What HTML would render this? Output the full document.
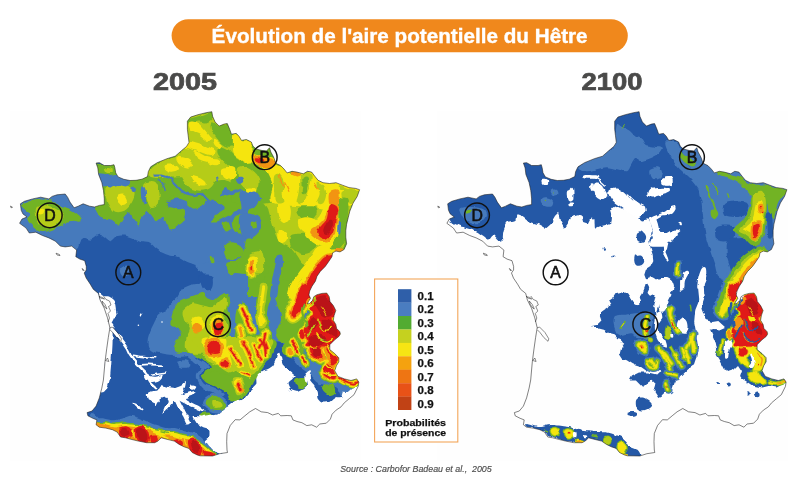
<!DOCTYPE html>
<html lang="fr">
<head>
<meta charset="utf-8">
<title>Évolution de l'aire potentielle du Hêtre</title>
<style>
html,body{margin:0;padding:0;background:#fff;}
body{width:800px;height:491px;overflow:hidden;position:relative;font-family:"Liberation Sans",sans-serif;}
svg{position:absolute;left:0;top:0;display:block;}
text{font-family:"Liberation Sans",sans-serif;}
</style>
</head>
<body>
<svg width="800" height="491" viewBox="0 0 800 491" role="img" aria-label="Évolution de l'aire potentielle du Hêtre, 2005 et 2100">
<defs>
<filter id="soft" x="0" y="0" width="100%" height="100%" filterUnits="objectBoundingBox" color-interpolation-filters="sRGB">
<feTurbulence type="fractalNoise" baseFrequency="0.11" numOctaves="2" seed="7" result="n"/>
<feDisplacementMap in="SourceGraphic" in2="n" scale="4.5" xChannelSelector="R" yChannelSelector="G" result="d"/>
<feGaussianBlur in="d" stdDeviation="0.45"/>
</filter>
<path id="fr" d="M20.4 203.8 L24.4 201.3 L32.6 198.9 L40.7 197.2 L48.9 198.9 L52.1 196.4 L57 194.8 L65.2 194 L67.6 197.2 L70 202.1 L74.1 207.8 L78.2 206.2 L83.1 203.8 L89.6 206.2 L94.5 207 L99.4 205.4 L104.3 204.6 L104.3 198.9 L103.5 190.7 L101.8 182.6 L98.6 174.4 L97.8 167.9 L96.1 163 L99.4 162.7 L104.3 165.5 L110.8 165.5 L114 164.7 L114.9 167.9 L115.7 172.8 L118.1 176.9 L123.8 179.3 L130 180.5 L136 180.3 L142 179.2 L147.5 176.6 L148.3 171.7 L150.7 166.8 L157.2 162.7 L167 158.7 L175.2 156.2 L181.7 150.5 L186.6 146.4 L189 142.4 L188.2 135.8 L187.4 129.3 L187.4 121.2 L190.6 117.1 L198 114.7 L206.1 112.7 L211.8 111.7 L212.6 116.3 L215.1 122 L219.2 126.1 L224 124.1 L227.3 123.6 L229.7 129.3 L231.4 134.2 L236.3 133.4 L239 136.3 L241.5 140.4 L246.4 139.6 L251.3 142 L252.9 146.1 L256 149 L262 150.5 L266.5 151 L269.5 147.7 L270.8 152 L273 156 L274.1 158.3 L275.7 163.2 L280.6 165.6 L283.9 168.9 L287.1 172.9 L292 171.3 L296.9 172.1 L303.4 173.8 L307.5 171.3 L311.6 172.1 L314.8 176.2 L318.1 180.3 L323 182.7 L329.5 183.5 L336 182.7 L342.5 185.2 L349 187.6 L355.6 188.4 L359.6 189.7 L357.2 196.5 L353.1 203 L349.8 211.2 L348.2 217.7 L346.6 224.2 L345.8 230.7 L345.8 237.2 L346.6 243.8 L344.1 249.5 L340 251.9 L336 251.1 L332.7 252.7 L331.9 256.8 L328.6 261.7 L325.2 266.5 L320.3 271.4 L317 276.3 L315.4 281.2 L312.1 286.1 L309.7 291 L308.9 295 L310.5 298.3 L308.5 301.5 L307.2 304 L309.5 303.5 L312.5 300.5 L313.8 296.7 L317 294.7 L321.9 293.4 L326.8 293.1 L329.2 296.7 L330 301.5 L333.3 305.6 L335.8 310.5 L334.1 315.4 L333.3 320.3 L335.8 324.4 L336.6 328.4 L339.8 331.7 L340.4 334 L338.8 336.5 L334.7 339.8 L329.8 344.7 L329.8 349.6 L334.7 353.6 L338.8 357.7 L338.8 361.8 L336.4 365.8 L334.7 370.7 L338 376.4 L344.5 378.9 L351 380.5 L356.7 378.9 L358.8 382.1 L358.1 386.5 L354 394.7 L349.2 398.7 L344.3 402.8 L341 406.9 L336.1 410.1 L332.1 414.2 L330.4 419.1 L326.3 423.2 L319.8 424 L316.6 427.2 L311.7 424.8 L306.8 425.6 L301.9 422.7 L297 421.5 L292.9 419.9 L291.3 415.8 L287.2 415.5 L280.7 415.8 L278.3 413.4 L272.6 415 L267.7 412.6 L261.2 411.8 L255.5 408.5 L249.8 411.8 L244.9 415.8 L240 419.9 L235.2 419.7 L230.3 425.4 L227 433.5 L226.7 441.7 L227 450 L227.5 452.5 L219.6 453.7 L212.5 456 L200 455.8 L197.1 454.9 L192.2 452.5 L188.9 448.4 L184 446.8 L179.2 444.4 L174.3 441.1 L167.8 439.5 L161.2 437.8 L158 441.1 L154.7 442.7 L146.6 442.7 L138.4 441.1 L131.9 439.5 L125.4 437.8 L120.5 437 L117.2 432.1 L112.4 429.7 L105.8 428.1 L99.3 427.2 L96.1 424.8 L96.9 419.9 L92.8 418.3 L87.9 415.8 L87.1 412.6 L92 411 L96.1 406.1 L99.3 397.9 L101.8 388.1 L103.4 380 L105 361.9 L106.7 348.9 L108.3 337.5 L109.9 327.7 L107.5 317.9 L104.2 308.1 L100.1 300 L98.4 293.4 L93.3 289.3 L90.3 284.2 L86.2 278.1 L84.2 273 L86.3 270 L86.3 266.4 L84.7 260.7 L79.8 259.1 L75.8 256.7 L76.6 250.1 L71.7 246.1 L65.2 246.9 L60.3 246.1 L55.4 241.2 L48.9 237.9 L42.4 235.5 L35.8 232.2 L29.3 233 L26.1 228.1 L19.6 223.3 L22 219 L27 217 L23 214 L21.2 210.3Z"/>
<clipPath id="frclip"><use href="#fr"/></clipPath>
</defs>
<rect width="800" height="491" fill="#fff"/>
<rect x="10" y="111" width="351" height="350" fill="#fefefe"/>
<rect x="437" y="111" width="351" height="350" fill="#fefefe"/>
<g id="map2005">
<g clip-path="url(#frclip)"><g filter="url(#soft)">
<rect x="0" y="100" width="370" height="370" fill="#2458a6"/>
<path d="M10 200C15.2 195.9 48.3 194.7 60 190C71.7 185.3 93.7 169.9 110 160C126.3 150.1 181.3 107.3 200 105C218.7 102.7 250.8 130.7 270 140C289.2 149.3 355.7 166.3 365 185C374.3 203.7 357.6 286.6 350 300C342.4 313.4 308.2 296.5 300 300C291.8 303.5 284.4 324.8 280 330C275.6 335.2 266.7 342.7 262 345C257.3 347.3 244.3 351.2 240 350C235.7 348.8 228.3 340.8 225 335C221.7 329.2 213.3 305.8 212 300C210.7 294.2 214 287.5 214 285C214 282.5 213.5 280.2 212.4 278.7C211.3 277.2 205.6 273.4 204.3 272.1C203 270.8 202.3 268.1 201 267.2C199.7 266.3 194.8 264.8 192.9 264C191 263.2 186.4 261.6 184.7 260.7C183 259.8 179.9 257.3 178.2 256.7C176.5 256.1 171.9 256.3 170 255.8C168.1 255.3 163.6 253.5 161.9 252.6C160.2 251.7 156.9 248.9 155.4 247.7C153.9 246.5 150.6 242.8 148.9 242C147.2 241.2 142.6 241.7 140.7 241.2C138.8 240.7 134.5 238.6 132.6 237.9C130.7 237.2 126.3 235.7 124.4 235.5C122.5 235.3 118 235.6 116.3 236.3C114.6 237 111.7 241.4 109.8 241.2C107.9 241 102.2 234.9 100 234.7C97.8 234.5 93 239.2 91.2 239.6C89.4 240 86 237.7 84.7 237.9C83.4 238.1 80.8 239.8 79.8 241.2C78.8 242.6 78.3 249.2 76 250C73.7 250.8 65.4 249.8 60 248C54.6 246.2 35.2 237.7 30 235C24.8 232.3 17.3 229.1 15 225C12.7 220.9 4.8 204.1 10 200Z" fill="#467abc"/>
<path d="M156.5 317.5C157.7 312 163.4 312.7 165.3 310.9C167.2 309.1 168.9 305.8 170.5 303.9C172.1 302 175.9 299 177.5 296.9C179.1 294.8 180.9 289.7 182.8 288.1C184.7 286.5 189.2 285.3 191.5 284.6C193.8 283.9 198.6 284.1 200.3 282.9C202 281.7 204.1 278.1 204.1 275.5C204.1 272.9 187.3 264.8 200.6 263.2C213.9 261.6 289.8 251.3 303.5 263.2C317.2 275.1 323.1 340.6 303.5 352.5C283.9 364.4 176.1 357.2 156.5 352.5C136.9 347.8 155.3 323 156.5 317.5Z" fill="#467abc"/>
<path d="M184.5 341.8C185.7 340.2 190.1 338.4 191.5 338.2C192.9 338 195.5 339.1 195 340C194.5 340.9 188.5 343.7 188 345.3C187.5 346.9 190.1 350.4 191.5 352.3C192.9 354.2 196.6 357.9 198.5 359.3C200.4 360.7 204.1 361.9 205.5 362.8C206.9 363.7 209.2 365.4 209 366.3C208.8 367.2 205 368.4 203.8 369.8C202.6 371.2 200.3 374.9 200.3 376.8C200.3 378.7 202.2 382.4 203.8 383.8C205.4 385.2 210.4 386.4 212.5 387.3C214.6 388.2 217.9 389.9 219.5 390.8C221.1 391.7 224.6 393.6 224.8 394.3C225 395 222.9 396.2 221.3 396C219.7 395.8 214.8 393.4 212.5 392.5C210.2 391.6 205.7 390.4 203.8 389C201.9 387.6 199.4 383.9 198.5 382C197.6 380.1 196.6 376.9 196.8 375C197 373.1 200.5 369.6 200.3 368C200.1 366.4 196.6 364.2 195 362.8C193.4 361.4 189.6 359.1 188 357.5C186.4 355.9 183.3 352.6 182.8 350.5C182.3 348.4 183.3 343.4 184.5 341.8Z" fill="#467abc"/>
<path d="M209 397.8C210.8 396.6 213.7 395.4 216 396C218.3 396.6 221.2 399.6 223 401.3C224.8 403.1 227.1 405.1 226.5 406.5C225.9 407.9 222.1 409.7 219.5 410C216.9 410.3 213.1 409.5 210.8 408.3C208.5 407.1 205.8 404.8 205.5 403C205.2 401.2 207.2 399 209 397.8Z" fill="#467abc" stroke="#467abc" stroke-width="5" stroke-linejoin="round" stroke-linecap="round"/>
<path d="M174 349.1C175.9 347.8 184.2 347.3 186.3 348.4C188.4 349.5 188.5 354.5 186.6 355.8C184.7 357.1 176.8 357.2 174.7 356.1C172.6 355 172.1 350.4 174 349.1Z" fill="#467abc"/>
<path d="M179.3 361.4C180.7 360.2 186.5 359.9 188 361C189.5 362.1 189.8 366.8 188.4 368C187 369.2 181.1 369.1 179.6 368C178.1 366.9 177.9 362.6 179.3 361.4Z" fill="#467abc"/>
<path d="M257.7 294.4C259.9 287.8 269.9 290.1 274 292C278.1 293.9 284.4 303.1 288.1 308.4C291.8 313.7 298 324.6 302.1 331.8C306.2 339 313.8 356 318.5 362.2C323.2 368.4 331.6 376.4 337.2 378.6C342.8 380.8 357.5 376.4 360.6 378.6C363.7 380.8 366.2 392.8 360.6 395C355 397.2 328.2 397.2 318.5 395C308.8 392.8 294.6 383.9 288.1 378.6C281.6 373.3 273.5 360.2 269.4 355.2C265.3 350.2 259.3 349.3 257.7 341.2C256.1 333.1 255.5 301 257.7 294.4Z" fill="#467abc"/>
<path d="M313.1 297.2C314.1 295.8 317.4 294.7 319.2 294.2C321 293.7 325.2 293.1 326.5 293.5C327.8 293.9 328.5 296.1 329 297.2C329.5 298.3 329.5 301 330.2 302.1C330.9 303.2 333.2 304.7 333.9 305.8C334.6 306.9 335.7 309.3 335.7 310.6C335.7 311.9 334.5 314.4 333.9 315.5C333.3 316.6 331.2 318.2 331.4 319.2C331.6 320.2 334.1 321.8 335.1 322.9C336.1 324 337.9 326.4 338.7 327.7C339.5 329 341.1 331.3 341.2 332.6C341.3 333.9 339.6 336.2 339.4 337.5C339.2 338.8 340.1 341.3 340 342.4C339.9 343.5 343.3 345.6 338.7 346.1C334.1 346.6 309.9 347.1 305.8 346.1C301.7 345.1 308 340.3 308.2 338.7C308.4 337.1 307.5 334.9 307 333.9C306.5 332.9 304.7 332.4 304.5 331.4C304.3 330.4 305.5 327.8 305.8 326.5C306.1 325.2 306.5 322.7 307 321.6C307.5 320.5 308.6 318.8 309.4 318C310.2 317.2 312.8 316.5 313.1 315.5C313.4 314.5 312.4 311.6 311.9 310.6C311.4 309.6 309.4 309 309.4 308.2C309.4 307.4 311.4 306 311.9 304.5C312.4 303 312.1 298.6 313.1 297.2Z" fill="#467abc" stroke="#467abc" stroke-width="10" stroke-linejoin="round" stroke-linecap="round"/>
<path d="M307 333.8C311.7 333.1 335.8 333 340 333.8C344.2 334.6 339.5 338.8 338.7 339.9C337.9 341 335.4 341.6 333.9 342.3C332.4 343 328.4 343.8 327.7 344.8C327 345.8 328.2 348.6 329 349.7C329.8 350.8 332.8 352.3 333.9 353.3C335 354.3 336.9 356 337.5 357C338.1 358 338.9 359.6 338.7 360.6C338.5 361.6 336.9 363.2 336.3 364.3C335.7 365.4 333.9 368.1 333.9 369.2C333.9 370.3 335.7 371.9 336.3 372.9C336.9 373.9 339 375.5 338.7 376.5C338.4 377.5 335.2 379.9 333.9 380.2C332.6 380.5 330.3 379.5 329 379C327.7 378.5 325.1 377.5 324.1 376.5C323.1 375.5 321.6 372.9 321.6 371.6C321.6 370.3 323.4 367.9 324.1 366.8C324.8 365.7 326.5 364.1 326.5 363.1C326.5 362.1 324.9 359.6 324.1 359.4C323.3 359.2 321.4 361.9 320.4 361.9C319.4 361.9 317.9 360.1 316.8 359.4C315.7 358.7 313 358 311.9 357C310.8 356 308.5 353.4 308.2 352.1C307.9 350.8 309.6 348.5 309.4 347.2C309.2 345.9 307.7 343.4 307 342.3C306.3 341.2 304.5 339.8 304.5 338.7C304.5 337.6 302.3 334.5 307 333.8Z" fill="#467abc" stroke="#467abc" stroke-width="9.6" stroke-linejoin="round" stroke-linecap="round"/>
<path d="M300.3 331.4C300.8 330.1 302.5 329.2 303.3 329.6C304.1 330 305.2 332.4 305.2 333.9C305.2 335.4 304.1 338.1 303.3 338.7C302.5 339.3 300.8 338.7 300.3 337.5C299.8 336.3 299.8 332.7 300.3 331.4Z" fill="#467abc" stroke="#467abc" stroke-width="10" stroke-linejoin="round" stroke-linecap="round"/>
<path d="M292.3 341.1C292.9 342.1 295.2 345.2 296 347.2C296.8 349.2 297 352.3 297.2 353.3" fill="none" stroke="#467abc" stroke-width="12" stroke-linejoin="round" stroke-linecap="round"/>
<path d="M302.1 357 L305.8 363.1" fill="none" stroke="#467abc" stroke-width="11.6" stroke-linejoin="round" stroke-linecap="round"/>
<path d="M340 378C341 378.6 343.9 380.5 346.1 381.4C348.3 382.3 351.4 383.6 353.4 383.6C355.4 383.6 357.2 381.6 358 381.2" fill="none" stroke="#467abc" stroke-width="10.6" stroke-linejoin="round" stroke-linecap="round"/>
<path d="M295.1 378.6C296.8 377.4 302.6 376.2 304.5 377.4C306.4 378.6 307.6 383.7 306.8 385.6C306 387.6 301.8 389.3 299.8 389.1C297.8 388.9 295.4 386.2 294.6 384.5C293.8 382.8 293.5 379.8 295.1 378.6Z" fill="#467abc" stroke="#467abc" stroke-width="4" stroke-linejoin="round" stroke-linecap="round"/>
<path d="M323.2 385.6C324.9 384.6 330.7 383.3 332.6 384.5C334.6 385.7 335.7 390.9 334.9 392.7C334.1 394.4 329.9 395.3 327.9 395C325.9 394.7 323.5 392.4 322.7 390.8C321.9 389.2 321.5 386.7 323.2 385.6Z" fill="#467abc" stroke="#467abc" stroke-width="4" stroke-linejoin="round" stroke-linecap="round"/>
<path d="M88.8 416.9C89.9 416.6 94.5 418.2 96.3 418.4C98 418.6 101.8 418.2 103.8 418.4C105.8 418.6 110.9 420.3 113.1 420.3C115.3 420.3 120.5 418.9 122.5 418.4C124.5 417.9 128.2 415.9 130 415.8C131.8 415.7 135.5 416.9 137.5 417.6C139.5 418.3 144.7 420.5 146.9 421.4C149.1 422.3 154.1 424.3 156.3 425.1C158.5 425.9 163.4 427.8 165.6 428.1C167.8 428.5 172.8 427.8 175 428.1C177.2 428.4 182.2 430.4 184.4 430.9C186.6 431.4 191.8 432 193.8 432.8C195.8 433.6 199.8 436.3 201.3 437.5C202.8 438.7 205.8 441.8 206.9 443.1C208 444.4 209.9 447.2 211 448.4C212.1 449.6 215.2 451.8 216.3 453.4C217.4 455 220.2 460.9 220 461.9C219.8 462.9 216.4 461.9 214.4 461.9C212.4 461.9 205.3 461.8 203.1 461.9C200.9 462 198 463.7 195.6 462.8C193.2 461.9 185.3 456.1 182.5 454.4C179.7 452.6 173.9 448.9 171.3 447.8C168.7 446.7 162.4 444.8 160 445C157.6 445.2 153.2 449.2 150.6 449.7C148 450.2 140.8 450.4 137.5 449.7C134.2 449 125.6 445.5 122.5 444.1C119.4 442.7 114.1 439.1 111.3 437.5C108.5 435.9 100.9 432 98.1 430C95.3 428 88 422.1 86.9 420.6C85.8 419.1 87.7 417.2 88.8 416.9Z" fill="#467abc"/>
<path d="M92 413C93.7 413.3 98.7 417.7 100 420C101.3 422.3 100.8 426.3 100 427C99.2 427.7 96.7 425.5 95 424C93.3 422.5 90.5 419.8 90 418C89.5 416.2 90.3 412.7 92 413Z" fill="#467abc"/>
<path d="M121 268C122.2 266.9 125.4 265.3 127 265.5C128.6 265.7 130.3 267.4 130.5 269C130.7 270.6 129.2 273.8 128 275C126.8 276.2 124.3 277 123 276.5C121.7 276 120.3 273.4 120 272C119.7 270.6 119.8 269.1 121 268Z" fill="#467abc"/>
<path d="M269.4 343.5C271.3 341.6 278.3 339.6 281.1 341.2C283.9 342.8 287.9 351.8 290.4 355.2C292.9 358.6 297.3 364.4 299.8 366.9C302.3 369.4 306.6 371.7 309.1 373.9C311.6 376.1 314.8 381.4 318.5 383.3C322.2 385.2 334.7 385.5 337.2 388C339.7 390.5 343.7 400.1 337.2 402C330.7 403.9 296.5 405.7 288.1 402C279.7 398.3 276.8 380.1 274 373.9C271.2 367.7 267.6 359.3 267 355.2C266.4 351.1 267.5 345.4 269.4 343.5Z" fill="#2458a6"/>
<path d="M96.1 162.7C97.1 162.5 101.4 165.5 104.3 166C107.2 166.5 111.5 164.6 113.2 165.5C114.9 166.4 114.8 169.6 114.7 171.2C114.6 172.8 113.9 174.2 112.4 174.8C110.9 175.4 107.8 175.4 105.9 174.8C104.1 174.2 102.5 172.8 101.3 171.5C100 170.2 99.3 168.6 98.4 167.1C97.5 165.6 95.1 162.9 96.1 162.7Z" fill="#72b324"/>
<path d="M20.9 204.6C21.4 204 24.5 203.1 26.1 202.5C27.7 201.9 30.7 200.7 32.6 200.2C34.5 199.7 38.5 198.6 40.7 198.6C42.9 198.6 46.9 199.8 48.9 200.2C50.9 200.6 53.7 201.1 55.4 201.8C57.1 202.5 60.2 204.8 61.9 205.7C63.6 206.6 66.4 207.3 68.4 208.3C70.4 209.3 74.9 211.9 76.6 213.2C78.3 214.5 81 217.1 81.5 218.4C82 219.7 81.3 222.3 80.2 222.7C79.1 223.1 75.3 221.6 73.3 221.7C71.3 221.8 66.7 222.6 65.2 223.3C63.7 224 63.2 225.9 61.9 226.6C60.6 227.3 57.4 227.8 55.4 228.5C53.4 229.2 49.4 231.1 47.2 231.5C45 231.9 41 232.2 39.1 231.5C37.2 230.8 34 227.9 32.6 226.6C31.2 225.3 29.2 222.8 28.5 221.7C27.8 220.6 27.1 219.1 27.4 218.1C27.7 217.1 31.2 214.9 31 213.9C30.8 212.9 27.2 211.5 26.1 210.6C25 209.7 23.2 208.1 22.5 207.3C21.8 206.5 20.4 205.2 20.9 204.6Z" fill="#72b324"/>
<path d="M128 161.1 L148.3 161.1 L187 108.1 L292.8 108.1 L292.8 200.8 L128 200.8Z" fill="#72b324"/>
<path d="M95.9 209.7C97.1 215.9 104.2 217.6 106.1 218.9C108 220.2 110.8 220.1 112.2 220.9C113.6 221.7 117.1 225.6 118.3 225.4C119.5 225.2 121.2 220.4 122.4 218.9C123.6 217.4 127.1 212.5 128.5 212.7C129.9 212.9 133.4 219.4 134.6 220.9C135.8 222.4 138 225.6 138.7 225.4C139.4 225.2 139.8 220.6 140.7 218.9C141.6 217.2 145.6 211.2 146.8 210.7C148 210.2 149.7 213.6 150.9 214.8C152.1 216 155.6 221.1 157 221.3C158.4 221.5 161.9 216.4 163.1 216.8C164.3 217.2 166.3 223.5 167.2 225C168.1 226.5 170 229.4 171.2 229.4C172.4 229.4 175.9 226.4 177.4 225.4C178.9 224.4 182.9 222.4 183.9 220.9C184.9 219.4 186.1 214.4 185.9 212.7C185.7 211 182.8 207.8 181.8 206.6C180.8 205.4 178.6 202.8 177.4 202.6C176.2 202.4 172.4 204.8 171.2 204.6C170 204.4 167.2 201.4 167.2 200.5C167.2 199.6 170 197.2 171.2 196.5C172.4 195.8 176.2 194.2 177.4 194.4C178.6 194.6 180.2 197.3 181.4 198.5C182.6 199.7 186.1 203.4 187.5 204.6C188.9 205.8 191.9 208.5 193.6 208.7C195.3 208.9 200.6 207.6 201.8 206.6C203 205.6 204.7 201.9 204.2 200.5C203.7 199.1 197.5 194.9 197.7 194.4C197.9 193.9 204 195.8 205.9 196.5C207.8 197.2 212.3 199.6 214 200.5C215.7 201.4 219.3 203.6 220.5 204.6C221.7 205.6 225.1 207.5 224.6 208.7C224.1 209.9 218.1 213.3 216.4 214.8C214.7 216.3 209.7 220.6 209.9 221.3C210.1 222 216.2 221.4 218.1 220.9C220 220.4 224.3 217.8 226.2 216.8C228.1 215.8 232.5 213.9 234.4 212.7C236.3 211.5 240.6 207.3 242.5 206.6C244.4 205.9 248.2 206.1 250.6 206.6C253 207.1 261.4 215.4 262.8 210.7C264.2 206 282.3 171.1 262.8 165.9C243.3 160.7 115.4 160.8 95.9 165.9C76.4 171 94.7 203.5 95.9 209.7Z" fill="#72b324"/>
<path d="M232.3 218.9C233.7 216.2 239.4 214.5 242.5 214.8C245.6 215.1 249.6 218.5 251 220.9C252.4 223.3 252.4 226.9 251 229C249.6 231.1 245.3 233.2 242.5 233.5C239.7 233.8 236.1 233.5 234.4 231.1C232.7 228.7 231 221.6 232.3 218.9Z" fill="#72b324"/>
<path d="M222.1 221.9C223.1 220.9 226.8 219.7 228.2 220.9C229.6 222.1 230.8 227.2 230.3 229C229.8 230.8 226.6 231.8 225.2 231.5C223.8 231.2 222.6 228.6 222.1 227C221.6 225.4 221.1 222.9 222.1 221.9Z" fill="#72b324"/>
<path d="M224.2 247.4C224.9 244.9 227.6 242.7 230.3 242.3C233 242 238.4 243.4 240.5 245.3C242.6 247.2 243.9 251.1 242.9 253.5C241.9 255.9 237.2 259.3 234.4 260C231.6 260.7 227.9 259.6 226.2 257.5C224.5 255.4 223.5 249.9 224.2 247.4Z" fill="#72b324"/>
<path d="M209.9 256.5C210.3 255.6 212.4 256.1 213.2 257.1C213.9 258.1 214.8 261.7 214.4 262.6C214 263.5 211.7 263.6 210.9 262.6C210.2 261.6 209.5 257.4 209.9 256.5Z" fill="#72b324"/>
<path d="M246.6 239.2C248 237.6 252.5 236 254.7 235.1C256.9 234.2 261.7 227.2 262.8 232.1C263.9 237 267.1 266.5 262.8 271.8C258.5 277.1 234.4 272.9 230.3 271.8C226.2 270.7 230.9 265.5 232.3 263.6C233.7 261.7 238.9 259.7 240.5 257.5C242.1 255.3 243.7 249.8 244.5 247.4C245.3 245 245.2 240.8 246.6 239.2Z" fill="#72b324"/>
<path d="M248 193 L372.2 193 L372.2 296.9 L248 296.9Z" fill="#72b324"/>
<path d="M174 308.8C175.4 305.5 178.7 301.6 181 300C183.3 298.4 188.7 297.4 191.5 296.5C194.3 295.6 199.9 292.8 202 293C204.1 293.2 205.7 297.4 207.3 298.3C208.9 299.2 212.4 300.5 214.3 300C216.2 299.5 219.4 295.7 221.3 294.8C223.2 293.9 227.1 292.3 228.3 293C229.5 293.7 230.1 297.9 230 300C229.9 302.1 227.4 306.7 227.4 308.8C227.4 310.9 229.4 313.7 230 315.8C230.6 317.9 231.8 321.9 231.8 324.5C231.8 327.1 230.7 332.4 230 335C229.3 337.6 226.5 341.5 226.5 343.8C226.5 346.1 236.5 351.3 230 352.5C223.5 353.7 184.7 353.9 177.5 352.5C170.3 351.1 175.3 344.3 175.8 342C176.3 339.7 180.8 336.9 181 335C181.2 333.1 178.9 329.4 177.5 328C176.1 326.6 171 327.1 170.5 324.5C170 321.9 172.6 312.1 174 308.8Z" fill="#72b324"/>
<path d="M237 308.8C237.9 306.8 240.9 303.1 242.3 302.6C243.7 302.1 246.6 303.8 247.5 305.3C248.4 306.8 248.8 311.4 249.3 314C249.8 316.6 250.3 322.2 251 324.5C251.7 326.8 253.6 329.6 254.5 331.5C255.4 333.4 257.1 335.7 258 338.5C258.9 341.3 265.2 350.6 261.5 352.5C257.8 354.4 233.7 353.9 230 352.5C226.3 351.1 232.8 344.8 233.5 342C234.2 339.2 235.1 334.8 235.3 331.5C235.5 328.2 235.1 320.5 235.3 317.5C235.5 314.5 236.1 310.8 237 308.8Z" fill="#72b324"/>
<path d="M256.3 300C257 297.4 259.9 292.1 261.5 289.5C263.1 286.9 266.9 281.5 268.5 280.8C270.1 280.1 273.3 282.4 273.8 284.3C274.3 286.2 272.7 292 272 294.8C271.3 297.6 269.2 302.5 268.5 305.3C267.8 308.1 266.8 313 266.8 315.8C266.8 318.6 267.8 323.7 268.5 326.3C269.2 328.9 271.3 331.5 272 335C272.7 338.5 275.2 350.2 273.8 352.5C272.4 354.8 263.4 354.4 261.5 352.5C259.6 350.6 260.3 341.8 259.8 338.5C259.3 335.2 258.2 330.8 258 328C257.8 325.2 258.2 320.1 258 317.5C257.8 314.9 256.5 311.1 256.3 308.8C256.1 306.5 255.6 302.6 256.3 300Z" fill="#72b324"/>
<path d="M226.5 263.2C227.7 261.4 235.5 261.7 237 263.2C238.5 264.7 236.5 270.2 235.3 272C234.1 273.8 231.5 275.3 230 273.8C228.5 272.3 225.3 265 226.5 263.2Z" fill="#72b324"/>
<path d="M244 263.2C247.5 262 260.9 261.7 265 263.2C269.1 264.7 269.1 269.1 268.5 272C267.9 274.9 263.8 279.1 261.5 280.8C259.2 282.6 256.8 283.4 254.5 282.5C252.2 281.6 249.2 277.5 247.5 275.5C245.8 273.5 244.6 272.4 244 270.3C243.4 268.2 240.5 264.4 244 263.2Z" fill="#72b324"/>
<path d="M282.5 263.2C285.8 261.8 300.7 251.3 303.5 263.2C306.3 275.1 306.3 340.6 303.5 352.5C300.7 364.4 284.8 354.4 282.5 352.5C280.2 350.6 286 342 286 338.5C286 335 282.5 329.6 282.5 326.3C282.5 323 285.8 317.5 286 314C286.2 310.5 285 303.7 284.3 300C283.6 296.3 281.5 289.5 280.8 286C280.1 282.5 278.8 276.8 279 273.8C279.2 270.8 279.2 264.6 282.5 263.2Z" fill="#72b324"/>
<path d="M188 343.5C188.5 341.9 183.8 338.9 195 338.2C206.2 337.5 261.7 336.1 272 338.2C282.3 340.3 272.9 350.5 272 354C271.1 357.5 266.9 361.7 265 364.5C263.1 367.3 259.6 372.4 258 375C256.4 377.6 254.2 381.7 252.8 383.8C251.4 385.9 248.9 388.9 247.5 390.8C246.1 392.7 243.7 396.4 242.3 397.8C240.9 399.2 238.6 401.1 237 401.3C235.4 401.5 231.4 400.7 230 399.5C228.6 398.3 227.9 393.9 226.5 392.5C225.1 391.1 221.4 389.9 219.5 389C217.6 388.1 214.4 386.4 212.5 385.5C210.6 384.6 206.9 383.2 205.5 382C204.1 380.8 202 378.4 202 376.8C202 375.2 204.3 371.2 205.5 369.8C206.7 368.4 210.8 367.5 210.8 366.3C210.8 365.1 207.1 362.2 205.5 361C203.9 359.8 200.4 358.9 198.5 357.5C196.6 356.1 192.9 352.4 191.5 350.5C190.1 348.6 187.5 345.1 188 343.5Z" fill="#72b324"/>
<path d="M207.3 373.3C209.3 372.1 212.8 371.2 216 371.5C219.2 371.8 223.3 373.5 226.5 375C229.7 376.5 232.7 379.1 235.3 380.3C237.9 381.5 240.6 380.6 242.3 382C244.1 383.4 246.1 386.7 245.8 389C245.5 391.3 242.6 394.5 240.5 396C238.4 397.5 235.8 398.4 233.5 397.8C231.2 397.2 229.1 394.2 226.5 392.5C223.9 390.8 220.7 388.8 217.8 387.3C214.9 385.9 211.3 385.3 209 383.8C206.7 382.3 204.1 380.2 203.8 378.5C203.5 376.8 205.3 374.5 207.3 373.3Z" fill="#72b324"/>
<path d="M209 397.8C210.8 396.6 213.7 395.4 216 396C218.3 396.6 221.2 399.6 223 401.3C224.8 403.1 227.1 405.1 226.5 406.5C225.9 407.9 222.1 409.7 219.5 410C216.9 410.3 213.1 409.5 210.8 408.3C208.5 407.1 205.8 404.8 205.5 403C205.2 401.2 207.2 399 209 397.8Z" fill="#72b324"/>
<path d="M198.5 414.4C199.1 413.5 203.2 412.8 205.5 412.6C207.8 412.5 211.6 412.8 212.5 413.5C213.4 414.2 212.6 416.2 210.8 417C209.1 417.8 204.1 418.5 202 418.1C199.9 417.7 197.9 415.3 198.5 414.4Z" fill="#72b324"/>
<path d="M269.4 282.7C272.1 280.4 286.1 280 290.4 282.7C294.7 285.4 293.9 293.9 295.1 299C296.3 304.1 296.2 309.2 297.4 313.1C298.6 317 301.7 319.3 302.1 322.4C302.5 325.5 301 329.1 299.8 331.8C298.6 334.5 297.5 336.9 295.1 338.8C292.8 340.8 288.4 343.5 285.7 343.5C283 343.5 280.2 341.1 278.7 338.8C277.1 336.5 276 332.6 276.4 329.5C276.8 326.4 280.7 323.6 281.1 320.1C281.5 316.6 279.9 312.3 278.7 308.4C277.5 304.5 275.6 301 274 296.7C272.4 292.4 266.7 285 269.4 282.7Z" fill="#72b324"/>
<path d="M313.1 297.2C314.1 295.8 317.4 294.7 319.2 294.2C321 293.7 325.2 293.1 326.5 293.5C327.8 293.9 328.5 296.1 329 297.2C329.5 298.3 329.5 301 330.2 302.1C330.9 303.2 333.2 304.7 333.9 305.8C334.6 306.9 335.7 309.3 335.7 310.6C335.7 311.9 334.5 314.4 333.9 315.5C333.3 316.6 331.2 318.2 331.4 319.2C331.6 320.2 334.1 321.8 335.1 322.9C336.1 324 337.9 326.4 338.7 327.7C339.5 329 341.1 331.3 341.2 332.6C341.3 333.9 339.6 336.2 339.4 337.5C339.2 338.8 340.1 341.3 340 342.4C339.9 343.5 343.3 345.6 338.7 346.1C334.1 346.6 309.9 347.1 305.8 346.1C301.7 345.1 308 340.3 308.2 338.7C308.4 337.1 307.5 334.9 307 333.9C306.5 332.9 304.7 332.4 304.5 331.4C304.3 330.4 305.5 327.8 305.8 326.5C306.1 325.2 306.5 322.7 307 321.6C307.5 320.5 308.6 318.8 309.4 318C310.2 317.2 312.8 316.5 313.1 315.5C313.4 314.5 312.4 311.6 311.9 310.6C311.4 309.6 309.4 309 309.4 308.2C309.4 307.4 311.4 306 311.9 304.5C312.4 303 312.1 298.6 313.1 297.2Z" fill="#72b324" stroke="#72b324" stroke-width="6.8" stroke-linejoin="round" stroke-linecap="round"/>
<path d="M307 333.8C311.7 333.1 335.8 333 340 333.8C344.2 334.6 339.5 338.8 338.7 339.9C337.9 341 335.4 341.6 333.9 342.3C332.4 343 328.4 343.8 327.7 344.8C327 345.8 328.2 348.6 329 349.7C329.8 350.8 332.8 352.3 333.9 353.3C335 354.3 336.9 356 337.5 357C338.1 358 338.9 359.6 338.7 360.6C338.5 361.6 336.9 363.2 336.3 364.3C335.7 365.4 333.9 368.1 333.9 369.2C333.9 370.3 335.7 371.9 336.3 372.9C336.9 373.9 339 375.5 338.7 376.5C338.4 377.5 335.2 379.9 333.9 380.2C332.6 380.5 330.3 379.5 329 379C327.7 378.5 325.1 377.5 324.1 376.5C323.1 375.5 321.6 372.9 321.6 371.6C321.6 370.3 323.4 367.9 324.1 366.8C324.8 365.7 326.5 364.1 326.5 363.1C326.5 362.1 324.9 359.6 324.1 359.4C323.3 359.2 321.4 361.9 320.4 361.9C319.4 361.9 317.9 360.1 316.8 359.4C315.7 358.7 313 358 311.9 357C310.8 356 308.5 353.4 308.2 352.1C307.9 350.8 309.6 348.5 309.4 347.2C309.2 345.9 307.7 343.4 307 342.3C306.3 341.2 304.5 339.8 304.5 338.7C304.5 337.6 302.3 334.5 307 333.8Z" fill="#72b324" stroke="#72b324" stroke-width="6.4" stroke-linejoin="round" stroke-linecap="round"/>
<path d="M300.3 331.4C300.8 330.1 302.5 329.2 303.3 329.6C304.1 330 305.2 332.4 305.2 333.9C305.2 335.4 304.1 338.1 303.3 338.7C302.5 339.3 300.8 338.7 300.3 337.5C299.8 336.3 299.8 332.7 300.3 331.4Z" fill="#72b324" stroke="#72b324" stroke-width="6.8" stroke-linejoin="round" stroke-linecap="round"/>
<path d="M292.3 341.1C292.9 342.1 295.2 345.2 296 347.2C296.8 349.2 297 352.3 297.2 353.3" fill="none" stroke="#72b324" stroke-width="8.8" stroke-linejoin="round" stroke-linecap="round"/>
<path d="M302.1 357 L305.8 363.1" fill="none" stroke="#72b324" stroke-width="8.4" stroke-linejoin="round" stroke-linecap="round"/>
<path d="M288.7 349.7C289.3 348.8 291.6 348.6 292.3 349.4C293 350.2 293.2 353.6 292.6 354.5C292 355.4 289.5 355.6 288.9 354.8C288.2 354 288.1 350.6 288.7 349.7Z" fill="#72b324" stroke="#72b324" stroke-width="6" stroke-linejoin="round" stroke-linecap="round"/>
<path d="M340 378C341 378.6 343.9 380.5 346.1 381.4C348.3 382.3 351.4 383.6 353.4 383.6C355.4 383.6 357.2 381.6 358 381.2" fill="none" stroke="#72b324" stroke-width="8" stroke-linejoin="round" stroke-linecap="round"/>
<path d="M260 338.8C260.8 340.1 263.7 343.6 264.7 346.3C265.7 349 265.7 353.7 265.9 355.2" fill="none" stroke="#72b324" stroke-width="11.6" stroke-linejoin="round" stroke-linecap="round"/>
<path d="M260 313.1 L264.2 322.4" fill="none" stroke="#72b324" stroke-width="10" stroke-linejoin="round" stroke-linecap="round"/>
<path d="M295.1 378.6C296.8 377.4 302.6 376.2 304.5 377.4C306.4 378.6 307.6 383.7 306.8 385.6C306 387.6 301.8 389.3 299.8 389.1C297.8 388.9 295.4 386.2 294.6 384.5C293.8 382.8 293.5 379.8 295.1 378.6Z" fill="#72b324"/>
<path d="M323.2 385.6C324.9 384.6 330.7 383.3 332.6 384.5C334.6 385.7 335.7 390.9 334.9 392.7C334.1 394.4 329.9 395.3 327.9 395C325.9 394.7 323.5 392.4 322.7 390.8C321.9 389.2 321.5 386.7 323.2 385.6Z" fill="#72b324"/>
<path d="M92.5 421C93.8 421.2 96.6 422 98.1 422.1C99.6 422.2 103.8 421.9 105.6 422.1C107.3 422.3 111.1 423.6 113.1 423.6C115.1 423.6 120.3 422.6 122.5 422.5C124.7 422.4 129.9 422.9 131.9 423.1C133.9 423.3 137.7 423.8 139.4 424C141.2 424.2 145.4 424.5 146.9 424.9C148.4 425.3 151 427.3 152.5 427.8C154 428.3 158.2 429.3 160 429.6C161.8 429.9 165.8 430.4 167.5 430.6C169.2 430.8 173.2 431.2 175 431.5C176.8 431.8 180.8 433 182.5 433.4C184.2 433.8 188.2 434.6 190 435.3C191.8 436 195.8 437.9 197.5 439C199.2 440.1 203.5 443.4 205 444.6C206.5 445.8 209.3 448.3 210.6 449.3C211.9 450.3 214.8 451.9 215.9 453.4C217 454.9 220.2 460.9 220 461.9C219.8 462.9 216.4 461.9 214.4 461.9C212.4 461.9 205.3 461.8 203.1 461.9C200.9 462 198 463.7 195.6 462.8C193.2 461.9 185.3 456.1 182.5 454.4C179.7 452.6 173.9 448.9 171.3 447.8C168.7 446.7 162.4 444.8 160 445C157.6 445.2 153.2 449.2 150.6 449.7C148 450.2 140.8 450.4 137.5 449.7C134.2 449 125.6 445.5 122.5 444.1C119.4 442.7 114.1 439.1 111.3 437.5C108.5 435.9 100.9 432 98.1 430C95.3 428 87.6 421.7 86.9 420.6C86.2 419.6 91.2 420.8 92.5 421Z" fill="#72b324"/>
<path d="M104.3 167.6C105.1 166.8 109.6 166.8 110.8 167.6C112 168.4 112.2 171.7 111.4 172.5C110.6 173.3 107.4 173.3 106.2 172.5C105 171.7 103.5 168.4 104.3 167.6Z" fill="#b5cc18"/>
<path d="M36.7 207.3C38.3 205.4 42.8 205.3 45.6 205.4C48.5 205.5 51.3 206.7 53.8 207.8C56.2 208.9 58.7 210.4 60.3 211.9C61.9 213.4 63.5 215.2 63.5 216.8C63.5 218.4 61.9 220.1 60.3 221.7C58.7 223.3 56.2 225.2 53.8 226.2C51.3 227.1 48 227.8 45.6 227.4C43.2 227.1 40.7 225.9 39.1 224.1C37.5 222.3 36.6 219.6 36.2 216.8C35.8 214 35.1 209.2 36.7 207.3Z" fill="#b5cc18"/>
<path d="M146.3 174.3C146.3 172.8 152 166.9 154.4 165.1C156.8 163.3 163.7 160.2 166.6 159C169.5 157.8 176.8 156 178.9 154.6C181 153.2 183.7 149.4 184.6 146.8C185.5 144.2 185.9 135.8 186.2 132.6C186.5 129.4 184.1 121.8 187 119.3C189.9 116.8 208 111.1 211.4 111.2C214.8 111.3 214.8 118.9 216.5 120.4C218.2 121.9 223.8 122.3 225.7 124C227.6 125.7 231 133.1 232.8 134.6C234.6 136.1 239.5 135.7 240.9 136.6C242.3 137.5 243 141.5 244.4 142.7C245.8 143.9 251.3 144.7 252.5 146.8C253.7 148.9 253.6 158.3 254.6 161.1C255.6 163.9 259 168.8 260.7 171.2C262.4 173.6 267.3 177.8 268.8 181.4C270.3 185 276.4 199.4 273.5 201.8C270.6 204.2 247.9 203.7 244 201.8C240.1 199.9 241.8 188.1 239.9 185.5C238 182.9 231 179.9 227.7 179.4C224.4 178.9 215.7 181.6 211.4 181.4C207.1 181.2 195.8 177.9 191.1 177.4C186.4 176.9 175 177.4 170.7 177.4C166.4 177.4 157.2 178.2 154.4 177.8C151.6 177.4 146.3 175.8 146.3 174.3Z" fill="#b5cc18"/>
<path d="M249.6 255.5C251.2 253.8 254.5 252.7 256.7 252.4C258.9 252.1 261.8 250.3 262.8 253.5C263.8 256.7 265.5 268.8 262.8 271.8C260.1 274.9 249.2 273.3 246.6 271.8C244 270.3 246.5 265.3 247 262.6C247.5 259.9 248 257.2 249.6 255.5Z" fill="#b5cc18"/>
<path d="M266.3 193C278.5 190.8 348.6 191.1 360 193C371.4 194.9 353.5 203.7 351.9 207.2C350.3 210.7 348.6 215.6 347.8 219.4C347 223.2 346.3 232.2 345.8 235.7C345.3 239.2 345.1 244 343.7 245.9C342.3 247.8 337.8 248.9 335.6 250C333.4 251.1 329.6 253.3 327.4 254.1C325.2 254.9 321.5 255 319.3 256.1C317.1 257.2 313.3 261.1 311.1 262.2C308.9 263.3 304.9 265.1 303 264.3C301.1 263.5 298.5 258.3 296.9 256.1C295.3 253.9 292.6 249.6 290.7 248C288.8 246.4 284.5 245.5 282.6 243.9C280.7 242.3 277.9 238.4 276.5 235.7C275.1 233 273.5 227 272.4 223.5C271.3 220 269.1 213.4 268.3 209.3C267.5 205.2 254.1 195.2 266.3 193Z" fill="#b5cc18"/>
<path d="M332.5 255.3C333.1 256.2 330.2 259.7 328.6 262.2C327 264.7 324.5 267.7 322.9 270.4C321.3 273.1 320.4 275.8 318.9 278.5C317.3 281.2 314.9 283.6 313.6 286.7C312.3 289.8 312.7 295.2 311.1 296.9C309.5 298.6 305 298.9 304.2 296.9C303.4 294.8 305.2 288 306.2 284.6C307.1 281.2 308.6 279.1 309.9 276.5C311.2 273.9 312.4 271.1 314 268.8C315.6 266.5 317.5 264.6 319.3 262.6C321.1 260.6 322.8 258.1 325 256.9C327.2 255.7 331.9 254.4 332.5 255.3Z" fill="#b5cc18" stroke="#b5cc18" stroke-width="18" stroke-linejoin="round" stroke-linecap="round"/>
<path d="M182.8 310.5C183.7 308.2 188.9 304.2 191.5 303.5C194.1 302.8 199.2 304.8 202 305.3C204.8 305.8 209.9 307.7 212.5 307C215.1 306.3 219.4 301.2 221.3 300C223.2 298.8 225.8 297.4 226.5 298.3C227.2 299.2 227 304.7 226.5 307C226 309.3 222.8 313.5 223 315.8C223.2 318.1 227.8 321.9 228.3 324.5C228.8 327.1 227.7 332.7 226.5 335C225.3 337.3 221.4 339.7 219.5 342C217.6 344.3 216.7 351.1 212.5 352.5C208.3 353.9 191.5 354.4 188 352.5C184.5 350.6 186.1 341.8 186.3 338.5C186.5 335.2 190 330.3 189.8 328C189.6 325.7 185.4 323.3 184.5 321C183.6 318.7 181.9 312.8 182.8 310.5Z" fill="#b5cc18"/>
<path d="M242.3 308.8C242.9 310 244.6 313.5 245.8 316.1C247 318.7 248.4 322.2 249.3 324.5C250.2 326.8 250.7 329.2 251 330.1" fill="none" stroke="#b5cc18" stroke-width="9.4" stroke-linejoin="round" stroke-linecap="round"/>
<path d="M239.6 328.4 L241.9 335" fill="none" stroke="#b5cc18" stroke-width="8.5" stroke-linejoin="round" stroke-linecap="round"/>
<path d="M242.3 340.3 L246.6 352.5" fill="none" stroke="#b5cc18" stroke-width="8" stroke-linejoin="round" stroke-linecap="round"/>
<path d="M263.6 287.8C263.3 289.8 262.5 295.6 261.9 300C261.3 304.4 260.1 309.9 260.1 314C260.1 318.1 261.6 322.8 261.9 324.5" fill="none" stroke="#b5cc18" stroke-width="8" stroke-linejoin="round" stroke-linecap="round"/>
<path d="M265.4 333.6C265.1 334.7 264.5 338 263.6 340.3C262.7 342.6 260.7 346.4 260.1 347.6" fill="none" stroke="#b5cc18" stroke-width="9.4" stroke-linejoin="round" stroke-linecap="round"/>
<path d="M251 265 L251.4 273.8" fill="none" stroke="#b5cc18" stroke-width="8" stroke-linejoin="round" stroke-linecap="round"/>
<path d="M195 338.2C204.1 336.8 258.6 336.6 268.5 338.2C278.4 339.8 270.1 347.2 269.4 350.5C268.7 353.8 265 360 263.3 362.8C261.6 365.6 258.2 369.5 256.3 371.5C254.4 373.5 251.2 377 249.3 377.6C247.4 378.2 244.2 376.8 242.3 375.9C240.4 375 237.2 371.1 235.3 370.6C233.4 370.1 230.4 372.9 228.3 372.4C226.2 371.9 221.6 368.3 219.5 367.1C217.4 365.9 214.5 364.9 212.5 363.6C210.5 362.3 206.2 359.5 204.6 357.5C203 355.5 201.9 351.4 200.6 348.8C199.3 346.2 185.9 339.6 195 338.2Z" fill="#b5cc18"/>
<path d="M231.8 379.4C232.9 377.9 238.8 377.5 240.9 378.5C243.1 379.5 244.3 383.1 244.7 385.5C245 387.9 244.3 391.3 243 392.9C241.7 394.5 238.5 395.9 237 395C235.5 394.1 235.1 389.9 234.2 387.3C233.3 384.7 230.7 380.9 231.8 379.4Z" fill="#b5cc18"/>
<path d="M212.5 401.3C213.4 400.4 218 401.2 219.5 402.1C221 403 222.2 405.6 221.3 406.5C220.4 407.4 215.8 408.5 214.3 407.6C212.8 406.7 211.6 402.2 212.5 401.3Z" fill="#b5cc18"/>
<path d="M303.3 283.8C305.5 282.4 310.5 282.6 311.6 283.8C312.7 285 310.3 288.9 309.7 291.1C309.1 293.3 308.8 295.4 308.2 297.2C307.6 299 306.6 300.5 305.8 302.1C305 303.7 304.3 305.4 303.3 307C302.3 308.6 300.9 310.5 299.7 311.9C298.5 313.3 297.2 314.5 296 315.5C294.8 316.5 293.4 318.1 292.6 317.7C291.8 317.3 291.2 315.1 291.4 313.3C291.5 311.5 292.7 309.3 293.5 307C294.3 304.7 295.2 302.1 296 299.7C296.8 297.2 297.2 294.9 298.4 292.3C299.6 289.7 301.1 285.2 303.3 283.8Z" fill="#b5cc18" stroke="#b5cc18" stroke-width="12" stroke-linejoin="round" stroke-linecap="round"/>
<path d="M313.1 297.2C314.1 295.8 317.4 294.7 319.2 294.2C321 293.7 325.2 293.1 326.5 293.5C327.8 293.9 328.5 296.1 329 297.2C329.5 298.3 329.5 301 330.2 302.1C330.9 303.2 333.2 304.7 333.9 305.8C334.6 306.9 335.7 309.3 335.7 310.6C335.7 311.9 334.5 314.4 333.9 315.5C333.3 316.6 331.2 318.2 331.4 319.2C331.6 320.2 334.1 321.8 335.1 322.9C336.1 324 337.9 326.4 338.7 327.7C339.5 329 341.1 331.3 341.2 332.6C341.3 333.9 339.6 336.2 339.4 337.5C339.2 338.8 340.1 341.3 340 342.4C339.9 343.5 343.3 345.6 338.7 346.1C334.1 346.6 309.9 347.1 305.8 346.1C301.7 345.1 308 340.3 308.2 338.7C308.4 337.1 307.5 334.9 307 333.9C306.5 332.9 304.7 332.4 304.5 331.4C304.3 330.4 305.5 327.8 305.8 326.5C306.1 325.2 306.5 322.7 307 321.6C307.5 320.5 308.6 318.8 309.4 318C310.2 317.2 312.8 316.5 313.1 315.5C313.4 314.5 312.4 311.6 311.9 310.6C311.4 309.6 309.4 309 309.4 308.2C309.4 307.4 311.4 306 311.9 304.5C312.4 303 312.1 298.6 313.1 297.2Z" fill="#b5cc18" stroke="#b5cc18" stroke-width="4.8" stroke-linejoin="round" stroke-linecap="round"/>
<path d="M307 333.8C311.7 333.1 335.8 333 340 333.8C344.2 334.6 339.5 338.8 338.7 339.9C337.9 341 335.4 341.6 333.9 342.3C332.4 343 328.4 343.8 327.7 344.8C327 345.8 328.2 348.6 329 349.7C329.8 350.8 332.8 352.3 333.9 353.3C335 354.3 336.9 356 337.5 357C338.1 358 338.9 359.6 338.7 360.6C338.5 361.6 336.9 363.2 336.3 364.3C335.7 365.4 333.9 368.1 333.9 369.2C333.9 370.3 335.7 371.9 336.3 372.9C336.9 373.9 339 375.5 338.7 376.5C338.4 377.5 335.2 379.9 333.9 380.2C332.6 380.5 330.3 379.5 329 379C327.7 378.5 325.1 377.5 324.1 376.5C323.1 375.5 321.6 372.9 321.6 371.6C321.6 370.3 323.4 367.9 324.1 366.8C324.8 365.7 326.5 364.1 326.5 363.1C326.5 362.1 324.9 359.6 324.1 359.4C323.3 359.2 321.4 361.9 320.4 361.9C319.4 361.9 317.9 360.1 316.8 359.4C315.7 358.7 313 358 311.9 357C310.8 356 308.5 353.4 308.2 352.1C307.9 350.8 309.6 348.5 309.4 347.2C309.2 345.9 307.7 343.4 307 342.3C306.3 341.2 304.5 339.8 304.5 338.7C304.5 337.6 302.3 334.5 307 333.8Z" fill="#b5cc18" stroke="#b5cc18" stroke-width="4.4" stroke-linejoin="round" stroke-linecap="round"/>
<path d="M300.3 331.4C300.8 330.1 302.5 329.2 303.3 329.6C304.1 330 305.2 332.4 305.2 333.9C305.2 335.4 304.1 338.1 303.3 338.7C302.5 339.3 300.8 338.7 300.3 337.5C299.8 336.3 299.8 332.7 300.3 331.4Z" fill="#b5cc18" stroke="#b5cc18" stroke-width="4.8" stroke-linejoin="round" stroke-linecap="round"/>
<path d="M292.3 341.1C292.9 342.1 295.2 345.2 296 347.2C296.8 349.2 297 352.3 297.2 353.3" fill="none" stroke="#b5cc18" stroke-width="6.8" stroke-linejoin="round" stroke-linecap="round"/>
<path d="M302.1 357 L305.8 363.1" fill="none" stroke="#b5cc18" stroke-width="6.4" stroke-linejoin="round" stroke-linecap="round"/>
<path d="M288.7 349.7C289.3 348.8 291.6 348.6 292.3 349.4C293 350.2 293.2 353.6 292.6 354.5C292 355.4 289.5 355.6 288.9 354.8C288.2 354 288.1 350.6 288.7 349.7Z" fill="#b5cc18" stroke="#b5cc18" stroke-width="4" stroke-linejoin="round" stroke-linecap="round"/>
<path d="M340 378C341 378.6 343.9 380.5 346.1 381.4C348.3 382.3 351.4 383.6 353.4 383.6C355.4 383.6 357.2 381.6 358 381.2" fill="none" stroke="#b5cc18" stroke-width="6.6" stroke-linejoin="round" stroke-linecap="round"/>
<path d="M260 338.8C260.8 340.1 263.7 343.6 264.7 346.3C265.7 349 265.7 353.7 265.9 355.2" fill="none" stroke="#b5cc18" stroke-width="8.8" stroke-linejoin="round" stroke-linecap="round"/>
<path d="M260 313.1 L264.2 322.4" fill="none" stroke="#b5cc18" stroke-width="6" stroke-linejoin="round" stroke-linecap="round"/>
<path d="M106.1 188.3C107.9 186.3 112.2 185 116.3 184.7C120.4 184.4 127.5 185.1 130.5 186.7C133.6 188.3 134.6 191.4 134.6 194.4C134.6 197.4 132.2 201.9 130.5 204.6C128.8 207.3 127.1 209.5 124.4 210.7C121.7 211.9 116.9 212.7 114.2 211.7C111.5 210.7 109.5 207.1 108.1 204.6C106.7 202.1 106 199.2 105.7 196.5C105.4 193.8 104.3 190.3 106.1 188.3Z" fill="#b5cc18"/>
<path d="M145.2 182.6C147 181.2 152.6 180.2 155 181.8C157.4 183.4 158.9 188.6 159.4 192.4C159.9 196.2 159.4 202.1 158 204.6C156.6 207.1 152.8 208.7 150.9 207.7C149 206.7 147.5 201.4 146.4 198.5C145.3 195.6 144.6 193.1 144.4 190.4C144.2 187.8 143.4 184 145.2 182.6Z" fill="#b5cc18"/>
<path d="M181.4 168C186.2 165.3 208.2 166.3 214 168C219.8 169.7 216.7 174.7 216 178.1C215.3 181.5 213 186.2 209.9 188.3C206.8 190.4 201.8 191.1 197.7 190.4C193.6 189.7 188.2 187.9 185.5 184.2C182.8 180.5 176.7 170.7 181.4 168Z" fill="#b5cc18"/>
<path d="M222.1 168C228.9 166.3 256 163.2 262.8 168C269.6 172.8 264.8 191.9 262.8 196.5C260.8 201.1 254.3 196.8 250.6 195.4C246.9 194 243.9 190.5 240.5 188.3C237.1 186.1 233.4 183.9 230.3 182.2C227.2 180.5 223.5 180.5 222.1 178.1C220.7 175.7 215.3 169.7 222.1 168Z" fill="#b5cc18"/>
<path d="M186.6 119.9C187.9 118.3 195 117.2 199.2 115.9C203.4 114.6 209.5 111.4 211.8 111.8C214.1 112.2 213.8 116.5 213.1 118.3C212.4 120.1 209.7 121.9 207.4 122.4C205.1 123 201.9 121.1 199.2 121.6C196.5 122.1 193.2 125.9 191.1 125.6C189 125.3 185.2 121.5 186.6 119.9Z" fill="#72b324"/>
<path d="M211.4 122.4C212.8 121.7 216.9 126 219.6 126.5C222.3 127 225.3 124.1 227.7 125.4C230.1 126.8 232.4 131.7 233.8 134.6C235.2 137.5 236.6 140.7 235.9 142.7C235.2 144.7 232.1 146.6 229.7 146.8C227.3 147 224 145.5 221.6 143.8C219.2 142.1 217.2 138.8 215.5 136.6C213.8 134.4 212.1 132.9 211.4 130.5C210.7 128.1 210 123.1 211.4 122.4Z" fill="#72b324"/>
<path d="M219.6 146.8C221.3 146.1 225 147.2 227.7 148.9C230.4 150.6 233.2 154.3 235.9 157C238.6 159.7 242.2 162.4 244 165.1C245.8 167.8 247.1 171.5 246.4 173.3C245.7 175.1 242.3 176.4 239.9 175.7C237.5 175 234.5 171.6 231.8 169.2C229.1 166.8 226 163.8 223.6 161.1C221.2 158.4 218.2 155.3 217.5 152.9C216.8 150.5 217.9 147.5 219.6 146.8Z" fill="#72b324"/>
<path d="M237.9 140.7C238.9 139.8 242 142.1 244 143.8C246 145.5 249.3 148.4 250.1 150.9C250.8 153.4 249.8 158.3 248.5 159C247.2 159.7 243.8 156.7 242 155C240.2 153.3 238.6 151.3 237.9 148.9C237.2 146.5 236.9 141.5 237.9 140.7Z" fill="#72b324"/>
<path d="M233.4 159.1C234.9 153.9 242.2 162.4 244.8 162.7C247.4 163 250.7 160.6 252.9 161.1C255.1 161.6 258.9 164.7 261.1 166.4C263.3 168.1 267.6 171.3 269.2 173.8C270.8 176.3 272.4 181.5 273.3 185.2C274.2 188.9 281.4 199.3 276.1 201.5C270.8 203.7 239.1 207.2 233.4 201.5C227.7 195.8 231.9 164.3 233.4 159.1Z" fill="#72b324"/>
<path d="M296.9 209.3C298.2 207.6 303.6 205.2 307 205.2C310.4 205.2 315.8 207.3 317.2 209.3C318.6 211.3 317.2 215.7 315.2 217.4C313.2 219.1 307.7 219.7 305 219.4C302.3 219.1 300.2 217.1 298.9 215.4C297.5 213.7 295.5 211 296.9 209.3Z" fill="#72b324"/>
<path d="M290.7 235.7C292.4 233.7 297.5 233.7 300.9 233.7C304.3 233.7 308.4 234.3 311.1 235.7C313.8 237.1 316.9 239.5 317.2 241.9C317.5 244.3 315.2 248 313.2 250C311.2 252 307.7 253.8 305 254.1C302.3 254.4 299.3 253.4 296.9 252C294.5 250.6 291.7 248.6 290.7 245.9C289.7 243.2 289 237.7 290.7 235.7Z" fill="#72b324"/>
<path d="M337.6 215.4C339 213 344.2 211.6 345.8 213.3C347.4 215 347.5 221.2 347.4 225.6C347.3 230 346.7 236 345.4 239.8C344.1 243.6 341.9 246 339.6 248.4C337.3 250.8 333.2 254.1 331.5 254.1C329.8 254.1 328.8 250.8 329.5 248.4C330.2 246 334.2 243.3 335.6 239.8C337 236.3 337.3 231.7 337.6 227.6C337.9 223.5 336.2 217.8 337.6 215.4Z" fill="#72b324"/>
<path d="M238.3 168.9C239.7 167 243.7 166.7 246.4 167.2C249.1 167.7 252.4 169.9 254.6 172.1C256.8 174.3 258.9 177.6 259.4 180.3C259.9 183 259.1 186.5 257.8 188.4C256.5 190.3 253.8 192 251.3 191.7C248.9 191.4 245.3 189 243.1 186.8C240.9 184.6 239.1 181.7 238.3 178.7C237.5 175.7 237 170.8 238.3 168.9Z" fill="#b5cc18"/>
<path d="M39.1 210C39.8 209.2 42.2 208.2 43.2 208.7C44.2 209.1 45.1 211.8 44.8 212.7C44.5 213.6 42.5 214.3 41.5 214.4C40.5 214.5 39.2 213.9 38.8 213.2C38.4 212.5 38.4 210.8 39.1 210Z" fill="#f5e50e"/>
<path d="M189 122.4C190 121.1 194.5 121.1 197.2 122.4C199.9 123.8 202.9 127.8 205.3 130.5C207.7 133.2 211.1 137 211.4 138.7C211.8 140.4 209.4 141.4 207.4 140.7C205.4 140 201.9 136.3 199.2 134.6C196.5 132.9 192.8 132.5 191.1 130.5C189.4 128.5 188 123.8 189 122.4Z" fill="#f5e50e"/>
<path d="M185.8 140.7C187.9 139.9 193.6 141.7 197.2 142.7C200.8 143.7 204.3 145.4 207.4 146.8C210.5 148.2 214.8 149.5 215.5 150.9C216.2 152.3 213.8 154.8 211.4 155C209 155.2 204.6 152.9 201.2 151.9C197.8 150.9 193.9 149.7 191.1 148.9C188.3 148.1 185.5 148.6 184.6 147.2C183.7 145.8 183.7 141.4 185.8 140.7Z" fill="#f5e50e"/>
<path d="M195.1 150.9C196.8 150.6 203.3 155.7 207.4 157C211.5 158.3 217.9 157.7 219.6 159C221.3 160.3 219.5 164.4 217.5 165.1C215.5 165.8 210.8 164.1 207.4 163.1C204 162.1 199.2 161 197.2 159C195.1 157 193.4 151.2 195.1 150.9Z" fill="#f5e50e"/>
<path d="M176.8 157C178.2 156.3 184.3 157.7 187 159C189.7 160.3 193.1 163.7 193.1 165.1C193.1 166.5 189.4 167.9 187 167.6C184.6 167.3 180.6 164.9 178.9 163.1C177.2 161.3 175.5 157.7 176.8 157Z" fill="#f5e50e"/>
<path d="M164.6 165.1C166.3 164.4 172.4 164.4 174.8 165.1C177.2 165.8 179.6 168.1 178.9 169.2C178.2 170.3 173.1 171.7 170.7 171.7C168.3 171.7 165.6 170.3 164.6 169.2C163.6 168.1 162.9 165.8 164.6 165.1Z" fill="#f5e50e"/>
<path d="M213.5 138.7C214.7 138.5 220.6 143.1 221.6 144.8C222.6 146.5 220.8 148.7 219.6 148.9C218.4 149.1 215.5 147.5 214.5 145.8C213.5 144.1 212.3 138.9 213.5 138.7Z" fill="#f5e50e"/>
<path d="M221.6 169.2C223.1 168.3 229.4 169.2 231.8 170.2C234.2 171.2 236.2 173.9 235.9 175.3C235.6 176.7 231.9 178.6 229.7 178.6C227.5 178.6 223.9 176.9 222.6 175.3C221.2 173.7 220.1 170 221.6 169.2Z" fill="#f5e50e"/>
<path d="M233.4 134.3C234.2 132.4 238.9 135.9 239.9 136.6C240.9 137.3 241.5 140.1 242.3 140.4C243.1 140.8 245.3 139.4 246.4 139.6C247.5 139.8 250.5 141.2 251.3 142C252.1 142.8 252.7 144.8 252.9 146.1C253.1 147.4 250.7 151.9 253.2 153.4C255.7 154.9 271.5 158 274.1 159.1C276.7 160.2 274.8 161.9 275.7 162.7C276.6 163.5 279.9 164.8 281.4 165.9C282.9 167 285.5 171.8 288.8 172.5C292.1 173.2 306.8 171.4 309.9 171.8C313 172.2 314.1 175.2 315.2 176.2C316.3 177.2 316.9 179.8 319.7 180.6C322.5 181.4 334.4 182.1 339.3 183.2C344.2 184.3 359.4 187.6 362.1 190.1C364.8 192.6 372.2 203 362.1 204.7C352 206.4 286.1 207 275.7 204.7C265.3 202.4 273.7 188.8 272.8 185.2C271.9 181.6 269.4 176.1 267.9 173.8C266.4 171.5 261.7 167.2 259.8 165.9C257.9 164.6 253.1 163.1 251.3 162.7C249.6 162.3 246.3 163.3 244.8 162.7C243.3 162.1 239.6 158.9 238.3 157.8C237 156.7 234 155.6 233.4 152.9C232.8 150.2 232.6 136.2 233.4 134.3Z" fill="#f5e50e"/>
<path d="M248.2 259.6C249.1 257.1 251.7 256.2 253.1 256.5C254.5 256.8 256.3 259.1 256.7 261.6C257.1 264.2 257.2 270.1 255.7 271.8C254.2 273.5 248.8 273.8 247.6 271.8C246.3 269.8 247.3 262.2 248.2 259.6Z" fill="#f5e50e"/>
<path d="M116.7 196.1C117.2 194.7 120.5 193.3 122 193.6C123.5 193.9 124.8 196.2 125.6 197.7C126.4 199.2 127.4 201.4 126.9 202.6C126.4 203.8 124.1 205.1 122.8 205C121.5 204.9 120.1 203.7 119.1 202.2C118.1 200.7 116.2 197.5 116.7 196.1Z" fill="#f5e50e"/>
<path d="M191.6 176.1C193.1 175.8 199.4 177.8 201.8 179.2C204.2 180.5 206.2 183.2 205.9 184.2C205.6 185.2 201.9 185.8 199.7 185.3C197.5 184.8 193.9 182.7 192.6 181.2C191.2 179.7 190.1 176.4 191.6 176.1Z" fill="#f5e50e"/>
<path d="M222.1 168C224.3 166.8 233.3 166.5 235.4 168C237.5 169.5 235.9 175.4 234.4 177.1C232.9 178.8 228.2 178.4 226.2 178.1C224.1 177.8 222.8 176.8 222.1 175.1C221.4 173.4 219.9 169.2 222.1 168Z" fill="#f5e50e"/>
<path d="M246.6 188.3C247.8 187.6 253.2 187.3 254.7 187.9C256.2 188.5 256.9 191.2 255.7 192C254.5 192.8 249.1 193 247.6 192.4C246.1 191.8 245.4 189.1 246.6 188.3Z" fill="#f5e50e"/>
<path d="M278.5 203.1C279.7 200.4 284.7 200.1 286.7 201.1C288.7 202.1 290.2 206.2 290.7 209.3C291.2 212.4 290.7 217 289.7 219.4C288.7 221.8 286.3 224.2 284.6 223.9C282.9 223.6 280.5 220.9 279.5 217.4C278.5 213.9 277.3 205.8 278.5 203.1Z" fill="#f5e50e"/>
<path d="M282.6 193C289.7 192 323.7 191.3 331.5 193C339.3 194.7 330.9 200.4 329.5 203.1C328.1 205.8 325.4 208.6 323.3 209.3C321.2 210 319.2 208.2 317.2 207.2C315.2 206.2 313.5 203.4 311.1 203.1C308.7 202.8 305.7 205.2 303 205.2C300.3 205.2 297.2 204.1 294.8 203.1C292.4 202.1 290.7 200.8 288.7 199.1C286.7 197.4 275.5 194 282.6 193Z" fill="#f5e50e"/>
<path d="M278.5 229.6C279.9 228.8 284.3 231 285.7 232.7C287.1 234.4 287.4 238.1 286.7 239.8C286 241.5 283.1 243.4 281.6 243.1C280.1 242.8 278 240.1 277.5 237.8C277 235.6 277.1 230.4 278.5 229.6Z" fill="#f5e50e"/>
<path d="M298.9 219.4C300.6 217.7 306.1 217.1 309.1 217.4C312.2 217.8 316.5 219.5 317.2 221.5C317.9 223.5 315.2 227.8 313.2 229.6C311.2 231.4 307.4 232.4 305 232.1C302.6 231.8 299.9 229.7 298.9 227.6C297.9 225.5 297.2 221.1 298.9 219.4Z" fill="#f5e50e"/>
<path d="M317.2 248C319.2 246.6 323 245.8 325.4 245.9C327.8 246 329.5 248 331.5 248.4C333.5 248.8 335.5 248.2 337.6 248.4C339.7 248.6 343.8 248.8 344.1 249.6C344.4 250.4 341.7 252.3 339.6 253.1C337.5 253.9 333.5 253.7 331.5 254.5C329.5 255.3 329.4 256.7 327.4 258.2C325.4 259.7 322 261.4 319.3 263.3C316.6 265.2 313.8 267 311.1 269.4C308.4 271.8 305.4 274.8 303 277.5C300.6 280.2 298.4 282.5 296.9 285.7C295.4 288.9 295.3 295 293.8 296.9C292.3 298.8 288 299.3 287.7 296.9C287.4 294.5 289.9 286.7 291.8 282.6C293.7 278.5 296.4 275.8 298.9 272.4C301.4 269 304.6 265.2 307 262.2C309.4 259.1 311.5 256.5 313.2 254.1C314.9 251.7 315.2 249.4 317.2 248Z" fill="#f5e50e"/>
<path d="M330.5 193C331.9 191.3 336.6 191.3 338 193C339.4 194.7 338.4 200 338.8 203.1C339.2 206.2 340.2 208.6 340.1 211.3C340 214 338.7 216.7 338 219.4C337.3 222.1 336.7 224.9 336 227.6C335.3 230.3 335.3 233.2 333.9 235.7C332.5 238.1 330.2 241.6 327.8 242.3C325.4 243.1 322.1 241.6 319.3 240.2C316.5 238.8 312.5 235.8 311.1 234.1C309.7 232.4 310.1 231.4 311.1 230C312.1 228.6 315.2 227.4 317.2 225.6C319.2 223.8 321.6 221.8 323.3 219.4C325 217 326.4 214 327.4 211.3C328.4 208.6 329 206.2 329.5 203.1C330 200 329.1 194.7 330.5 193Z" fill="#f5e50e" stroke="#f5e50e" stroke-width="10" stroke-linejoin="round" stroke-linecap="round"/>
<path d="M332.5 255.3C333.1 256.2 330.2 259.7 328.6 262.2C327 264.7 324.5 267.7 322.9 270.4C321.3 273.1 320.4 275.8 318.9 278.5C317.3 281.2 314.9 283.6 313.6 286.7C312.3 289.8 312.7 295.2 311.1 296.9C309.5 298.6 305 298.9 304.2 296.9C303.4 294.8 305.2 288 306.2 284.6C307.1 281.2 308.6 279.1 309.9 276.5C311.2 273.9 312.4 271.1 314 268.8C315.6 266.5 317.5 264.6 319.3 262.6C321.1 260.6 322.8 258.1 325 256.9C327.2 255.7 331.9 254.4 332.5 255.3Z" fill="#f5e50e" stroke="#f5e50e" stroke-width="12" stroke-linejoin="round" stroke-linecap="round"/>
<path d="M191.5 319.3C192.4 317.7 195.5 316.6 197.6 316.6C199.7 316.6 202.6 317.7 203.8 319.3C205 320.9 205.2 324.3 204.6 326.3C204 328.3 201.9 330.5 200.3 331.5C198.7 332.5 196.3 333.3 195 332.4C193.7 331.5 193 328.5 192.4 326.3C191.8 324.1 190.6 320.9 191.5 319.3Z" fill="#f5e50e"/>
<path d="M210.8 317.5C212.2 314.7 217.5 314.3 219.5 314.9C221.5 315.5 222.6 318.2 223 321C223.4 323.8 223 328.6 222.1 331.5C221.2 334.4 219.1 335.9 217.8 338.5C216.5 341.1 215.8 345 214.3 347.3C212.8 349.6 210.8 351.6 209 352.5C207.2 353.4 204.1 354.2 203.8 352.5C203.5 350.8 206.1 345.5 207.3 342C208.5 338.5 210.2 335.6 210.8 331.5C211.4 327.4 209.4 320.3 210.8 317.5Z" fill="#f5e50e"/>
<path d="M242.3 308.8C242.9 310 244.6 313.5 245.8 316.1C247 318.7 248.4 322.2 249.3 324.5C250.2 326.8 250.7 329.2 251 330.1" fill="none" stroke="#f5e50e" stroke-width="6.6" stroke-linejoin="round" stroke-linecap="round"/>
<path d="M239.6 328.4 L241.9 335" fill="none" stroke="#f5e50e" stroke-width="5.5" stroke-linejoin="round" stroke-linecap="round"/>
<path d="M242.3 340.3 L246.6 352.5" fill="none" stroke="#f5e50e" stroke-width="4" stroke-linejoin="round" stroke-linecap="round"/>
<path d="M263.6 287.8C263.3 289.8 262.5 295.6 261.9 300C261.3 304.4 260.1 309.9 260.1 314C260.1 318.1 261.6 322.8 261.9 324.5" fill="none" stroke="#f5e50e" stroke-width="3" stroke-linejoin="round" stroke-linecap="round"/>
<path d="M265.4 333.6C265.1 334.7 264.5 338 263.6 340.3C262.7 342.6 260.7 346.4 260.1 347.6" fill="none" stroke="#f5e50e" stroke-width="6.6" stroke-linejoin="round" stroke-linecap="round"/>
<path d="M251 265 L251.4 273.8" fill="none" stroke="#f5e50e" stroke-width="4.8" stroke-linejoin="round" stroke-linecap="round"/>
<path d="M203.8 338.2C206.6 336.9 221.8 337 224.8 338.2C227.8 339.4 225.8 344.7 226.5 347C227.2 349.3 229.3 353.5 230 355.8C230.7 358.1 232.3 362.8 231.8 364.5C231.3 366.2 228.1 368.7 226.5 368.9C224.9 369.1 221.4 367.5 219.5 366.3C217.6 365.1 214.2 361.6 212.5 360.1C210.8 358.6 208.1 356.7 206.9 355.1C205.7 353.5 204.2 350.2 203.8 347.9C203.4 345.6 201 339.5 203.8 338.2Z" fill="#f5e50e"/>
<path d="M230 348.8C230.9 350 233.6 353.5 235.3 356.1C237.1 358.7 239.6 363.1 240.5 364.5" fill="none" stroke="#f5e50e" stroke-width="7" stroke-linejoin="round" stroke-linecap="round"/>
<path d="M242.3 341.8C243.2 343.2 246.1 347.6 247.5 350.5C248.9 353.4 250.1 356.7 251 359.3C251.9 361.9 252.5 365.1 252.8 366.3" fill="none" stroke="#f5e50e" stroke-width="6.7" stroke-linejoin="round" stroke-linecap="round"/>
<path d="M254.5 345.3C255.1 346.8 256.8 351.6 258 354C259.2 356.4 260.9 358.7 261.5 359.6" fill="none" stroke="#f5e50e" stroke-width="6.2" stroke-linejoin="round" stroke-linecap="round"/>
<path d="M263.6 340 L266.8 348.8" fill="none" stroke="#f5e50e" stroke-width="6.2" stroke-linejoin="round" stroke-linecap="round"/>
<path d="M242.6 373.3 L249.3 375.9" fill="none" stroke="#f5e50e" stroke-width="5.2" stroke-linejoin="round" stroke-linecap="round"/>
<path d="M233.9 380.6C234.7 379.4 238.6 379 240.2 379.9C241.8 380.8 243 383.9 243.3 385.9C243.6 387.9 242.8 390.6 241.9 391.8C241 393 238.8 393.9 237.7 393.2C236.6 392.4 236.2 389.4 235.6 387.3C235 385.2 233.1 381.8 233.9 380.6Z" fill="#f5e50e"/>
<path d="M303.3 283.8C305.5 282.4 310.5 282.6 311.6 283.8C312.7 285 310.3 288.9 309.7 291.1C309.1 293.3 308.8 295.4 308.2 297.2C307.6 299 306.6 300.5 305.8 302.1C305 303.7 304.3 305.4 303.3 307C302.3 308.6 300.9 310.5 299.7 311.9C298.5 313.3 297.2 314.5 296 315.5C294.8 316.5 293.4 318.1 292.6 317.7C291.8 317.3 291.2 315.1 291.4 313.3C291.5 311.5 292.7 309.3 293.5 307C294.3 304.7 295.2 302.1 296 299.7C296.8 297.2 297.2 294.9 298.4 292.3C299.6 289.7 301.1 285.2 303.3 283.8Z" fill="#f5e50e" stroke="#f5e50e" stroke-width="8.4" stroke-linejoin="round" stroke-linecap="round"/>
<path d="M313.1 297.2C314.1 295.8 317.4 294.7 319.2 294.2C321 293.7 325.2 293.1 326.5 293.5C327.8 293.9 328.5 296.1 329 297.2C329.5 298.3 329.5 301 330.2 302.1C330.9 303.2 333.2 304.7 333.9 305.8C334.6 306.9 335.7 309.3 335.7 310.6C335.7 311.9 334.5 314.4 333.9 315.5C333.3 316.6 331.2 318.2 331.4 319.2C331.6 320.2 334.1 321.8 335.1 322.9C336.1 324 337.9 326.4 338.7 327.7C339.5 329 341.1 331.3 341.2 332.6C341.3 333.9 339.6 336.2 339.4 337.5C339.2 338.8 340.1 341.3 340 342.4C339.9 343.5 343.3 345.6 338.7 346.1C334.1 346.6 309.9 347.1 305.8 346.1C301.7 345.1 308 340.3 308.2 338.7C308.4 337.1 307.5 334.9 307 333.9C306.5 332.9 304.7 332.4 304.5 331.4C304.3 330.4 305.5 327.8 305.8 326.5C306.1 325.2 306.5 322.7 307 321.6C307.5 320.5 308.6 318.8 309.4 318C310.2 317.2 312.8 316.5 313.1 315.5C313.4 314.5 312.4 311.6 311.9 310.6C311.4 309.6 309.4 309 309.4 308.2C309.4 307.4 311.4 306 311.9 304.5C312.4 303 312.1 298.6 313.1 297.2Z" fill="#f5e50e" stroke="#f5e50e" stroke-width="3.2" stroke-linejoin="round" stroke-linecap="round"/>
<path d="M307 333.8C311.7 333.1 335.8 333 340 333.8C344.2 334.6 339.5 338.8 338.7 339.9C337.9 341 335.4 341.6 333.9 342.3C332.4 343 328.4 343.8 327.7 344.8C327 345.8 328.2 348.6 329 349.7C329.8 350.8 332.8 352.3 333.9 353.3C335 354.3 336.9 356 337.5 357C338.1 358 338.9 359.6 338.7 360.6C338.5 361.6 336.9 363.2 336.3 364.3C335.7 365.4 333.9 368.1 333.9 369.2C333.9 370.3 335.7 371.9 336.3 372.9C336.9 373.9 339 375.5 338.7 376.5C338.4 377.5 335.2 379.9 333.9 380.2C332.6 380.5 330.3 379.5 329 379C327.7 378.5 325.1 377.5 324.1 376.5C323.1 375.5 321.6 372.9 321.6 371.6C321.6 370.3 323.4 367.9 324.1 366.8C324.8 365.7 326.5 364.1 326.5 363.1C326.5 362.1 324.9 359.6 324.1 359.4C323.3 359.2 321.4 361.9 320.4 361.9C319.4 361.9 317.9 360.1 316.8 359.4C315.7 358.7 313 358 311.9 357C310.8 356 308.5 353.4 308.2 352.1C307.9 350.8 309.6 348.5 309.4 347.2C309.2 345.9 307.7 343.4 307 342.3C306.3 341.2 304.5 339.8 304.5 338.7C304.5 337.6 302.3 334.5 307 333.8Z" fill="#f5e50e" stroke="#f5e50e" stroke-width="2.4" stroke-linejoin="round" stroke-linecap="round"/>
<path d="M300.3 331.4C300.8 330.1 302.5 329.2 303.3 329.6C304.1 330 305.2 332.4 305.2 333.9C305.2 335.4 304.1 338.1 303.3 338.7C302.5 339.3 300.8 338.7 300.3 337.5C299.8 336.3 299.8 332.7 300.3 331.4Z" fill="#f5e50e" stroke="#f5e50e" stroke-width="3.2" stroke-linejoin="round" stroke-linecap="round"/>
<path d="M292.3 341.1C292.9 342.1 295.2 345.2 296 347.2C296.8 349.2 297 352.3 297.2 353.3" fill="none" stroke="#f5e50e" stroke-width="5.2" stroke-linejoin="round" stroke-linecap="round"/>
<path d="M302.1 357 L305.8 363.1" fill="none" stroke="#f5e50e" stroke-width="4.8" stroke-linejoin="round" stroke-linecap="round"/>
<path d="M288.7 349.7C289.3 348.8 291.6 348.6 292.3 349.4C293 350.2 293.2 353.6 292.6 354.5C292 355.4 289.5 355.6 288.9 354.8C288.2 354 288.1 350.6 288.7 349.7Z" fill="#f5e50e" stroke="#f5e50e" stroke-width="2" stroke-linejoin="round" stroke-linecap="round"/>
<path d="M340 378C341 378.6 343.9 380.5 346.1 381.4C348.3 382.3 351.4 383.6 353.4 383.6C355.4 383.6 357.2 381.6 358 381.2" fill="none" stroke="#f5e50e" stroke-width="5.2" stroke-linejoin="round" stroke-linecap="round"/>
<path d="M260 338.8C260.8 340.1 263.7 343.6 264.7 346.3C265.7 349 265.7 353.7 265.9 355.2" fill="none" stroke="#f5e50e" stroke-width="6.4" stroke-linejoin="round" stroke-linecap="round"/>
<path d="M260 313.1 L264.2 322.4" fill="none" stroke="#f5e50e" stroke-width="3" stroke-linejoin="round" stroke-linecap="round"/>
<path d="M98.1 424C100.3 424.4 103.8 423.5 105.6 423.6C107.3 423.7 111.1 425.1 113.1 425.1C115.1 425.1 120.3 424.1 122.5 424C124.7 423.9 129.9 424.4 131.9 424.6C133.9 424.8 137.7 425.3 139.4 425.5C141.2 425.7 145.4 426 146.9 426.4C148.4 426.8 151 428.8 152.5 429.3C154 429.8 158.2 430.8 160 431.1C161.8 431.4 165.8 431.9 167.5 432.1C169.2 432.3 173.2 432.7 175 433C176.8 433.3 180.8 434.5 182.5 434.9C184.2 435.3 188.2 436.1 190 436.8C191.8 437.5 195.8 439.4 197.5 440.5C199.2 441.6 203.5 444.9 205 446.1C206.5 447.3 209.2 449.7 210.3 450.6C211.4 451.5 213.3 452.7 214.4 454C215.5 455.3 220 461 220 461.9C220 462.8 216.4 461.9 214.4 461.9C212.4 461.9 205.3 461.8 203.1 461.9C200.9 462 198 463.7 195.6 462.8C193.2 461.9 185.3 456.1 182.5 454.4C179.7 452.6 173.9 448.9 171.3 447.8C168.7 446.7 162.4 444.8 160 445C157.6 445.2 153.2 449.2 150.6 449.7C148 450.2 140.8 450.4 137.5 449.7C134.2 449 125.6 445.5 122.5 444.1C119.4 442.7 114.1 439.1 111.3 437.5C108.5 435.9 100.9 432 98.1 430C95.3 428 86.9 421.3 86.9 420.6C86.9 419.9 95.9 423.6 98.1 424Z" fill="#f5e50e"/>
<path d="M300.2 173.8C301.3 172.2 304.8 171.8 306.7 172.1C308.6 172.4 311 173.2 311.6 175.4C312.2 177.6 311.1 182.2 310.3 185.2C309.5 188.2 308.1 190.3 307 193.3C305.9 196.3 305.5 201.5 303.8 203.1C302.1 204.7 297.8 205 296.9 203.1C296 201.2 297.9 195.2 298.5 191.7C299.1 188.2 299.9 184.9 300.2 181.9C300.5 178.9 299.1 175.4 300.2 173.8Z" fill="#b5cc18"/>
<path d="M274.1 176.2C274.9 173.8 277.4 173.1 279 174.1C280.6 175.1 283.3 178.7 283.9 181.9C284.5 185.1 282.6 189.8 282.6 193.3C282.7 196.8 285.4 201.5 284.2 203.1C283 204.7 277.4 205.5 275.7 203.1C274 200.7 274.4 192.9 274.1 188.4C273.8 183.9 273.3 178.6 274.1 176.2Z" fill="#b5cc18"/>
<path d="M339.3 185.2C340.7 184.9 345.7 187.5 349 188.4C352.3 189.3 357.7 189 359.1 190.4C360.5 191.8 358 194.5 357.5 196.6C357 198.7 357.3 202 355.9 203.1C354.5 204.2 349.6 204.5 349 203.1C348.4 201.7 352.6 196.8 352.3 194.9C352 193.1 349.3 192.8 347.4 192C345.5 191.2 342.2 191.2 340.9 190.1C339.5 189 337.9 185.5 339.3 185.2Z" fill="#b5cc18"/>
<path d="M316.5 182.2C317.1 180.8 321.4 183.3 323 185.2C324.6 187 326.1 190.3 326.2 193.3C326.2 196.3 324.9 201.5 323.3 203.1C321.7 204.7 317.1 204.7 316.5 203.1C315.9 201.5 319.7 196.8 319.7 193.3C319.7 189.8 315.9 183.5 316.5 182.2Z" fill="#b5cc18"/>
<path d="M302.6 177C303.4 175.5 306.6 174.8 307.5 176.2C308.4 177.6 308.4 182.3 308 185.2C307.6 188 306.1 192 305.1 193.3C304.1 194.7 302.2 194.7 301.8 193.3C301.4 192 302.5 187.9 302.6 185.2C302.7 182.5 301.8 178.5 302.6 177Z" fill="#72b324"/>
<path d="M252.6 154.5C253.5 153.7 256.9 155.5 259.4 156.2C261.9 156.9 265.1 158.1 267.6 158.8C270.1 159.6 273 159.8 274.4 160.7C275.8 161.6 276.8 162.8 275.7 164C274.6 165.2 270.3 167.9 267.6 168.2C264.9 168.5 261.7 167.1 259.4 165.9C257.1 164.7 255 163 253.9 161.1C252.8 159.2 251.7 155.3 252.6 154.5Z" fill="#f29412"/>
<path d="M291.2 172.1C292 171.7 295.4 171.7 296.9 172.1C298.4 172.5 300.2 173.9 300.2 174.6C300.2 175.3 298.3 176.4 296.9 176.4C295.5 176.4 292.9 175.4 292 174.7C291.1 174 290.4 172.5 291.2 172.1Z" fill="#f29412"/>
<path d="M329.5 192C330.6 189.7 334.3 189 336 189.2C337.7 189.4 339.3 191 339.6 193.3C339.9 195.6 339.7 201.5 338 203.1C336.3 204.7 330.9 204.9 329.5 203.1C328.1 201.2 328.4 194.3 329.5 192Z" fill="#f29412"/>
<path d="M279.3 175.4C279.6 176.2 280.3 178.6 280.9 180.3C281.4 182 282.3 184.6 282.6 185.5" fill="none" stroke="#f29412" stroke-width="1.4" stroke-linejoin="round" stroke-linecap="round"/>
<path d="M284.2 181.9C284.6 182.7 286 185.1 286.8 186.8C287.6 188.5 288.5 191.1 288.8 192" fill="none" stroke="#f29412" stroke-width="1.4" stroke-linejoin="round" stroke-linecap="round"/>
<path d="M314.8 183.5C315.1 183.9 316.2 185.1 316.8 186C317.4 186.9 317.9 188.3 318.1 188.8" fill="none" stroke="#f29412" stroke-width="1.4" stroke-linejoin="round" stroke-linecap="round"/>
<path d="M250.2 261.6C250.8 259.7 252.4 258.9 253.1 260.6C253.8 262.3 254.9 269.9 254.3 271.8C253.8 273.7 250.5 273.5 249.8 271.8C249.1 270.1 249.6 263.5 250.2 261.6Z" fill="#f29412"/>
<path d="M330.5 193C331.9 191.3 336.6 191.3 338 193C339.4 194.7 338.4 200 338.8 203.1C339.2 206.2 340.2 208.6 340.1 211.3C340 214 338.7 216.7 338 219.4C337.3 222.1 336.7 224.9 336 227.6C335.3 230.3 335.3 233.2 333.9 235.7C332.5 238.1 330.2 241.6 327.8 242.3C325.4 243.1 322.1 241.6 319.3 240.2C316.5 238.8 312.5 235.8 311.1 234.1C309.7 232.4 310.1 231.4 311.1 230C312.1 228.6 315.2 227.4 317.2 225.6C319.2 223.8 321.6 221.8 323.3 219.4C325 217 326.4 214 327.4 211.3C328.4 208.6 329 206.2 329.5 203.1C330 200 329.1 194.7 330.5 193Z" fill="#f29412"/>
<path d="M332.5 255.3C333.1 256.2 330.2 259.7 328.6 262.2C327 264.7 324.5 267.7 322.9 270.4C321.3 273.1 320.4 275.8 318.9 278.5C317.3 281.2 314.9 283.6 313.6 286.7C312.3 289.8 312.7 295.2 311.1 296.9C309.5 298.6 305 298.9 304.2 296.9C303.4 294.8 305.2 288 306.2 284.6C307.1 281.2 308.6 279.1 309.9 276.5C311.2 273.9 312.4 271.1 314 268.8C315.6 266.5 317.5 264.6 319.3 262.6C321.1 260.6 322.8 258.1 325 256.9C327.2 255.7 331.9 254.4 332.5 255.3Z" fill="#f29412" stroke="#f29412" stroke-width="4" stroke-linejoin="round" stroke-linecap="round"/>
<path d="M335.6 248.4C336.5 247.7 341.4 247.9 342.7 248.4C344 248.9 344.5 250.8 343.7 251.6C342.9 252.3 339 253.4 337.6 252.9C336.2 252.4 334.8 249.2 335.6 248.4Z" fill="#f29412"/>
<path d="M193.3 324.5C194.5 323.3 198.9 321.9 200.3 322.8C201.8 323.7 202.6 328 202 329.8C201.4 331.6 198.2 333.6 196.8 333.6C195.4 333.6 193.9 331.3 193.3 329.8C192.7 328.3 192.1 325.7 193.3 324.5Z" fill="#f29412"/>
<path d="M212.2 321.4C213.5 319.1 219.7 318.9 221.6 320.3C223.5 321.7 223.9 327.2 223.7 329.8C223.5 332.4 222.3 334.9 220.6 335.7C218.9 336.4 215 336.7 213.6 334.3C212.2 331.9 210.9 323.7 212.2 321.4Z" fill="#f29412"/>
<path d="M209 342C210.4 340 214.2 338.6 216 340.3C217.8 342.1 221.3 350.5 219.9 352.5C218.5 354.5 209.1 354.2 207.3 352.5C205.5 350.8 207.6 344 209 342Z" fill="#f29412" stroke="#f29412" stroke-width="6" stroke-linejoin="round" stroke-linecap="round"/>
<path d="M242.3 308.8C242.9 310 244.6 313.5 245.8 316.1C247 318.7 248.4 322.2 249.3 324.5C250.2 326.8 250.7 329.2 251 330.1" fill="none" stroke="#f29412" stroke-width="3.8" stroke-linejoin="round" stroke-linecap="round"/>
<path d="M239.6 328.4 L241.9 335" fill="none" stroke="#f29412" stroke-width="2.5" stroke-linejoin="round" stroke-linecap="round"/>
<path d="M265.4 333.6C265.1 334.7 264.5 338 263.6 340.3C262.7 342.6 260.7 346.4 260.1 347.6" fill="none" stroke="#f29412" stroke-width="3.8" stroke-linejoin="round" stroke-linecap="round"/>
<path d="M251 265 L251.4 273.8" fill="none" stroke="#f29412" stroke-width="1.6" stroke-linejoin="round" stroke-linecap="round"/>
<path d="M209 343.5C210.2 342.3 213.9 341.2 216 341.8C218.1 342.4 220.7 345.1 221.3 347C221.9 348.9 221 352.2 219.5 353.1C218 354 214.2 353 212.5 352.3C210.8 351.6 209.6 350.3 209 348.8C208.4 347.3 207.8 344.7 209 343.5Z" fill="#f29412" stroke="#f29412" stroke-width="5" stroke-linejoin="round" stroke-linecap="round"/>
<path d="M230 348.8C230.9 350 233.6 353.5 235.3 356.1C237.1 358.7 239.6 363.1 240.5 364.5" fill="none" stroke="#f29412" stroke-width="4" stroke-linejoin="round" stroke-linecap="round"/>
<path d="M219.5 361C220.4 359.6 224.6 358.1 226.5 358.4C228.4 358.7 230.6 361.2 230.9 362.8C231.2 364.4 229.9 367.3 228.3 368C226.7 368.7 222.8 368.3 221.3 367.1C219.8 365.9 218.6 362.4 219.5 361Z" fill="#f29412"/>
<path d="M242.3 341.8C243.2 343.2 246.1 347.6 247.5 350.5C248.9 353.4 250.1 356.7 251 359.3C251.9 361.9 252.5 365.1 252.8 366.3" fill="none" stroke="#f29412" stroke-width="3.7" stroke-linejoin="round" stroke-linecap="round"/>
<path d="M254.5 345.3C255.1 346.8 256.8 351.6 258 354C259.2 356.4 260.9 358.7 261.5 359.6" fill="none" stroke="#f29412" stroke-width="3.4" stroke-linejoin="round" stroke-linecap="round"/>
<path d="M263.6 340 L266.8 348.8" fill="none" stroke="#f29412" stroke-width="3.4" stroke-linejoin="round" stroke-linecap="round"/>
<path d="M242.6 373.3 L249.3 375.9" fill="none" stroke="#f29412" stroke-width="2.8" stroke-linejoin="round" stroke-linecap="round"/>
<path d="M239.1 384.1 L241.4 389.9" fill="none" stroke="#f29412" stroke-width="5.6" stroke-linejoin="round" stroke-linecap="round"/>
<path d="M303.3 283.8C305.5 282.4 310.5 282.6 311.6 283.8C312.7 285 310.3 288.9 309.7 291.1C309.1 293.3 308.8 295.4 308.2 297.2C307.6 299 306.6 300.5 305.8 302.1C305 303.7 304.3 305.4 303.3 307C302.3 308.6 300.9 310.5 299.7 311.9C298.5 313.3 297.2 314.5 296 315.5C294.8 316.5 293.4 318.1 292.6 317.7C291.8 317.3 291.2 315.1 291.4 313.3C291.5 311.5 292.7 309.3 293.5 307C294.3 304.7 295.2 302.1 296 299.7C296.8 297.2 297.2 294.9 298.4 292.3C299.6 289.7 301.1 285.2 303.3 283.8Z" fill="#f29412" stroke="#f29412" stroke-width="3.2" stroke-linejoin="round" stroke-linecap="round"/>
<path d="M313.1 297.2C314.1 295.8 317.4 294.7 319.2 294.2C321 293.7 325.2 293.1 326.5 293.5C327.8 293.9 328.5 296.1 329 297.2C329.5 298.3 329.5 301 330.2 302.1C330.9 303.2 333.2 304.7 333.9 305.8C334.6 306.9 335.7 309.3 335.7 310.6C335.7 311.9 334.5 314.4 333.9 315.5C333.3 316.6 331.2 318.2 331.4 319.2C331.6 320.2 334.1 321.8 335.1 322.9C336.1 324 337.9 326.4 338.7 327.7C339.5 329 341.1 331.3 341.2 332.6C341.3 333.9 339.6 336.2 339.4 337.5C339.2 338.8 340.1 341.3 340 342.4C339.9 343.5 343.3 345.6 338.7 346.1C334.1 346.6 309.9 347.1 305.8 346.1C301.7 345.1 308 340.3 308.2 338.7C308.4 337.1 307.5 334.9 307 333.9C306.5 332.9 304.7 332.4 304.5 331.4C304.3 330.4 305.5 327.8 305.8 326.5C306.1 325.2 306.5 322.7 307 321.6C307.5 320.5 308.6 318.8 309.4 318C310.2 317.2 312.8 316.5 313.1 315.5C313.4 314.5 312.4 311.6 311.9 310.6C311.4 309.6 309.4 309 309.4 308.2C309.4 307.4 311.4 306 311.9 304.5C312.4 303 312.1 298.6 313.1 297.2Z" fill="#f29412" stroke="#f29412" stroke-width="1.4" stroke-linejoin="round" stroke-linecap="round"/>
<path d="M307 333.8C311.7 333.1 335.8 333 340 333.8C344.2 334.6 339.5 338.8 338.7 339.9C337.9 341 335.4 341.6 333.9 342.3C332.4 343 328.4 343.8 327.7 344.8C327 345.8 328.2 348.6 329 349.7C329.8 350.8 332.8 352.3 333.9 353.3C335 354.3 336.9 356 337.5 357C338.1 358 338.9 359.6 338.7 360.6C338.5 361.6 336.9 363.2 336.3 364.3C335.7 365.4 333.9 368.1 333.9 369.2C333.9 370.3 335.7 371.9 336.3 372.9C336.9 373.9 339 375.5 338.7 376.5C338.4 377.5 335.2 379.9 333.9 380.2C332.6 380.5 330.3 379.5 329 379C327.7 378.5 325.1 377.5 324.1 376.5C323.1 375.5 321.6 372.9 321.6 371.6C321.6 370.3 323.4 367.9 324.1 366.8C324.8 365.7 326.5 364.1 326.5 363.1C326.5 362.1 324.9 359.6 324.1 359.4C323.3 359.2 321.4 361.9 320.4 361.9C319.4 361.9 317.9 360.1 316.8 359.4C315.7 358.7 313 358 311.9 357C310.8 356 308.5 353.4 308.2 352.1C307.9 350.8 309.6 348.5 309.4 347.2C309.2 345.9 307.7 343.4 307 342.3C306.3 341.2 304.5 339.8 304.5 338.7C304.5 337.6 302.3 334.5 307 333.8Z" fill="#f29412"/>
<path d="M300.3 331.4C300.8 330.1 302.5 329.2 303.3 329.6C304.1 330 305.2 332.4 305.2 333.9C305.2 335.4 304.1 338.1 303.3 338.7C302.5 339.3 300.8 338.7 300.3 337.5C299.8 336.3 299.8 332.7 300.3 331.4Z" fill="#f29412" stroke="#f29412" stroke-width="1.4" stroke-linejoin="round" stroke-linecap="round"/>
<path d="M292.3 341.1C292.9 342.1 295.2 345.2 296 347.2C296.8 349.2 297 352.3 297.2 353.3" fill="none" stroke="#f29412" stroke-width="3.4" stroke-linejoin="round" stroke-linecap="round"/>
<path d="M302.1 357 L305.8 363.1" fill="none" stroke="#f29412" stroke-width="3" stroke-linejoin="round" stroke-linecap="round"/>
<path d="M288.7 349.7C289.3 348.8 291.6 348.6 292.3 349.4C293 350.2 293.2 353.6 292.6 354.5C292 355.4 289.5 355.6 288.9 354.8C288.2 354 288.1 350.6 288.7 349.7Z" fill="#f29412"/>
<path d="M340 378C341 378.6 343.9 380.5 346.1 381.4C348.3 382.3 351.4 383.6 353.4 383.6C355.4 383.6 357.2 381.6 358 381.2" fill="none" stroke="#f29412" stroke-width="3.2" stroke-linejoin="round" stroke-linecap="round"/>
<path d="M260 338.8C260.8 340.1 263.7 343.6 264.7 346.3C265.7 349 265.7 353.7 265.9 355.2" fill="none" stroke="#f29412" stroke-width="3.6" stroke-linejoin="round" stroke-linecap="round"/>
<path d="M109.4 426.3C112.7 427.1 113.5 427.4 115 427.4C116.5 427.4 120.5 426.4 122.5 426.3C124.5 426.2 129.9 426.6 131.9 426.8C133.9 427 137.7 427.4 139.4 427.6C141.2 427.8 145.4 428.2 146.9 428.7C148.4 429.2 151 431.2 152.5 431.9C154 432.6 158.2 434.5 160 434.9C161.8 435.3 165.8 435.4 167.5 435.6C169.2 435.8 173.2 436.1 175 436.4C176.8 436.7 180.8 437.9 182.5 438.3C184.2 438.7 188.2 439.2 190 439.8C191.8 440.4 195.8 442.4 197.5 443.5C199.2 444.6 203 447.8 204.3 448.8C205.6 449.9 207 451 208.8 452.5C210.6 454 219.3 460.8 220 461.9C220.7 463 216.4 461.9 214.4 461.9C212.4 461.9 205.3 461.8 203.1 461.9C200.9 462 198 463.7 195.6 462.8C193.2 461.9 185.3 456.1 182.5 454.4C179.7 452.6 173.9 448.9 171.3 447.8C168.7 446.7 162.4 444.8 160 445C157.6 445.2 153.2 449.2 150.6 449.7C148 450.2 140.8 450.4 137.5 449.7C134.2 449 125.6 445.5 122.5 444.1C119.4 442.7 114.1 439.1 111.3 437.5C108.5 435.9 100.9 432 98.1 430C95.3 428 85.6 421 86.9 420.6C88.2 420.2 106.1 425.5 109.4 426.3Z" fill="#f29412"/>
<path d="M341.7 193.3C342.9 191.3 349.3 189.7 351.5 190C353.7 190.3 355 193 354.7 194.9C354.4 196.8 351.6 200.2 349.8 201.4C348 202.6 345.5 203.5 344.1 202.2C342.8 200.8 340.5 195.3 341.7 193.3Z" fill="#b5cc18"/>
<path d="M339.7 199.8C340.9 197.1 345.1 197 346.6 198.1C348.1 199.2 348.3 203 348.5 206.3C348.7 209.6 348 214.2 347.7 217.7C347.4 221.2 347.2 224.2 346.9 227.5C346.6 230.8 346.7 234.5 346.1 237.2C345.6 239.9 345.4 242.3 343.6 243.8C341.8 245.3 337.3 246.6 335.5 246.4C333.7 246.2 332.7 244.2 333 242.5C333.3 240.8 336.1 238.6 337.1 235.9C338.1 233.2 338.4 229.8 338.8 226.2C339.2 222.6 339.2 218.8 339.4 214.4C339.5 210 338.5 202.5 339.7 199.8Z" fill="#72b324"/>
<path d="M255.4 158.3C256.4 158 259.6 158.6 261.1 159.1C262.6 159.6 264.6 160.8 264.3 161.5C264 162.2 260.9 163.4 259.4 163.3C257.9 163.2 256.1 161.9 255.4 161.1C254.7 160.3 254.4 158.6 255.4 158.3Z" fill="#e01a18"/>
<path d="M251.5 265.7C251.7 265 252.5 264.8 252.7 265.5C252.9 266.2 253.1 269 252.9 269.7C252.7 270.4 251.7 270.4 251.5 269.7C251.3 269 251.3 266.4 251.5 265.7Z" fill="#e01a18"/>
<path d="M330.5 204.2C331.9 203.3 335.2 204.7 336.6 206.2C338 207.7 338.9 211.4 338.8 213.3C338.7 215.2 336.7 215.4 336 217.4C335.3 219.4 335.5 222.9 334.8 225.6C334.1 228.3 333.5 231.5 331.9 233.7C330.3 235.9 327.5 238.6 325.4 239C323.3 239.4 320.7 237.5 319.3 236.2C317.9 234.8 316.9 232.7 317.2 230.9C317.5 229.1 319.8 227.5 321.3 225.6C322.8 223.7 325.2 221.8 326.4 219.4C327.6 217 327.7 213.8 328.4 211.3C329.1 208.8 329.1 205 330.5 204.2Z" fill="#e01a18"/>
<path d="M332.5 255.3C333.1 256.2 330.2 259.7 328.6 262.2C327 264.7 324.5 267.7 322.9 270.4C321.3 273.1 320.4 275.8 318.9 278.5C317.3 281.2 314.9 283.6 313.6 286.7C312.3 289.8 312.7 295.2 311.1 296.9C309.5 298.6 305 298.9 304.2 296.9C303.4 294.8 305.2 288 306.2 284.6C307.1 281.2 308.6 279.1 309.9 276.5C311.2 273.9 312.4 271.1 314 268.8C315.6 266.5 317.5 264.6 319.3 262.6C321.1 260.6 322.8 258.1 325 256.9C327.2 255.7 331.9 254.4 332.5 255.3Z" fill="#e01a18"/>
<path d="M214.6 324.9C215.7 323.2 219.9 322.3 221.3 323.1C222.7 323.9 223.3 327.8 223 329.8C222.7 331.8 220.9 334.4 219.5 335C218.1 335.6 215.4 335 214.6 333.3C213.8 331.6 213.5 326.6 214.6 324.9Z" fill="#e01a18"/>
<path d="M209 342C210.4 340 214.2 338.6 216 340.3C217.8 342.1 221.3 350.5 219.9 352.5C218.5 354.5 209.1 354.2 207.3 352.5C205.5 350.8 207.6 344 209 342Z" fill="#e01a18"/>
<path d="M242.3 308.8C242.9 310 244.6 313.5 245.8 316.1C247 318.7 248.4 322.2 249.3 324.5C250.2 326.8 250.7 329.2 251 330.1" fill="none" stroke="#e01a18" stroke-width="1.8" stroke-linejoin="round" stroke-linecap="round"/>
<path d="M265.4 333.6C265.1 334.7 264.5 338 263.6 340.3C262.7 342.6 260.7 346.4 260.1 347.6" fill="none" stroke="#e01a18" stroke-width="1.8" stroke-linejoin="round" stroke-linecap="round"/>
<path d="M209 343.5C210.2 342.3 213.9 341.2 216 341.8C218.1 342.4 220.7 345.1 221.3 347C221.9 348.9 221 352.2 219.5 353.1C218 354 214.2 353 212.5 352.3C210.8 351.6 209.6 350.3 209 348.8C208.4 347.3 207.8 344.7 209 343.5Z" fill="#e01a18"/>
<path d="M230 348.8C230.9 350 233.6 353.5 235.3 356.1C237.1 358.7 239.6 363.1 240.5 364.5" fill="none" stroke="#e01a18" stroke-width="1.8" stroke-linejoin="round" stroke-linecap="round"/>
<path d="M221.6 362.4C222.3 361.6 225.3 360.7 226.5 361C227.7 361.3 228.6 363.3 228.6 364.2C228.6 365.1 227.6 366.3 226.5 366.6C225.4 366.9 223.1 366.6 222.3 365.9C221.5 365.2 220.9 363.2 221.6 362.4Z" fill="#e01a18"/>
<path d="M242.3 341.8C243.2 343.2 246.1 347.6 247.5 350.5C248.9 353.4 250.1 356.7 251 359.3C251.9 361.9 252.5 365.1 252.8 366.3" fill="none" stroke="#e01a18" stroke-width="1.5" stroke-linejoin="round" stroke-linecap="round"/>
<path d="M254.5 345.3C255.1 346.8 256.8 351.6 258 354C259.2 356.4 260.9 358.7 261.5 359.6" fill="none" stroke="#e01a18" stroke-width="1.4" stroke-linejoin="round" stroke-linecap="round"/>
<path d="M263.6 340 L266.8 348.8" fill="none" stroke="#e01a18" stroke-width="1.4" stroke-linejoin="round" stroke-linecap="round"/>
<path d="M242.6 373.3 L249.3 375.9" fill="none" stroke="#e01a18" stroke-width="1.2" stroke-linejoin="round" stroke-linecap="round"/>
<path d="M239.1 384.1 L241.4 389.9" fill="none" stroke="#e01a18" stroke-width="2.6" stroke-linejoin="round" stroke-linecap="round"/>
<path d="M303.3 283.8C305.5 282.4 310.5 282.6 311.6 283.8C312.7 285 310.3 288.9 309.7 291.1C309.1 293.3 308.8 295.4 308.2 297.2C307.6 299 306.6 300.5 305.8 302.1C305 303.7 304.3 305.4 303.3 307C302.3 308.6 300.9 310.5 299.7 311.9C298.5 313.3 297.2 314.5 296 315.5C294.8 316.5 293.4 318.1 292.6 317.7C291.8 317.3 291.2 315.1 291.4 313.3C291.5 311.5 292.7 309.3 293.5 307C294.3 304.7 295.2 302.1 296 299.7C296.8 297.2 297.2 294.9 298.4 292.3C299.6 289.7 301.1 285.2 303.3 283.8Z" fill="#e01a18"/>
<path d="M313.1 297.2C314.1 295.8 317.4 294.7 319.2 294.2C321 293.7 325.2 293.1 326.5 293.5C327.8 293.9 328.5 296.1 329 297.2C329.5 298.3 329.5 301 330.2 302.1C330.9 303.2 333.2 304.7 333.9 305.8C334.6 306.9 335.7 309.3 335.7 310.6C335.7 311.9 334.5 314.4 333.9 315.5C333.3 316.6 331.2 318.2 331.4 319.2C331.6 320.2 334.1 321.8 335.1 322.9C336.1 324 337.9 326.4 338.7 327.7C339.5 329 341.1 331.3 341.2 332.6C341.3 333.9 339.6 336.2 339.4 337.5C339.2 338.8 340.1 341.3 340 342.4C339.9 343.5 343.3 345.6 338.7 346.1C334.1 346.6 309.9 347.1 305.8 346.1C301.7 345.1 308 340.3 308.2 338.7C308.4 337.1 307.5 334.9 307 333.9C306.5 332.9 304.7 332.4 304.5 331.4C304.3 330.4 305.5 327.8 305.8 326.5C306.1 325.2 306.5 322.7 307 321.6C307.5 320.5 308.6 318.8 309.4 318C310.2 317.2 312.8 316.5 313.1 315.5C313.4 314.5 312.4 311.6 311.9 310.6C311.4 309.6 309.4 309 309.4 308.2C309.4 307.4 311.4 306 311.9 304.5C312.4 303 312.1 298.6 313.1 297.2Z" fill="#e01a18"/>
<path d="M308.2 333.8C313.6 333.1 333.8 332.9 338.7 333.8C343.6 334.7 338.5 338 337.5 339.3C336.5 340.6 334.4 341 332.6 341.7C330.8 342.4 328.3 342.6 326.5 343.5C324.7 344.4 322.6 345.6 321.6 347.2C320.6 348.8 320.4 351.5 320.4 353.3C320.4 355.1 322 357.3 321.6 358.2C321.2 359.1 319.3 359.2 318 358.8C316.7 358.4 315 357.1 313.7 355.8C312.4 354.5 310.5 352.4 310 350.9C309.5 349.4 311.1 348.1 310.9 346.6C310.7 345.1 309.6 343.1 308.8 341.7C308.1 340.3 306.5 339.4 306.4 338.1C306.3 336.8 302.8 334.5 308.2 333.8Z" fill="#e01a18"/>
<path d="M328.4 346.6C329.3 346.8 331.8 351.5 333.2 353.3C334.6 355.1 336.1 356.3 336.9 357.6C337.7 358.9 338.1 359.9 337.8 360.9C337.5 361.9 336.3 363 335.3 363.8C334.3 364.6 332.9 365.7 332 365.5C331.1 365.3 329.9 363.9 329.6 362.5C329.3 361.1 330.7 358.7 330.4 357C330.1 355.3 328 353.8 327.7 352.1C327.4 350.4 327.5 346.4 328.4 346.6Z" fill="#e01a18"/>
<path d="M323.8 367C324.6 365.8 326 364.3 327.1 364.3C328.2 364.3 329.5 366.1 330.4 367C331.3 367.9 331.9 368.8 332.6 369.8C333.3 370.8 334 372 334.8 373.1C335.6 374.2 337.5 375.5 337.3 376.5C337.1 377.5 335 379 333.6 379.2C332.2 379.4 330.6 378.3 329.2 377.7C327.8 377.1 326.2 376.3 325.1 375.3C324 374.3 322.8 373 322.6 371.6C322.4 370.2 323.1 368.2 323.8 367Z" fill="#e01a18"/>
<path d="M300.3 331.4C300.8 330.1 302.5 329.2 303.3 329.6C304.1 330 305.2 332.4 305.2 333.9C305.2 335.4 304.1 338.1 303.3 338.7C302.5 339.3 300.8 338.7 300.3 337.5C299.8 336.3 299.8 332.7 300.3 331.4Z" fill="#e01a18"/>
<path d="M292.3 341.1C292.9 342.1 295.2 345.2 296 347.2C296.8 349.2 297 352.3 297.2 353.3" fill="none" stroke="#e01a18" stroke-width="2" stroke-linejoin="round" stroke-linecap="round"/>
<path d="M302.1 357 L305.8 363.1" fill="none" stroke="#e01a18" stroke-width="1.6" stroke-linejoin="round" stroke-linecap="round"/>
<path d="M340 378C341 378.6 343.9 380.5 346.1 381.4C348.3 382.3 351.4 383.6 353.4 383.6C355.4 383.6 357.2 381.6 358 381.2" fill="none" stroke="#e01a18" stroke-width="1.6" stroke-linejoin="round" stroke-linecap="round"/>
<path d="M260 338.8C260.8 340.1 263.7 343.6 264.7 346.3C265.7 349 265.7 353.7 265.9 355.2" fill="none" stroke="#e01a18" stroke-width="2" stroke-linejoin="round" stroke-linecap="round"/>
<path d="M118.4 428.5C119.3 427.2 122.5 426.4 124.4 426.3C126.3 426.2 128.7 426.9 130 428.1C131.3 429.4 132.6 432.2 132.3 433.8C132.1 435.4 130.1 437.4 128.5 437.9C126.9 438.4 124.1 437.5 122.5 436.9C120.9 436.3 119.5 435.5 118.8 434.1C118.1 432.7 117.5 429.8 118.4 428.5Z" fill="#e01a18"/>
<path d="M135.6 428.5C136.8 426.6 141 425.7 143.1 426.3C145.2 426.9 147 429.6 148 431.9C149 434.1 149.5 437.9 149.1 439.8C148.7 441.7 147 443 145.4 443.5C143.8 444 141 443.5 139.4 442.6C137.8 441.7 136.2 440.2 135.6 437.9C135 435.5 134.3 430.4 135.6 428.5Z" fill="#e01a18"/>
<path d="M149.7 436.8C150.6 435.6 155 435.1 156.3 435.6C157.7 436.2 158.1 438.8 157.8 440.1C157.6 441.4 156 443.1 154.8 443.5C153.6 443.9 151.4 443.9 150.6 442.8C149.8 441.7 148.8 438 149.7 436.8Z" fill="#e01a18"/>
<path d="M125.3 438.4C126.4 438.9 129.6 440.6 131.9 441.6C134.2 442.6 136.9 443.9 139.4 444.6C141.9 445.3 144.4 445.7 146.9 445.8C149.4 445.9 153.2 445.1 154.4 445" fill="none" stroke="#e01a18" stroke-width="1.6" stroke-linejoin="round" stroke-linecap="round"/>
<path d="M173.1 440.3C173.7 439 177.2 437.9 178.8 438.3C180.4 438.7 182.5 441.3 182.9 442.8C183.3 444.3 182.2 446.8 181 447.3C179.8 447.9 176.7 447.3 175.4 446.1C174.1 444.9 172.5 441.6 173.1 440.3Z" fill="#e01a18"/>
<path d="M188.1 440.5C188.7 438.8 191.9 438.2 193.8 438.6C195.7 439 198 441.1 199.4 443.1C200.8 445.1 202.3 448.5 202.4 450.6C202.5 452.7 201.2 454.8 199.8 455.5C198.4 456.2 195.7 455.9 194.1 454.8C192.5 453.7 191 451.5 190 449.1C189 446.7 187.5 442.2 188.1 440.5Z" fill="#e01a18"/>
<path d="M203.5 451C205.1 450.6 210.8 451.7 212.5 452.5C214.2 453.3 215.1 455.1 214 455.9C212.9 456.7 207.8 457.6 205.9 457.4C204 457.2 203.2 455.9 202.8 454.8C202.4 453.7 201.9 451.4 203.5 451Z" fill="#e01a18"/>
<path d="M176.9 446.9C178.2 447.6 181.9 449.6 184.4 451C186.9 452.4 190.7 454.4 191.9 455.1" fill="none" stroke="#e01a18" stroke-width="1.4" stroke-linejoin="round" stroke-linecap="round"/>
<path d="M160 434.7C160.9 435.2 163.7 436.7 165.6 437.5C167.5 438.3 170.4 439.1 171.3 439.4" fill="none" stroke="#f5e50e" stroke-width="1.8" stroke-linejoin="round" stroke-linecap="round"/>
<path d="M160.9 431.9 L167.5 433.4" fill="none" stroke="#72b324" stroke-width="1.2" stroke-linejoin="round" stroke-linecap="round"/>
<path d="M327.4 221.5C328.9 219.6 331.8 219.2 332.5 220.5C333.2 221.8 332.9 227.2 331.9 229.6C330.9 232 328 234.6 326.6 234.9C325.2 235.2 323.2 233.9 323.3 231.7C323.4 229.5 325.9 223.4 327.4 221.5Z" fill="#ba1318"/>
<path d="M315.5 298.4C317.1 296.9 323.2 295 325.3 295.4C327.4 295.8 326.9 299.1 328 300.9C329.1 302.7 331.1 304.7 332 306.4C332.9 308.1 333.7 309.8 333.6 311.3C333.5 312.8 332.6 314.6 331.4 315.5C330.2 316.4 328.1 317 326.5 316.8C324.9 316.6 323 315.5 321.6 314.3C320.2 313.1 319 311 318 309.4C317 307.8 315.9 306.3 315.5 304.5C315.1 302.7 313.9 299.9 315.5 298.4Z" fill="#ba1318"/>
<path d="M309.4 320.4C310.4 319 313 317.8 314.3 318C315.6 318.2 316.8 320 317 321.6C317.2 323.2 316.4 326.3 315.5 327.7C314.6 329.1 312.5 330.4 311.3 330.2C310.1 330 308.5 328.1 308.2 326.5C307.9 324.9 308.4 321.8 309.4 320.4Z" fill="#ba1318"/>
<path d="M321.6 320.4C322.8 319.4 326.9 319.6 329 320.4C331.1 321.2 332.5 323.5 333.9 325.3C335.3 327.1 337.1 329.4 337.5 331.4C337.9 333.4 337.3 336.9 336.3 337.5C335.3 338.1 333 336.1 331.4 335.1C329.8 334.1 328.1 332.8 326.5 331.4C324.9 330 322.4 328.3 321.6 326.5C320.8 324.7 320.4 321.4 321.6 320.4Z" fill="#ba1318"/>
<path d="M309.4 337.5C310.6 335.8 314.8 334.7 316.8 335.1C318.8 335.5 321 338.3 321.6 340C322.2 341.7 322.4 344.6 320.4 345.5C318.4 346.4 311.2 346.8 309.4 345.5C307.6 344.2 308.2 339.2 309.4 337.5Z" fill="#ba1318"/>
<path d="M311.9 336.2C313.5 335 319.4 334.4 321.6 335C323.8 335.6 325.3 338.3 325.3 339.9C325.3 341.5 323.2 343.8 321.6 344.8C320 345.8 317.1 346.4 315.5 346C313.9 345.6 312.5 343.9 311.9 342.3C311.3 340.7 310.3 337.4 311.9 336.2Z" fill="#ba1318"/>
<path d="M313.7 348.4C314.7 347.7 318.6 348 319.8 349C321 350 321.2 353.3 320.7 354.5C320.2 355.7 318.1 356.2 317 356C315.9 355.8 314.4 354.6 313.8 353.3C313.2 352 312.7 349.1 313.7 348.4Z" fill="#ba1318"/>
<path d="M137.9 429.3C138.9 428.1 141.4 427.5 142.8 428.1C144.2 428.7 145.8 431.2 146.5 433C147.2 434.8 147.8 437.6 147.3 439C146.8 440.4 144.8 441.5 143.5 441.6C142.2 441.7 140.5 440.9 139.4 439.8C138.3 438.8 137.3 437.1 137.1 435.3C136.8 433.6 136.9 430.5 137.9 429.3Z" fill="#ba1318"/>
<path d="M120.3 429.3C120.9 428.4 123.4 427.9 124.8 428.1C126.2 428.3 127.8 429.4 128.5 430.4C129.2 431.4 129.9 433.2 129.3 434.1C128.7 435 126.5 436.1 125.1 436C123.7 435.9 121.8 434.9 121 433.8C120.2 432.7 119.7 430.2 120.3 429.3Z" fill="#ba1318"/>
<path d="M190.9 442.2C191.2 440.8 193.4 440.4 194.7 440.9C196 441.4 197.7 443.3 198.6 445C199.5 446.7 200.4 449.6 200.1 451C199.8 452.4 198.1 453.6 196.8 453.3C195.6 453 193.6 451 192.6 449.1C191.6 447.2 190.6 443.6 190.9 442.2Z" fill="#ba1318"/>
<path d="M303.3 304.5C303.1 305.3 302.1 307.3 302.1 309.4C302.1 311.4 302.7 314.8 303.3 316.8C303.9 318.8 305.3 320 305.8 321.6C306.3 323.2 306.3 325.7 306.4 326.5" fill="none" stroke="#72b324" stroke-width="2.2" stroke-linejoin="round" stroke-linecap="round"/>
<path d="M314.3 297.2C314.5 297.8 315.7 299.7 315.5 300.9C315.3 302.1 314.1 303.6 313.1 304.5C312.1 305.4 310 306.1 309.4 306.4" fill="none" stroke="#f5e50e" stroke-width="1.6" stroke-linejoin="round" stroke-linecap="round"/>
<path d="M321.6 307C322.2 307.8 324.4 310.6 325.3 311.9C326.2 313.2 326.6 314.2 326.8 314.6" fill="none" stroke="#f5e50e" stroke-width="0.9" stroke-linejoin="round" stroke-linecap="round"/>
<path d="M318 319.2C318.2 320 318.6 322.3 319.2 324.1C319.8 325.9 320.6 328.9 321.6 330.2C322.7 331.5 324.1 332.5 325.5 331.7C326.9 330.9 329.4 326.5 330.2 325.5" fill="none" stroke="#f5e50e" stroke-width="1.4" stroke-linejoin="round" stroke-linecap="round"/>
<path d="M314.3 325.3C313.9 326.1 312.7 328.8 311.9 330.2C311.1 331.6 310.1 332.9 309.4 333.9C308.7 334.9 307.9 335.9 307.6 336.3" fill="none" stroke="#b5cc18" stroke-width="1.6" stroke-linejoin="round" stroke-linecap="round"/>
<path d="M316.8 333.9C317.4 334.7 318.8 337.5 320.4 338.7C322 339.9 324.7 341.2 326.5 341.2C328.3 341.2 330.6 339.1 331.4 338.7" fill="none" stroke="#f5e50e" stroke-width="1.4" stroke-linejoin="round" stroke-linecap="round"/>
<path d="M309.4 347.2C310 347.4 311.9 348.3 313.1 348.4C314.3 348.5 316.2 347.9 316.8 347.8" fill="none" stroke="#f5e50e" stroke-width="1" stroke-linejoin="round" stroke-linecap="round"/>
<path d="M322.9 349.7C323.3 350.7 324.6 353.7 325.3 355.8C326 357.9 326.8 361.4 327.1 362.5" fill="none" stroke="#f5e50e" stroke-width="1.6" stroke-linejoin="round" stroke-linecap="round"/>
<path d="M327.7 344.8C328.3 346 330.2 350.4 331.4 352.1C332.6 353.8 334.5 354.7 335.1 355.2" fill="none" stroke="#f5e50e" stroke-width="1.2" stroke-linejoin="round" stroke-linecap="round"/>
<path d="M321.6 371.6C322.4 371.8 324.9 372.3 326.5 372.9C328.1 373.5 329.8 375.1 331.4 375.3C333 375.5 335.5 374.3 336.3 374.1" fill="none" stroke="#f5e50e" stroke-width="1.6" stroke-linejoin="round" stroke-linecap="round"/>
<path d="M325.3 364.3C325.9 364.9 327.8 367.1 329 368C330.2 368.9 332 369.2 332.6 369.4" fill="none" stroke="#f5e50e" stroke-width="1.2" stroke-linejoin="round" stroke-linecap="round"/>
<path d="M133.4 430 L134.1 437.5" fill="none" stroke="#f5e50e" stroke-width="1.2" stroke-linejoin="round" stroke-linecap="round"/>
<path d="M184 438.4 L186.3 445" fill="none" stroke="#f5e50e" stroke-width="1.2" stroke-linejoin="round" stroke-linecap="round"/>
<path d="M314.6 297.7C314.8 298.2 315.7 299.8 315.5 300.9C315.3 302 313.7 303.7 313.3 304.3" fill="none" stroke="#72b324" stroke-width="0.8" stroke-linejoin="round" stroke-linecap="round"/>
<path d="M318.2 319.8C318.4 320.5 318.6 322.4 319.2 324.1C319.8 325.8 320.6 328.7 321.6 329.9C322.6 331.1 324.7 331.1 325.3 331.4" fill="none" stroke="#72b324" stroke-width="0.7" stroke-linejoin="round" stroke-linecap="round"/>
<path d="M320.4 338.7 L326.5 340.9" fill="none" stroke="#72b324" stroke-width="0.7" stroke-linejoin="round" stroke-linecap="round"/>
<path d="M323.8 353.3 L325.9 359.4" fill="none" stroke="#72b324" stroke-width="0.7" stroke-linejoin="round" stroke-linecap="round"/>
<path d="M101.3 174.8C102.5 174.2 107.3 176 110 176C112.7 176 115 174.6 117.5 174.8C120 175 122.9 176 125 177C127.1 178 129.6 179.4 130 181C130.4 182.6 129.6 185.6 127.5 186.3C125.4 187 120.4 184.8 117.5 185C114.6 185.2 112.1 187.7 110 187.5C107.9 187.3 106.2 185.1 105 183.8C103.8 182.5 103.1 181 102.5 179.5C101.9 178 100 175.4 101.3 174.8Z" fill="#467abc"/>
<path d="M95.9 174.1C97.9 172.2 105.3 173.8 108.1 175.1C110.9 176.4 112.6 180.3 112.6 182.2C112.6 184.1 110.9 186 108.1 186.7C105.3 187.4 97.9 188.4 95.9 186.3C93.9 184.2 93.9 176 95.9 174.1Z" fill="#467abc"/>
<path d="M131.6 187.5C132.1 186.8 134.3 186.5 135 187.1C135.7 187.7 136.1 190.4 135.6 191.2C135.1 191.9 132.9 192.2 132.2 191.6C131.5 191 131.1 188.2 131.6 187.5Z" fill="#467abc"/>
<path d="M141.9 187.1C142.3 184.7 144.5 184.9 145.2 187.5C145.9 190.1 146.4 200.2 146 202.6C145.6 205 143.4 204.8 142.7 202.2C142 199.6 141.5 189.5 141.9 187.1Z" fill="#467abc"/>
<path d="M154.6 175.7C155.9 175.7 159.7 175.2 162.2 175.7C164.7 176.2 167.5 177.2 169.8 178.7C172.1 180.2 173.9 182.8 176 184.8C178.1 186.9 180.1 189.5 182.1 191C184.1 192.5 185.9 193.4 188.2 194C190.5 194.6 193.5 194.8 195.8 194.8C198.1 194.8 200.1 193.4 201.9 194C203.7 194.6 205 197.1 206.5 198.6C208 200.1 210.3 202.4 211.1 203.2" fill="none" stroke="#467abc" stroke-width="2.2" stroke-linejoin="round" stroke-linecap="round"/>
<path d="M159.2 180.3C159.9 181.1 162.7 183 163.7 184.8C164.7 186.6 165 190 165.3 191" fill="none" stroke="#467abc" stroke-width="1.3" stroke-linejoin="round" stroke-linecap="round"/>
<path d="M166.8 204.7C167.3 203.5 169.6 201.1 171.4 200.1C173.2 199.1 175.5 198.6 177.5 198.6C179.5 198.6 181.9 199.5 183.6 200.1C185.2 200.7 187.2 201.4 187.4 202.4C187.7 203.4 186.2 205 185.1 206.2C183.9 207.3 182.5 209.1 180.5 209.3C178.5 209.6 174.9 208.1 172.9 207.7C170.9 207.3 169.3 207.5 168.3 207C167.3 206.5 166.3 205.8 166.8 204.7Z" fill="#467abc"/>
<path d="M221 191.7C221.5 190.4 223.4 188.2 224.8 187.9C226.2 187.7 227.6 189.9 229.4 190.2C231.2 190.4 233.5 189.4 235.5 189.4C237.5 189.4 241.1 189.6 241.6 190.2C242.1 190.8 240 192.6 238.5 193.2C237 193.8 234.4 193.6 232.4 194C230.4 194.4 228.1 195.2 226.3 195.5C224.5 195.8 222.7 196.1 221.8 195.5C220.9 194.9 220.5 193 221 191.7Z" fill="#467abc"/>
<path d="M236.3 178.7C237.1 178.1 240.5 177.5 241.6 178C242.7 178.5 243.5 180.8 243.1 181.8C242.7 182.8 240.4 184.1 239.3 184.1C238.2 184.1 237.2 182.7 236.7 181.8C236.2 180.9 235.5 179.3 236.3 178.7Z" fill="#467abc"/>
<path d="M251.5 192.5C252 191.7 254.2 191.2 255.3 191.7C256.4 192.2 257.2 194.2 258.4 195.5C259.5 196.8 261.9 198.5 262.2 199.4C262.4 200.3 261 200.9 259.9 200.9C258.8 200.9 256.6 200.2 255.3 199.4C254 198.6 252.9 197.5 252.3 196.3C251.7 195.2 251 193.3 251.5 192.5Z" fill="#467abc"/>
<path d="M216.6 176 L217.2 180.9" fill="none" stroke="#467abc" stroke-width="1.2" stroke-linejoin="round" stroke-linecap="round"/>
<path d="M337.8 221.5C338.2 219.6 339.6 219.8 339.9 221.5C340.2 223.2 339.8 229.8 339.4 231.7C339 233.6 337.7 234.6 337.4 232.9C337.1 231.2 337.4 223.4 337.8 221.5Z" fill="#467abc"/>
<path d="M276.5 256.1C277.5 254.6 280.7 253.7 281.8 255.1C282.9 256.5 283.1 261.4 283 264.3C282.9 267.2 281.7 269.7 281 272.4C280.3 275.1 279.6 276.5 278.9 280.6C278.2 284.7 278.3 294.2 276.9 296.9C275.5 299.6 271.3 298.9 270.4 296.9C269.5 294.8 270.9 288.7 271.4 284.6C271.9 280.5 272.9 275.8 273.6 272.4C274.3 269 275.2 267 275.7 264.3C276.2 261.6 275.5 257.6 276.5 256.1Z" fill="#467abc"/>
<path d="M200.3 275.9C202 274.7 208.7 274.1 210.8 275.2C212.9 276.3 212.9 280.1 212.9 282.5C212.9 284.9 212.3 288.4 210.8 289.5C209.3 290.6 205.5 290.4 203.8 289.2C202.1 288 201.2 284.7 200.6 282.5C200 280.3 198.6 277.1 200.3 275.9Z" fill="#2458a6"/>
<path d="M357.5 386.2C356.3 386 353.6 387.2 352.6 387.8C351.6 388.4 348.8 391.5 347.8 391.9C346.8 392.3 343.6 391.4 342.9 391.9C342.2 392.4 342 396.2 341.2 396.8C340.4 397.4 335.8 397.1 334.7 397.6C333.6 398.1 331.1 401.2 329.8 401.7C328.5 402.2 322.9 402.8 321.7 402.5C320.5 402.2 318.1 399.5 317.6 398.4C317.1 397.3 317.1 393.2 316.8 391.9C316.5 390.6 315 386.5 314.4 385.4C313.8 384.3 310.8 381.6 310.3 380.5C309.8 379.4 309.8 374.2 309.5 374C309.2 373.8 307.2 377.8 307 378.9C306.8 380 308.1 384.4 307.8 385.4C307.5 386.4 304.9 388.1 303.8 388.7C302.7 389.3 298.5 391.7 297.2 391.9C295.9 392.1 291.7 391.1 290.7 390.3C289.7 389.5 287.3 384.9 287.5 383.8C287.7 382.7 291.6 379.7 292.4 378.9C293.2 378.1 295.6 376.2 295.6 375.6C295.6 375 293.2 373 292.4 372.4C291.6 371.8 288.5 369.9 287.5 369.1C286.5 368.3 283.2 365.3 282.6 364.2C282 363.1 281.3 358.8 281 357.7C280.7 356.6 279.7 353.1 279.3 352.8C278.9 352.5 277.3 353.6 276.9 354.4C276.5 355.2 275.7 359.9 275.3 361C274.9 362.1 273.5 365 272.8 365.8C272.1 366.6 268.9 368.6 267.9 369.1C266.9 369.6 264 370.2 263 370.7C262 371.2 258.8 373.3 258.1 374C257.4 374.7 256.5 377 256.3 378.1C256.1 379.2 256.8 383.6 256.3 384.7C255.8 385.8 252.5 388.5 251.5 389.5C250.5 390.5 247.6 393.3 246.6 394.4C245.6 395.5 242.8 399.4 241.7 400.1C240.6 400.8 236.5 400.4 235.2 401C233.9 401.6 229.9 404.8 228.6 405.8C227.3 406.8 223.1 410 222.1 410.7C221.1 411.4 220 412.8 218.9 413.2C217.8 413.6 212.5 414.5 210.7 414.8C208.9 415.1 202.7 416.2 201 416.4C199.3 416.6 193.8 415.6 193.6 416.5C193.4 417.4 197.8 424 198.8 425.2C199.8 426.4 203 428.1 204 428.6C205 429.1 208.7 429.5 209.2 430.4C209.7 431.3 209.5 436.3 209.2 437.3C208.8 438.3 205.7 439.8 205.7 440.7C205.7 441.6 208.3 444.9 209.2 445.9C210.1 446.9 213.4 450.3 214.4 451.1C215.4 451.9 217.8 453.2 219.6 453.7C221.4 454.2 230 457.4 232 456C234 454.6 237 443.1 240 440C243 436.9 256 425.8 262 425C268 424.2 293.2 431.5 300 432C306.8 432.5 325 432.2 330 430C335 427.8 346.5 414 350 410C353.5 406 364.2 392.4 365 390C365.8 387.6 358.7 386.4 357.5 386.2Z" fill="#ffffff"/>
<path d="M146.9 394C147.2 393.2 149.4 391.7 150.4 391.4C151.4 391.1 156.3 391.2 157.3 390.6C158.3 390 159.8 385.8 160.8 385.4C161.8 385 166.3 386.8 167.7 387.1C169.1 387.4 173.2 388.2 174.6 388C176 387.8 180.4 386 181.5 385.4C182.6 384.8 185.5 381.6 185.8 381.9C186.2 382.2 185.4 386.8 185 388C184.6 389.2 181.2 393.6 181.5 394C181.8 394.4 187 392.6 188.4 392.3C189.8 392 195.1 391 195.4 391.4C195.8 391.8 192.9 395.1 191.9 395.8C190.9 396.5 185 397.7 185 398.4C185 399.1 190.5 401.9 191.9 402.7C193.3 403.5 197.4 405.2 198.8 406.1C200.2 407 205.5 410.9 205.7 411.3C205.9 411.7 202 410.9 200.6 410.5C199.2 410.1 193.6 407.8 191.9 407C190.2 406.2 184.5 403.3 183.3 402.7C182.1 402.1 179.8 400.5 179.8 401C179.8 401.5 182.6 406.5 183.3 407.9C184 409.3 186 413.4 186.7 414.8C187.4 416.2 190.2 420.8 190.2 421.7C190.2 422.6 187.4 423.9 186.7 423.4C186 422.9 184.2 418.1 183.3 416.5C182.4 414.9 179 409.4 178.1 407.9C177.2 406.3 175.3 401.4 174.6 401C173.9 400.6 172 403.5 171.1 404.4C170.2 405.3 166.9 408.7 166 409.6C165.1 410.5 162.7 413.3 162.5 413.1C162.3 412.9 163.7 409.1 164.2 407.9C164.7 406.7 167.5 402 167.7 401C167.9 400 166.7 397.7 166 397.5C165.3 397.3 161.7 398.5 160.8 399.2C159.9 399.9 157.8 403.5 157.3 404.4C156.8 405.3 155.9 408.1 155.6 407.9C155.3 407.7 155 403.4 154.7 402.7C154.3 402 152.8 401.4 152.1 401C151.4 400.6 148.3 399.9 147.8 399.2C147.3 398.5 146.6 394.8 146.9 394Z" fill="#ffffff"/>
<path d="M145.2 375C146.3 374.4 150.9 376.7 153.8 376.7C156.7 376.7 161.6 374.4 162.5 375C163.4 375.6 160.7 379.1 159 380.2C157.3 381.3 154.1 381.9 152.1 381.9C150.1 381.9 148.1 381.3 146.9 380.2C145.8 379.1 144 375.6 145.2 375Z" fill="#ffffff"/>
<path d="M133.5 402.8C133.8 402.4 136.8 403.3 138.4 404.4C140 405.5 142.8 408.4 143.3 409.3C143.9 410.2 142.8 410.5 141.7 410.1C140.6 409.7 138.2 408.1 136.8 406.9C135.4 405.7 133.2 403.2 133.5 402.8Z" fill="#ffffff"/>
<path d="M190.4 384.7C191.2 384 195.4 384.8 196.1 385.5C196.8 386.2 195.2 388 194.4 388.7C193.6 389.4 191.9 390.2 191.2 389.5C190.5 388.8 189.6 385.4 190.4 384.7Z" fill="#ffffff"/>
<path d="M110.7 324.4C111.2 325.5 112.6 328.8 114 331C115.4 333.2 117.3 335.3 118.9 337.5C120.5 339.7 122.5 342.1 123.8 344C125.1 345.9 125.9 347 127 348.9C128.1 350.8 128.9 353.2 130.3 355.4C131.7 357.6 133.6 360 135.2 361.9C136.8 363.8 138.4 365.2 140 366.8C141.6 368.4 143.5 370.1 144.9 371.7C146.3 373.3 147.3 374.9 148.2 376.6C149 378.3 148.7 380.1 150 382C151.3 383.9 155 387 156 388" fill="none" stroke="#ffffff" stroke-width="2.8" stroke-linejoin="round" stroke-linecap="round"/>
<path d="M111 326C111.7 327 113.5 330.1 115 332C116.5 333.9 119.2 336.6 120 337.5" fill="none" stroke="#ffffff" stroke-width="4.2" stroke-linejoin="round" stroke-linecap="round"/>
<path d="M110.4 329.2C111.2 329.6 112.2 329.7 112.5 332.2C112.8 334.7 112.7 339.6 112.5 344.4C112.3 349.1 111.8 355.9 111.4 360.7C111.1 365.4 110.7 369.5 110.4 372.9C110.1 376.3 110.1 378.3 109.4 381C108.7 383.7 107.4 387.5 106.4 389.2C105.4 390.9 104.4 391.1 103.3 391.2C102.2 391.3 100.2 393.1 100 390C99.8 386.9 101.3 377.8 102 372.9C102.7 368 103.7 365.4 104.4 360.7C105.1 355.9 105.8 349.5 106.4 344.4C107 339.3 107.3 332.5 108 330C108.7 327.5 109.7 328.8 110.4 329.2Z" fill="#ffffff"/>
<path d="M133.5 355.4C134.3 355.5 136.2 355.9 138.4 356.2C140.6 356.5 143.9 356.7 146.6 357C149.3 357.3 153.3 357.7 154.7 357.8" fill="none" stroke="#ffffff" stroke-width="1.6" stroke-linejoin="round" stroke-linecap="round"/>
<path d="M138.4 365.2C140 365.1 144.4 364.4 148.2 364.4C152 364.4 159 365.1 161.2 365.2" fill="none" stroke="#ffffff" stroke-width="1.8" stroke-linejoin="round" stroke-linecap="round"/>
<path d="M151.5 374.9 L166.1 373.3" fill="none" stroke="#ffffff" stroke-width="1.5" stroke-linejoin="round" stroke-linecap="round"/>
<path d="M99 294C99.2 292.3 102 295.6 103.5 296C105 296.4 106.4 295.8 108 296.5C109.6 297.2 111.8 298.6 113 300C114.2 301.4 114.5 302.8 115 304.6C115.5 306.4 115.8 309.1 116 310.7C116.2 312.3 116.7 312.8 116.5 314C116.3 315.2 115.6 316.7 115 318C114.4 319.3 113.8 320.7 113 322C112.2 323.3 111.7 326.7 110.5 326C109.3 325.3 107.4 321.3 106 318C104.6 314.7 103.2 310 102 306C100.8 302 98.8 295.7 99 294Z" fill="#ffffff"/>
<circle cx="141.7" cy="315.5" r="1" fill="#ffffff"/>
<circle cx="138.4" cy="325.3" r="0.8" fill="#ffffff"/>
<circle cx="162" cy="321" r="0.8" fill="#ffffff"/>
<path d="M304.5 375.3C305.1 373.2 308.3 371 309.4 370.4C310.5 369.8 311 370.4 310.9 371.6C310.8 372.8 309.3 375.8 308.5 377.7C307.7 379.6 306.7 383.3 306 382.9C305.3 382.5 303.9 377.4 304.5 375.3Z" fill="#ffffff"/>
<path d="M240 193C241.2 190.2 245.3 191.3 248 191.5C250.7 191.7 254.2 192.6 256 194C257.8 195.4 258.7 197.8 258.5 200C258.3 202.2 256.8 205.2 255 207C253.2 208.8 250.3 210.3 248 210.5C245.7 210.7 242.3 210.9 241 208C239.7 205.1 238.8 195.8 240 193Z" fill="#467abc"/>
<path d="M241 216C242.5 213.8 246.2 213.3 249 213.5C251.8 213.7 256 215.1 258 217C260 218.9 261 222.3 261 225C261 227.7 259.8 230.8 258 233C256.2 235.2 252.5 238 250 238.5C247.5 239 244.7 237.9 243 236C241.3 234.1 240.3 230.3 240 227C239.7 223.7 239.5 218.2 241 216Z" fill="#467abc"/>
<path d="M251 221C251.7 219.8 255.1 220.8 256 222C256.9 223.2 257.2 226.8 256.5 228C255.8 229.2 252.9 230.2 252 229C251.1 227.8 250.3 222.2 251 221Z" fill="#72b324"/>
</g></g>
<use href="#fr" fill="none" stroke="#1a1a1a" stroke-width="0.55" stroke-linejoin="round"/>
<path d="M10.5 206 L12.5 207.3 L11 207.8 L10.5 206" fill="none" stroke="#1a1a1a" stroke-width="0.5"/>
<path d="M56 253.2 L59.5 254.5 L60 255.6 L57 255 L56 253.2" fill="none" stroke="#1a1a1a" stroke-width="0.5"/>
<path d="M82 268.5 L84.2 270.2 L83.4 271 L82 268.5" fill="none" stroke="#1a1a1a" stroke-width="0.5"/>
<path d="M102 301 L105 304.5 L107 309 L105.5 308 L103 304.5 L102 301" fill="none" stroke="#1a1a1a" stroke-width="0.5"/>
<path d="M99 296.5 L102.5 297.5 L104.5 299 L101 298.2 L99 296.5" fill="none" stroke="#1a1a1a" stroke-width="0.5"/>
<path d="M105.5 360.5 L107.5 358 L108.8 361.5 L105.5 360.5" fill="none" stroke="#1a1a1a" stroke-width="0.5"/>
<path d="M109.7 328 L112.2 327 L117.7 332.5 L121.5 338.8 L120.7 341.3 L116.5 337.5 L112.7 332.5 L110.2 330" fill="none" stroke="#1a1a1a" stroke-width="0.5"/>
<path d="M103.5 296 L106 299.5 L109.5 301 L111 305 L108.5 306.5 L110.5 311 L108 313.5 L109.5 318 L108 322" fill="none" stroke="#1a1a1a" stroke-width="0.5"/>
</g>
<g id="map2100" transform="translate(427.3 0)">
<g clip-path="url(#frclip)"><g filter="url(#soft)">
<path d="M14.9 209C14.8 208.1 18.8 204.6 20 203.3C21.2 202 23.3 198.7 25.1 197.8C26.9 196.9 33.2 196.3 35.3 195.8C37.4 195.3 41.5 194.3 43.4 193.8C45.3 193.3 49.5 191.9 51.6 191.7C53.7 191.5 59.6 191.2 61.7 191.7C63.8 192.2 68.6 194.4 69.9 195.8C71.2 197.2 72.4 201.6 72.9 203.3C73.4 205 73.6 209.7 74.4 210.3C75.2 210.9 79 208.6 80.1 208.6C81.2 208.6 82.7 210.7 84.1 210.7C85.5 210.7 90.6 209.3 92.3 208.6C94 207.9 97 204.7 98.4 204.6C99.8 204.5 103.8 206.8 104.5 208C105.2 209.2 105.5 214 104.5 215.1C103.5 216.2 98 217.2 96.3 217.2C94.6 217.2 91.6 214.9 90.2 215.1C88.8 215.3 85.5 218.7 84.1 219.2C82.7 219.7 79.2 218.7 78 219.2C76.8 219.7 74.4 221.9 73.9 223.3C73.4 224.7 73.7 229.5 73.9 231.4C74.1 233.3 76.2 238.4 76 239.6C75.8 240.8 73.1 242.1 71.9 241.6C70.7 241.1 67 235.7 65.8 235.5C64.6 235.3 62.9 239.6 61.7 239.6C60.5 239.6 57 236.5 55.6 235.5C54.2 234.5 50.9 232.1 49.5 231.4C48.1 230.7 44.8 229.9 43.4 229.4C42 228.9 38.7 228.1 37.3 227.4C35.9 226.7 32.9 224 31.2 223.3C29.5 222.6 23.3 221.9 23.1 221.2C22.9 220.5 29 218.1 29.2 217.2C29.4 216.3 26.1 213.8 25.1 213.1C24.1 212.4 22.2 211.6 21 211.1C19.8 210.6 15 209.9 14.9 209Z" fill="#2458a6"/>
<path d="M19.2 204C20.2 202 26.3 200.1 29.4 199C32.5 197.9 41.7 195.8 45.7 195C49.7 194.2 61.1 191.5 64 192C66.9 192.5 69 197.4 70.2 199C71.4 200.6 72.5 205.5 74.2 206C75.9 206.5 82 203.2 84.4 203C86.8 202.8 92.5 204.5 95 204.5C97.5 204.5 104.5 202.1 106 203C107.5 203.9 108.9 210.7 108 212C107.1 213.3 100 214.2 98 214.5C96 214.8 91.6 214.3 90.5 215C89.4 215.7 89.7 219.4 88.5 220.3C87.3 221.2 81.7 221.1 80.3 222.3C78.9 223.5 77 228.4 76.3 230.5C75.6 232.6 75.4 240.1 74.2 240.6C73 241.1 68 235.7 66.1 234.5C64.2 233.3 60.3 231.2 57.9 230.5C55.5 229.8 48.5 228.9 45.7 228.4C42.9 227.9 35.9 227.1 33.5 226.4C31.1 225.7 26.7 223.5 25.3 222.3C23.9 221.1 21.9 218.3 21.2 216.2C20.5 214.1 18.2 206 19.2 204Z" fill="#2458a6"/>
<path d="M80 150 L86.6 214.3 L92.7 215.8 L98.8 220.4 L104.9 223.4 L111 225.3 L117.1 228.8 L123.2 223.4 L127.8 215.8 L130.9 212.7 L132.7 221.1 L137 228.8 L141.6 221.9 L144.6 215.8 L150.7 214.3 L155.3 215.8 L156.8 221.9 L161.4 223.4 L164.5 217.3 L167.2 220.4 L167.5 228.8 L172.1 226.5 L178.2 225 L184 222.7 L184.6 217.3 L182.8 211.2 L186 207 L188 205.4 L194.1 208.5 L201.4 208.2 L203.5 204.4 L205.5 199 L212.4 203.6 L217.7 206.6 L218.5 210.5 L215.4 214.3 L210.9 217.6 L214.7 220.4 L220.8 219.2 L223.8 222.7 L224.9 228.8 L223.4 234.9 L221.9 241 L223.1 247.2 L225.4 254.8 L226.1 261 L223.1 267.1 L218.5 270.1 L217 274.7 L219 280 L218 286 L215.3 293.1 L212.2 297.6 L213.8 302.2 L210.7 305.3 L206.1 303.7 L203.1 299.2 L200 294.6 L195.4 291.5 L189.3 293.1 L186.3 297.6 L181.7 300.7 L183.2 303.7 L180.2 308.3 L175.6 311.4 L172.5 316 L174.1 320.5 L169.5 325.1 L163.4 325.9 L169.5 328.2 L175.6 329.7 L180.2 332.7 L186.3 334.3 L189.3 337.3 L192.4 341.9 L197 343.4 L193.9 348 L192.4 354.1 L195.4 358.7 L200.5 360.2 L206.6 364.3 L212.7 366.3 L218.8 370.4 L227 368.3 L233.1 370.4 L229 374.4 L220.9 372.4 L212.7 372.4 L204.6 376.5 L202.5 380.6 L208.6 380.6 L214.8 386.7 L218.8 384.6 L224.9 380.6 L229 384.6 L227 390.8 L231 396.9 L235.1 394.8 L239.2 390.8 L245.3 388.7 L247.4 382.6 L253.5 376.5 L259.6 370.4 L267.7 364.3 L269.8 358.1 L271.2 350 L269 335 L266.9 322.8 L268 310 L272 300 L270.5 285 L272 280 L276.2 280 L276.9 294.3 L274.1 308.5 L278.3 320 L285 322 L291 321 L297.6 327 L292 329.5 L286 329 L283 330 L286 337 L288.5 343 L289.8 350 L288.3 354.8 L292.3 360.9 L296.4 369.1 L300.5 371.1 L306.6 369.1 L310.7 365 L314.7 371.1 L312.7 377.2 L318.8 381.3 L324.9 385.4 L335.1 387.4 L343.3 385.4 L349.4 386.4 L357.5 382 L380 380 L380 100 L80 100Z" fill="#2458a6"/>
<path d="M208 254.5C208.5 253.7 209.2 255.8 210.2 256C211.2 256.2 212.9 255.1 214 255.8C215.1 256.6 216.9 259 217 260.5C217.1 262 216 264 214.7 264.8C213.4 265.6 210.6 266.1 209.3 265.5C208 264.9 207.2 262.8 207 261C206.8 259.2 207.5 255.3 208 254.5Z" fill="#2458a6"/>
<path d="M209.7 233C210.4 231.4 213.5 230.9 215 231.5C216.5 232.1 218.5 234.7 218.8 236.4C219.1 238.1 218.1 240.9 216.7 241.6C215.3 242.3 211.7 242.2 210.5 240.8C209.3 239.4 208.9 234.6 209.7 233Z" fill="#2458a6"/>
<circle cx="176.5" cy="249.5" r="1.2" fill="#2458a6"/>
<circle cx="186" cy="255.5" r="1" fill="#2458a6"/>
<circle cx="227" cy="318" r="1.2" fill="#2458a6"/>
<circle cx="231" cy="322" r="1" fill="#2458a6"/>
<path d="M209.7 398.9C211.1 397.9 214.4 397.2 216.8 397.9C219.2 398.6 222.9 401.5 223.9 403C224.9 404.5 224.1 405.8 222.9 407C221.7 408.2 218.8 409.9 216.8 410.3C214.8 410.7 212.1 410.2 210.7 409.1C209.3 408.1 208.8 405.7 208.6 404C208.4 402.3 208.3 399.9 209.7 398.9Z" fill="#2458a6"/>
<path d="M199.5 413.2C200.6 412.5 204.8 411.9 206.6 412.1C208.4 412.3 210.3 413.4 210.3 414.2C210.3 415 208.3 416.5 206.6 416.8C204.9 417.1 201.3 416.8 200.1 416.2C198.9 415.6 198.4 413.9 199.5 413.2Z" fill="#2458a6"/>
<circle cx="290.3" cy="383.3" r="1.4" fill="#2458a6"/>
<circle cx="301.5" cy="384.6" r="2" fill="#2458a6"/>
<circle cx="320.8" cy="393.9" r="1.6" fill="#2458a6"/>
<circle cx="330" cy="393.9" r="2.4" fill="#2458a6"/>
<path d="M98.2 424.1C98.8 424 103.6 425.6 105.2 425.9C106.8 426.2 112.4 427 114 426.9C115.6 426.8 119.6 425.4 121 425.2C122.4 425 126.6 425.1 128 425.2C129.4 425.3 133.6 425.8 135 426C136.4 426.2 140.8 426.6 142 426.9C143.2 427.2 146 428.3 147.2 428.7C148.4 429.1 152.8 430.1 154.2 430.4C155.6 430.7 159.6 431.1 161.2 431.3C162.8 431.5 168.2 432.1 170 432.2C171.8 432.3 177.1 432 178.7 432.2C180.3 432.4 184.3 433.5 185.7 433.9C187.1 434.3 191.5 435.8 192.7 436.5C193.9 437.2 197.1 439.9 198 440.9C198.9 441.9 200.3 445.3 201.5 446.2C202.7 447.1 209 448.9 210.2 449.7C211.3 450.5 213 453.5 213 454.4C213 455.3 211.2 458.2 210.2 458.4C209.2 458.6 204.6 456.8 203.2 456.7C201.8 456.6 197.4 458.1 196.2 457.7C195 457.3 192.1 454.1 191 453.2C189.9 452.3 186.9 449.4 185.7 448.6C184.5 447.8 180.1 445.8 178.7 445.1C177.3 444.4 173.1 442.1 171.7 441.6C170.3 441.1 166.1 439.9 164.7 439.9C163.3 439.9 158.9 441.2 157.7 441.6C156.5 442 153.7 443.7 152.5 443.7C151.3 443.7 146.9 441.8 145.5 441.6C144.1 441.4 139.7 441.8 138.5 441.6C137.3 441.4 134.4 440.3 133.2 439.9C132 439.5 127.4 437.7 126.2 437.2C125 436.7 122 435.2 121 434.6C120 434 117.1 431.7 115.7 431.1C114.3 430.5 108.7 429.1 107 428.7C105.3 428.2 99.8 427.1 98.9 426.6C98 426.1 97.6 424.2 98.2 424.1Z" fill="#2458a6"/>
<path d="M33.2 209C34.2 207 39.7 207 43.4 207C47.1 207 52.9 207.7 55.6 209C58.3 210.3 59.7 213.1 59.7 215.1C59.7 217.1 57.6 219.8 55.6 221.2C53.6 222.6 50.5 223.6 47.5 223.3C44.5 223 39.7 221.6 37.3 219.2C34.9 216.8 32.2 211 33.2 209Z" fill="#467abc"/>
<path d="M151 167.2C151 165.9 156.8 162.5 159.2 161.1C161.6 159.7 166.6 158.1 169.3 157C172 155.9 177.3 154.3 179.5 152.9C181.7 151.5 184.5 149 185.6 146.8C186.7 144.6 187.2 139.6 187.7 136.6C188.2 133.6 188.9 125.7 189.7 124.4C190.5 123.1 192.2 125.7 193.8 126.5C195.4 127.3 200 129.2 201.9 130.5C203.8 131.8 206.4 135.5 208 136.6C209.6 137.7 212.7 137.6 214.1 138.7C215.5 139.8 216.3 143.7 218.2 144.8C220.1 145.9 226.2 146.3 228.4 146.8C230.6 147.3 234.2 147.8 234.5 148.9C234.8 150 232 153.7 230.4 155C228.8 156.3 224.5 158.2 222.3 159C220.1 159.8 216 161.1 214.1 161.1C212.2 161.1 209.4 158.5 208 159C206.6 159.5 205 163.5 203.9 165.1C202.8 166.7 201.8 170.7 199.9 171.2C198 171.7 192.4 169.7 189.7 169.2C187 168.7 182.2 167.2 179.5 167.2C176.8 167.2 172 168.7 169.3 169.2C166.6 169.7 161.6 171.5 159.2 171.2C156.8 170.9 151 168.5 151 167.2Z" fill="#467abc"/>
<path d="M222.3 169.2C223.3 167.5 228.4 166.9 230.4 167.2C232.4 167.5 234.2 169.5 234.5 171.2C234.8 172.9 234.1 176.4 232.4 177.4C230.7 178.4 226 178.8 224.3 177.4C222.6 176 221.3 170.9 222.3 169.2Z" fill="#467abc"/>
<path d="M238.6 140.7C239.7 139.9 244.8 139.9 246.7 140.7C248.6 141.5 251.7 144.6 252.8 146.8C253.9 149 253.4 154.3 254.8 157C256.2 159.7 260.8 165 263 167.2C265.2 169.4 268.4 172.8 271.1 173.3C273.8 173.8 280 171.7 283.3 171.2C286.6 170.7 293.9 165.1 295.5 169.2C297.1 173.3 298.2 197.5 295.5 201.8C292.8 206.1 278.5 203.4 275.2 201.8C271.9 200.2 272.5 192.3 271.1 189.6C269.7 186.9 266.9 183.6 265 181.4C263.1 179.2 259.1 175.5 256.9 173.3C254.7 171.1 250.6 167.5 248.7 165.1C246.8 162.7 243.9 157.4 242.6 155C241.3 152.6 239.1 148.7 238.6 146.8C238.1 144.9 237.5 141.5 238.6 140.7Z" fill="#467abc"/>
<path d="M114.1 198.2C115.1 197.3 118.3 197.1 120.2 197.5C122.1 197.9 124.7 199.1 125.5 200.5C126.3 201.9 125.9 204.9 124.8 205.9C123.7 206.9 120.5 207.1 118.7 206.6C116.9 206.1 114.9 204.2 114.1 202.8C113.3 201.4 113.1 199.1 114.1 198.2Z" fill="#467abc"/>
<path d="M122.5 190.6C123.2 189.7 127.9 189.2 129.3 189.8C130.7 190.4 131.7 193.5 130.9 194.4C130.2 195.3 126.2 195.8 124.8 195.2C123.4 194.6 121.8 191.5 122.5 190.6Z" fill="#467abc"/>
<path d="M264.9 170.4C266 174.7 267.9 177.3 269 180.6C270.1 183.9 272.3 190.7 273.1 194.8C273.9 198.9 274.6 206.8 275.1 211.1C275.6 215.4 276.6 223.6 277.1 227.4C277.6 231.2 278.4 236.3 279.2 239.6C280 242.9 282.2 248.6 283.3 251.9C284.4 255.2 286.2 260.8 287.3 264.1C288.4 267.4 288.9 274.1 291.4 276.3C293.9 278.5 301.9 280.9 305.7 280.4C309.5 279.9 318 275.5 319.9 272.2C321.8 268.9 312.6 258.6 319.9 255.9C327.2 253.2 367.6 266.3 374.9 251.9C382.2 237.5 390.1 161.9 374.9 148C359.7 134.1 275.5 145 260.8 148C246.1 151 263.8 166.1 264.9 170.4Z" fill="#467abc"/>
<path d="M187.8 316C189.4 314.8 195.4 314.8 198.5 314.4C201.6 314 207.6 313.3 210.7 312.9C213.8 312.5 219.4 311 221.4 311.4C223.4 311.8 225.6 313.8 226 316C226.4 318.2 225.3 325.6 224.5 328.2C223.7 330.8 221.7 334.6 219.9 335.8C218.1 337 212.9 337.5 210.7 337.3C208.5 337.1 205.1 334.5 203.1 334.3C201.1 334.1 197.2 336 195.4 335.8C193.6 335.6 190.5 334.3 189.3 332.7C188.1 331.1 186.5 325.8 186.3 323.6C186.1 321.4 186.2 317.2 187.8 316Z" fill="#467abc"/>
<path d="M333.2 253.4C331.3 254.8 325.3 258.7 322 261.6C318.7 264.5 315.9 267.4 313.4 270.6C310.9 273.8 308.7 277.3 306.9 280.7C305.1 284.1 304.1 287.5 302.8 290.9C301.5 294.3 300.3 297.9 299.2 301.1C298.1 304.3 296.8 308.8 296.3 310.3" fill="none" stroke="#467abc" stroke-width="20.4" stroke-linejoin="round" stroke-linecap="round"/>
<path d="M250.9 264 L250.3 273.9" fill="none" stroke="#467abc" stroke-width="7.6" stroke-linejoin="round" stroke-linecap="round"/>
<path d="M193.9 328.2C194.5 327.3 196.9 324.1 197.7 322.8C198.5 321.5 198.4 320.9 198.5 320.5" fill="none" stroke="#467abc" stroke-width="4.4" stroke-linejoin="round" stroke-linecap="round"/>
<path d="M219.9 317.5C219.5 318.8 217.9 322.2 217.6 325.1C217.3 328 218.2 333 218.3 334.6" fill="none" stroke="#467abc" stroke-width="8.6" stroke-linejoin="round" stroke-linecap="round"/>
<path d="M210 343.4C210.4 342 212.4 340.8 213.8 341.1C215.2 341.4 217.3 343.3 218.3 345C219.3 346.7 220.3 349.8 219.9 351.1C219.5 352.4 217.5 352.9 216.1 352.6C214.7 352.3 212.5 351 211.5 349.5C210.5 348 209.6 344.8 210 343.4Z" fill="#467abc" stroke="#467abc" stroke-width="6.4" stroke-linejoin="round" stroke-linecap="round"/>
<path d="M244.3 308.3C244.1 309.3 242.6 311.8 242.8 314.4C243.1 316.9 244.5 320.8 245.8 323.6C247.1 326.5 249.6 330.2 250.4 331.5" fill="none" stroke="#467abc" stroke-width="8.4" stroke-linejoin="round" stroke-linecap="round"/>
<path d="M266 334.3C265.5 335.6 263.9 339.6 262.9 341.9C261.9 344.2 260.4 347 259.9 348" fill="none" stroke="#467abc" stroke-width="8.2" stroke-linejoin="round" stroke-linecap="round"/>
<path d="M255.3 349.5 L258 357.2" fill="none" stroke="#467abc" stroke-width="8" stroke-linejoin="round" stroke-linecap="round"/>
<path d="M230.6 348C231.9 349.3 235.9 353 238.2 355.6C240.5 358.2 243.3 362.3 244.3 363.6" fill="none" stroke="#467abc" stroke-width="8.4" stroke-linejoin="round" stroke-linecap="round"/>
<path d="M222.2 360.5 L229 365.6" fill="none" stroke="#467abc" stroke-width="8.4" stroke-linejoin="round" stroke-linecap="round"/>
<path d="M241.5 309.2C242.2 311.5 244.2 319.4 245.5 322.8C246.8 326.2 248.8 328.7 249.5 329.9" fill="none" stroke="#467abc" stroke-width="8" stroke-linejoin="round" stroke-linecap="round"/>
<path d="M263.4 337.1 L266.9 350.6" fill="none" stroke="#467abc" stroke-width="8.4" stroke-linejoin="round" stroke-linecap="round"/>
<path d="M219.8 360.2C220.2 361.2 220.5 365 221.9 366.3C223.3 367.6 226.7 368.8 228 367.9C229.3 367 229.7 362.3 230 361.2" fill="none" stroke="#467abc" stroke-width="7.8" stroke-linejoin="round" stroke-linecap="round"/>
<path d="M233.5 350C234.4 351.7 237.6 357.1 239.2 360.2C240.8 363.2 242.6 366.9 243.3 368.3" fill="none" stroke="#467abc" stroke-width="8" stroke-linejoin="round" stroke-linecap="round"/>
<path d="M247.3 354.1 L253.5 366.3" fill="none" stroke="#467abc" stroke-width="8" stroke-linejoin="round" stroke-linecap="round"/>
<path d="M257.5 350 L261.6 358.1" fill="none" stroke="#467abc" stroke-width="7.9" stroke-linejoin="round" stroke-linecap="round"/>
<path d="M239.6 374 L249.4 376.5" fill="none" stroke="#467abc" stroke-width="7.7" stroke-linejoin="round" stroke-linecap="round"/>
<path d="M239.2 383.6 L241.2 389.7" fill="none" stroke="#467abc" stroke-width="8" stroke-linejoin="round" stroke-linecap="round"/>
<path d="M296.9 299.7C298 299.3 301.2 299.7 301.8 300.9C302.4 302.1 301.2 305 300.6 307C300 309 299.1 311.4 298.1 313.1C297.1 314.8 295.5 316.8 294.5 317C293.5 317.2 292.2 315.8 292 314.3C291.8 312.8 292.7 310 293.2 308.2C293.7 306.4 294.5 304.7 295.1 303.3C295.7 301.9 295.8 300.1 296.9 299.7Z" fill="#467abc" stroke="#467abc" stroke-width="6" stroke-linejoin="round" stroke-linecap="round"/>
<path d="M297.5 203.4C300.8 201.2 314.4 200.6 317.9 202.6C321.4 204.6 321.6 213 318.3 215.2C315 217.4 301.8 217.6 298.3 215.6C294.8 213.6 294.2 205.6 297.5 203.4Z" fill="#2458a6"/>
<path d="M289.4 227.4C292 225.2 302.9 225 305.7 227C308.5 229 308.7 237.4 306.1 239.6C303.5 241.8 293 242.1 290.2 240.1C287.4 238.1 286.8 229.6 289.4 227.4Z" fill="#2458a6"/>
<path d="M301.6 239.6C304.6 237.2 318.2 236.5 322 237.6C325.8 238.7 328.5 244.3 330.1 247.8C331.7 251.3 334.7 259.8 334.2 264.1C333.7 268.4 328.7 276.6 326 280.4C323.3 284.2 317.3 291 313.8 292.6C310.3 294.2 301 295.3 299.6 292.6C298.2 289.9 303.6 277.1 303.6 272.2C303.6 267.3 299.9 260.2 299.6 255.9C299.3 251.6 298.6 242 301.6 239.6Z" fill="#2458a6"/>
<path d="M38.5 211.1C39.1 210.4 42.4 209.2 43.4 209.4C44.4 209.6 45.2 211.4 44.6 212.1C44 212.8 40.7 213.9 39.7 213.7C38.7 213.5 37.9 211.8 38.5 211.1Z" fill="#72b324"/>
<circle cx="118.3" cy="200.5" r="0.8" fill="#72b324"/>
<circle cx="125.5" cy="192.9" r="0.8" fill="#72b324"/>
<path d="M252.8 152.9C253.7 152.5 256.9 154.6 258.9 156C260.9 157.4 263.3 159.6 265 161.1C266.7 162.6 269.1 164.2 269.1 165.1C269.1 166 266.7 166.7 265 166.4C263.3 166.1 260.8 164.9 258.9 163.5C257 162.1 254.8 160 253.8 158.2C252.8 156.4 252 153.3 252.8 152.9Z" fill="#72b324"/>
<path d="M194.8 128.1 L197.4 125.6" fill="none" stroke="#72b324" stroke-width="1" stroke-linejoin="round" stroke-linecap="round"/>
<path d="M287.3 170.4C287.6 169.9 293.3 170.9 295.5 171.4C297.7 171.9 301.4 173.7 303.6 174.4C305.8 175.1 309.6 175.4 311.8 176.5C314 177.6 317.7 181.5 319.9 182.6C322.1 183.7 325.6 184.3 328.1 184.6C330.6 184.9 335.9 184.3 338.3 184.6C340.7 184.9 343.4 186 346.4 186.7C349.4 187.4 359.6 188.3 360.7 189.7C361.8 191.1 356 195.1 354.6 196.9C353.2 198.7 351.3 201.1 350.5 203C349.7 204.9 349 208.9 348.5 211.1C348 213.3 347.2 219.3 346.4 219.3C345.6 219.3 343.1 213.6 342.3 211.1C341.5 208.6 341.4 202.8 340.3 200.9C339.2 199 336.1 196.9 334.2 196.9C332.3 196.9 327.6 201.2 326 200.9C324.4 200.6 323.1 196.4 322 194.8C320.9 193.2 319.3 190.3 317.9 188.7C316.5 187.1 313.7 184 311.8 182.6C309.9 181.2 306.1 179.4 303.6 178.5C301.1 177.6 295.6 176.6 293.4 175.5C291.2 174.4 287 170.9 287.3 170.4Z" fill="#72b324"/>
<path d="M324 190.7C325.4 189.3 332 187.9 334.2 188.7C336.4 189.5 339.5 193.9 340.3 196.9C341.1 199.9 340.6 207.6 340.3 211.1C340 214.6 338.8 220 338.3 223.3C337.8 226.6 337 232.9 336.2 235.6C335.4 238.3 333.8 242.3 332.2 243.7C330.6 245.1 326.2 246.6 324 245.8C321.8 245 317.8 239.2 315.9 237.6C314 236 311.1 234.6 309.7 233.5C308.3 232.4 305.4 230.9 305.7 229.5C306 228.1 310.2 224.9 311.8 223.3C313.4 221.7 316.5 219.4 317.9 217.2C319.3 215 321.2 209.4 322 207C322.8 204.6 323.7 201.1 324 198.9C324.3 196.7 322.6 192.1 324 190.7Z" fill="#72b324"/>
<path d="M279.2 186.7C279.9 188.4 281.9 193.5 283.3 196.9C284.7 200.3 286.3 204.2 287.3 207C288.3 209.8 289 212.5 289.4 213.6" fill="none" stroke="#72b324" stroke-width="1.8" stroke-linejoin="round" stroke-linecap="round"/>
<path d="M285.3 183.6 L291.4 193.2" fill="none" stroke="#72b324" stroke-width="1.3" stroke-linejoin="round" stroke-linecap="round"/>
<path d="M300 192.8 L301.6 197.3" fill="none" stroke="#72b324" stroke-width="1.2" stroke-linejoin="round" stroke-linecap="round"/>
<path d="M283.4 210.5C284.1 209.5 287.4 209.1 288.7 209.7C290 210.3 291.2 212.7 291 214.3C290.8 215.9 288.3 218.9 287.2 219.2C286.1 219.4 284.8 217.2 284.2 215.8C283.6 214.4 282.6 211.5 283.4 210.5Z" fill="#72b324"/>
<path d="M333.2 253.4C331.3 254.8 325.3 258.7 322 261.6C318.7 264.5 315.9 267.4 313.4 270.6C310.9 273.8 308.7 277.3 306.9 280.7C305.1 284.1 304.1 287.5 302.8 290.9C301.5 294.3 300.3 297.9 299.2 301.1C298.1 304.3 296.8 308.8 296.3 310.3" fill="none" stroke="#72b324" stroke-width="16" stroke-linejoin="round" stroke-linecap="round"/>
<path d="M250.9 264 L250.3 273.9" fill="none" stroke="#72b324" stroke-width="4.8" stroke-linejoin="round" stroke-linecap="round"/>
<path d="M193.9 328.2C194.5 327.3 196.9 324.1 197.7 322.8C198.5 321.5 198.4 320.9 198.5 320.5" fill="none" stroke="#72b324" stroke-width="1.6" stroke-linejoin="round" stroke-linecap="round"/>
<path d="M219.9 317.5C219.5 318.8 217.9 322.2 217.6 325.1C217.3 328 218.2 333 218.3 334.6" fill="none" stroke="#72b324" stroke-width="6" stroke-linejoin="round" stroke-linecap="round"/>
<path d="M221.4 337.3C221.9 336.7 223.9 336.9 224.5 337.6C225.1 338.3 225.3 340.7 224.8 341.3C224.3 341.9 222.3 341.7 221.7 341C221.1 340.3 220.9 337.9 221.4 337.3Z" fill="#72b324" stroke="#72b324" stroke-width="1.6" stroke-linejoin="round" stroke-linecap="round"/>
<path d="M210 343.4C210.4 342 212.4 340.8 213.8 341.1C215.2 341.4 217.3 343.3 218.3 345C219.3 346.7 220.3 349.8 219.9 351.1C219.5 352.4 217.5 352.9 216.1 352.6C214.7 352.3 212.5 351 211.5 349.5C210.5 348 209.6 344.8 210 343.4Z" fill="#72b324" stroke="#72b324" stroke-width="3.8" stroke-linejoin="round" stroke-linecap="round"/>
<path d="M244.3 308.3C244.1 309.3 242.6 311.8 242.8 314.4C243.1 316.9 244.5 320.8 245.8 323.6C247.1 326.5 249.6 330.2 250.4 331.5" fill="none" stroke="#72b324" stroke-width="5.8" stroke-linejoin="round" stroke-linecap="round"/>
<path d="M239 328.2C239.4 327 241.4 327.2 242 328.5C242.6 329.8 242.8 334.6 242.3 335.8C241.9 337 239.9 336.8 239.3 335.5C238.8 334.2 238.6 329.4 239 328.2Z" fill="#72b324" stroke="#72b324" stroke-width="1.6" stroke-linejoin="round" stroke-linecap="round"/>
<path d="M262.9 305.3 L263.8 309.8" fill="none" stroke="#72b324" stroke-width="1.4" stroke-linejoin="round" stroke-linecap="round"/>
<path d="M266 334.3C265.5 335.6 263.9 339.6 262.9 341.9C261.9 344.2 260.4 347 259.9 348" fill="none" stroke="#72b324" stroke-width="5.6" stroke-linejoin="round" stroke-linecap="round"/>
<path d="M255.3 349.5 L258 357.2" fill="none" stroke="#72b324" stroke-width="5.4" stroke-linejoin="round" stroke-linecap="round"/>
<path d="M230.6 348C231.9 349.3 235.9 353 238.2 355.6C240.5 358.2 243.3 362.3 244.3 363.6" fill="none" stroke="#72b324" stroke-width="5.8" stroke-linejoin="round" stroke-linecap="round"/>
<path d="M222.2 360.5 L229 365.6" fill="none" stroke="#72b324" stroke-width="5.8" stroke-linejoin="round" stroke-linecap="round"/>
<path d="M243.1 346.8 L247.1 354.1" fill="none" stroke="#72b324" stroke-width="3.2" stroke-linejoin="round" stroke-linecap="round"/>
<path d="M241.5 309.2C242.2 311.5 244.2 319.4 245.5 322.8C246.8 326.2 248.8 328.7 249.5 329.9" fill="none" stroke="#72b324" stroke-width="5.4" stroke-linejoin="round" stroke-linecap="round"/>
<path d="M238.4 330.2C239 329 241.9 328.8 242.7 329.9C243.5 331 243.6 335.9 243 337.1C242.4 338.3 239.8 338.5 239 337.3C238.2 336.1 237.8 331.4 238.4 330.2Z" fill="#72b324" stroke="#72b324" stroke-width="1.6" stroke-linejoin="round" stroke-linecap="round"/>
<path d="M263.4 337.1 L266.9 350.6" fill="none" stroke="#72b324" stroke-width="5.8" stroke-linejoin="round" stroke-linecap="round"/>
<path d="M219.8 360.2C220.2 361.2 220.5 365 221.9 366.3C223.3 367.6 226.7 368.8 228 367.9C229.3 367 229.7 362.3 230 361.2" fill="none" stroke="#72b324" stroke-width="5.2" stroke-linejoin="round" stroke-linecap="round"/>
<path d="M233.5 350C234.4 351.7 237.6 357.1 239.2 360.2C240.8 363.2 242.6 366.9 243.3 368.3" fill="none" stroke="#72b324" stroke-width="5.4" stroke-linejoin="round" stroke-linecap="round"/>
<path d="M247.3 354.1 L253.5 366.3" fill="none" stroke="#72b324" stroke-width="5.4" stroke-linejoin="round" stroke-linecap="round"/>
<path d="M257.5 350 L261.6 358.1" fill="none" stroke="#72b324" stroke-width="5.3" stroke-linejoin="round" stroke-linecap="round"/>
<path d="M239.6 374 L249.4 376.5" fill="none" stroke="#72b324" stroke-width="5.1" stroke-linejoin="round" stroke-linecap="round"/>
<path d="M239.2 383.6 L241.2 389.7" fill="none" stroke="#72b324" stroke-width="5.4" stroke-linejoin="round" stroke-linecap="round"/>
<path d="M303 283.8C304.6 283.2 310.2 282.6 311.3 283.8C312.4 285 310 288.9 309.4 291.1C308.8 293.3 308.4 295.6 307.9 297.2C307.4 298.8 307 300.4 306.2 300.9C305.4 301.4 304 301.2 303.3 300.4C302.6 299.6 302.4 297.6 302 296C301.6 294.4 300.8 292.5 300.8 291.1C300.8 289.7 301.4 288.6 301.8 287.4C302.2 286.2 301.4 284.4 303 283.8Z" fill="#72b324" stroke="#72b324" stroke-width="8.8" stroke-linejoin="round" stroke-linecap="round"/>
<path d="M296.9 299.7C298 299.3 301.2 299.7 301.8 300.9C302.4 302.1 301.2 305 300.6 307C300 309 299.1 311.4 298.1 313.1C297.1 314.8 295.5 316.8 294.5 317C293.5 317.2 292.2 315.8 292 314.3C291.8 312.8 292.7 310 293.2 308.2C293.7 306.4 294.5 304.7 295.1 303.3C295.7 301.9 295.8 300.1 296.9 299.7Z" fill="#72b324" stroke="#72b324" stroke-width="3.6" stroke-linejoin="round" stroke-linecap="round"/>
<path d="M314 298.4C314.9 297.1 317.9 295.6 319.5 295C321.1 294.4 325 293.5 326.2 293.8C327.4 294.1 328.2 296.1 328.7 297.2C329.2 298.3 329.2 301 329.9 302.1C330.6 303.2 332.9 304.7 333.6 305.8C334.3 306.9 335.4 309.3 335.4 310.6C335.4 311.9 334.2 314.4 333.6 315.5C333 316.6 330.9 318.2 331.1 319.2C331.3 320.2 333.8 321.8 334.8 322.9C335.8 324 337.6 326.4 338.4 327.7C339.2 329 340.8 331.3 340.9 332.6C341 333.9 339.3 336.2 339.1 337.5C338.9 338.8 339.8 341.3 339.7 342.4C339.6 343.5 342.8 345.6 338.4 346.1C334 346.6 310.7 347.1 306.7 346.1C302.7 345.1 308.4 340.3 308.5 338.7C308.6 337.1 307.7 334.9 307.3 333.9C306.9 332.9 305.6 332.4 305.5 331.4C305.4 330.4 306.4 327.8 306.7 326.5C307 325.2 307.4 322.7 307.9 321.6C308.4 320.5 309.4 319 310.1 318.2C310.8 317.4 313.2 316.8 313.5 315.8C313.8 314.8 312.7 311.9 312.3 310.9C311.9 309.9 310.3 309.3 310.3 308.5C310.3 307.7 312 306.1 312.5 304.8C313 303.5 313.1 299.7 314 298.4Z" fill="#72b324" stroke="#72b324" stroke-width="5.2" stroke-linejoin="round" stroke-linecap="round"/>
<path d="M300.3 331.2C300.8 329.9 302.3 329.2 303 329.7C303.7 330.1 304.7 332.4 304.7 333.9C304.7 335.4 303.7 337.9 303 338.5C302.3 339.1 300.8 338.5 300.3 337.3C299.9 336.1 299.9 332.5 300.3 331.2Z" fill="#72b324" stroke="#72b324" stroke-width="3.6" stroke-linejoin="round" stroke-linecap="round"/>
<path d="M309.1 347.2C310.1 346.5 313.6 346 315.2 346C316.8 346 319.7 347 321.3 347.2C322.9 347.4 326.1 346.7 327.4 347.2C328.7 347.7 330 349.8 331.1 350.9C332.2 352 335.1 354.5 336 355.8C336.9 357.1 337.8 359.3 337.8 360.6C337.8 361.9 336.6 364.2 336 365.5C335.4 366.8 334.4 369.6 333.6 370.4C332.8 371.2 330.9 371.6 329.9 371.6C328.9 371.6 326.5 371.2 326.2 370.4C325.9 369.6 327.4 367 327.4 365.5C327.4 364 326.7 360.9 326.2 359.4C325.7 357.9 324.6 355 323.8 354.5C323 354 320.8 355.1 320.1 355.8C319.4 356.5 318.7 358.4 318.9 359.4C319.1 360.4 321.1 362.1 321.3 363.1C321.5 364.1 320.7 366.6 320.1 366.8C319.5 367 317.5 365.1 316.5 364.3C315.5 363.5 313.6 361.7 312.8 360.6C312 359.5 311 357.1 310.3 355.8C309.6 354.5 308.1 352 307.9 350.9C307.7 349.8 308.1 347.9 309.1 347.2Z" fill="#72b324" stroke="#72b324" stroke-width="3.2" stroke-linejoin="round" stroke-linecap="round"/>
<path d="M321.3 372.9C321.9 371.9 324.6 371.4 326.2 371.6C327.8 371.8 329.7 373.1 331.1 374.1C332.5 375.1 333.6 376.5 334.8 377.7C336 378.9 338.2 380.4 338.4 381.4C338.6 382.4 337.2 383.7 336 383.9C334.8 384.1 332.7 383 331.1 382.6C329.5 382.2 327.6 382.2 326.2 381.4C324.8 380.6 323.4 379.1 322.6 377.7C321.8 376.3 320.7 373.9 321.3 372.9Z" fill="#72b324" stroke="#72b324" stroke-width="3.2" stroke-linejoin="round" stroke-linecap="round"/>
<path d="M342.1 382C343.1 382.2 346.4 383.1 348.2 383.2C350 383.3 351.6 383 353.1 382.6C354.6 382.2 356.7 381.2 357.4 380.9" fill="none" stroke="#72b324" stroke-width="4" stroke-linejoin="round" stroke-linecap="round"/>
<path d="M295.7 341.1C295.5 342.1 294.9 345.2 294.5 347.2C294.1 349.2 293.4 352.3 293.2 353.3" fill="none" stroke="#72b324" stroke-width="4.2" stroke-linejoin="round" stroke-linecap="round"/>
<path d="M289.6 350.9C290 350.2 291.6 350.3 292 351.1C292.4 351.9 292.7 355.1 292.3 355.8C291.9 356.5 290.2 356.3 289.8 355.5C289.4 354.7 289.2 351.6 289.6 350.9Z" fill="#72b324"/>
<path d="M264.8 336.5 L265.8 350.7" fill="none" stroke="#72b324" stroke-width="4.6" stroke-linejoin="round" stroke-linecap="round"/>
<path d="M258.7 350.7 L261.8 363" fill="none" stroke="#72b324" stroke-width="4.6" stroke-linejoin="round" stroke-linecap="round"/>
<path d="M124.1 429.4C124.8 428.7 127.1 428 128.3 428.3C129.5 428.6 131.2 430.1 131.5 431.1C131.8 432.1 131.2 433.7 130.4 434.3C129.6 434.9 127.6 435.3 126.6 435C125.5 434.7 124.5 433.4 124.1 432.5C123.7 431.6 123.4 430.1 124.1 429.4Z" fill="#72b324" stroke="#72b324" stroke-width="3" stroke-linejoin="round" stroke-linecap="round"/>
<path d="M138.5 430.8C139.3 430 141.6 429.4 142.8 429.7C144 430 145.5 431.4 145.8 432.5C146.1 433.6 145.7 435.6 144.8 436.4C143.9 437.2 141.3 437.5 140.2 437.1C139.1 436.8 138.4 435.4 138.1 434.3C137.8 433.2 137.7 431.6 138.5 430.8Z" fill="#72b324" stroke="#72b324" stroke-width="3" stroke-linejoin="round" stroke-linecap="round"/>
<path d="M149.3 441.3 L154.2 442.3" fill="none" stroke="#72b324" stroke-width="3.6" stroke-linejoin="round" stroke-linecap="round"/>
<path d="M177.8 437.4C178.5 436.4 181.2 436 182.2 436.7C183.2 437.4 183.8 440 183.6 441.3C183.4 442.6 182.3 444.2 181.3 444.4C180.3 444.6 178.4 443.9 177.8 442.7C177.2 441.5 177.1 438.4 177.8 437.4Z" fill="#72b324" stroke="#72b324" stroke-width="1.6" stroke-linejoin="round" stroke-linecap="round"/>
<path d="M191 443.9C191.7 442.8 194 442.2 195.3 442.7C196.6 443.2 198.2 445.3 198.7 446.9C199.1 448.5 198.8 451.1 198 452.1C197.2 453.2 194.8 453.7 193.6 453.2C192.4 452.7 191.4 450.7 191 449.1C190.6 447.6 190.3 445 191 443.9Z" fill="#72b324" stroke="#72b324" stroke-width="3" stroke-linejoin="round" stroke-linecap="round"/>
<path d="M164.7 435.7 L170 436.7" fill="none" stroke="#72b324" stroke-width="1.4" stroke-linejoin="round" stroke-linecap="round"/>
<path d="M116.6 429.7 L120.1 431.1" fill="none" stroke="#72b324" stroke-width="1.2" stroke-linejoin="round" stroke-linecap="round"/>
<path d="M339.3 215.2C340 211.6 343.4 211.4 344.4 214.8C345.4 218.2 346.1 232 345.4 235.6C344.7 239.2 341.3 240 340.3 236.6C339.3 233.2 338.6 218.8 339.3 215.2Z" fill="#2458a6"/>
<path d="M326 194.8C327.2 192.6 332.6 190.2 334.2 190.7C335.8 191.2 337.8 196.2 338.3 198.9C338.8 201.6 338.6 207.8 338.3 211.1C338 214.4 336.7 220 336.2 223.3C335.7 226.6 335.3 233.1 334.2 235.6C333.1 238.1 330 241.7 328.1 241.7C326.2 241.7 322.1 237 319.9 235.6C317.7 234.2 312.3 232.9 311.8 231.5C311.3 230.1 314.5 227.3 315.9 225.4C317.3 223.5 320.8 219.7 322 217.2C323.2 214.7 324.5 210 325 207C325.5 204 324.8 197 326 194.8Z" fill="#b5cc18"/>
<path d="M333.8 254.3C332 255.5 326.4 258.9 323.2 261.6C320 264.3 317.2 267.4 314.8 270.6C312.4 273.8 310.2 277.3 308.5 280.7C306.8 284.1 305.7 287.5 304.5 290.9C303.3 294.3 301.8 299.4 301.2 301.1" fill="none" stroke="#b5cc18" stroke-width="11.5" stroke-linejoin="round" stroke-linecap="round"/>
<path d="M250.9 264 L250.3 273.9" fill="none" stroke="#b5cc18" stroke-width="3.2" stroke-linejoin="round" stroke-linecap="round"/>
<path d="M219.9 317.5C219.5 318.8 217.9 322.2 217.6 325.1C217.3 328 218.2 333 218.3 334.6" fill="none" stroke="#b5cc18" stroke-width="3.8" stroke-linejoin="round" stroke-linecap="round"/>
<path d="M221.4 337.3C221.9 336.7 223.9 336.9 224.5 337.6C225.1 338.3 225.3 340.7 224.8 341.3C224.3 341.9 222.3 341.7 221.7 341C221.1 340.3 220.9 337.9 221.4 337.3Z" fill="#b5cc18"/>
<path d="M210 343.4C210.4 342 212.4 340.8 213.8 341.1C215.2 341.4 217.3 343.3 218.3 345C219.3 346.7 220.3 349.8 219.9 351.1C219.5 352.4 217.5 352.9 216.1 352.6C214.7 352.3 212.5 351 211.5 349.5C210.5 348 209.6 344.8 210 343.4Z" fill="#b5cc18" stroke="#b5cc18" stroke-width="1.6" stroke-linejoin="round" stroke-linecap="round"/>
<path d="M244.3 308.3C244.1 309.3 242.6 311.8 242.8 314.4C243.1 316.9 244.5 320.8 245.8 323.6C247.1 326.5 249.6 330.2 250.4 331.5" fill="none" stroke="#b5cc18" stroke-width="3.6" stroke-linejoin="round" stroke-linecap="round"/>
<path d="M239 328.2C239.4 327 241.4 327.2 242 328.5C242.6 329.8 242.8 334.6 242.3 335.8C241.9 337 239.9 336.8 239.3 335.5C238.8 334.2 238.6 329.4 239 328.2Z" fill="#b5cc18"/>
<path d="M266 334.3C265.5 335.6 263.9 339.6 262.9 341.9C261.9 344.2 260.4 347 259.9 348" fill="none" stroke="#b5cc18" stroke-width="3.4" stroke-linejoin="round" stroke-linecap="round"/>
<path d="M255.3 349.5 L258 357.2" fill="none" stroke="#b5cc18" stroke-width="3.2" stroke-linejoin="round" stroke-linecap="round"/>
<path d="M230.6 348C231.9 349.3 235.9 353 238.2 355.6C240.5 358.2 243.3 362.3 244.3 363.6" fill="none" stroke="#b5cc18" stroke-width="3.6" stroke-linejoin="round" stroke-linecap="round"/>
<path d="M222.2 360.5 L229 365.6" fill="none" stroke="#b5cc18" stroke-width="3.6" stroke-linejoin="round" stroke-linecap="round"/>
<path d="M243.1 346.8 L247.1 354.1" fill="none" stroke="#b5cc18" stroke-width="1.6" stroke-linejoin="round" stroke-linecap="round"/>
<path d="M241.5 309.2C242.2 311.5 244.2 319.4 245.5 322.8C246.8 326.2 248.8 328.7 249.5 329.9" fill="none" stroke="#b5cc18" stroke-width="3.2" stroke-linejoin="round" stroke-linecap="round"/>
<path d="M238.4 330.2C239 329 241.9 328.8 242.7 329.9C243.5 331 243.6 335.9 243 337.1C242.4 338.3 239.8 338.5 239 337.3C238.2 336.1 237.8 331.4 238.4 330.2Z" fill="#b5cc18"/>
<path d="M263.4 337.1 L266.9 350.6" fill="none" stroke="#b5cc18" stroke-width="3.6" stroke-linejoin="round" stroke-linecap="round"/>
<path d="M219.8 360.2C220.2 361.2 220.5 365 221.9 366.3C223.3 367.6 226.7 368.8 228 367.9C229.3 367 229.7 362.3 230 361.2" fill="none" stroke="#b5cc18" stroke-width="3" stroke-linejoin="round" stroke-linecap="round"/>
<path d="M233.5 350C234.4 351.7 237.6 357.1 239.2 360.2C240.8 363.2 242.6 366.9 243.3 368.3" fill="none" stroke="#b5cc18" stroke-width="3.2" stroke-linejoin="round" stroke-linecap="round"/>
<path d="M247.3 354.1 L253.5 366.3" fill="none" stroke="#b5cc18" stroke-width="3.2" stroke-linejoin="round" stroke-linecap="round"/>
<path d="M257.5 350 L261.6 358.1" fill="none" stroke="#b5cc18" stroke-width="3.1" stroke-linejoin="round" stroke-linecap="round"/>
<path d="M239.6 374 L249.4 376.5" fill="none" stroke="#b5cc18" stroke-width="2.9" stroke-linejoin="round" stroke-linecap="round"/>
<path d="M239.2 383.6 L241.2 389.7" fill="none" stroke="#b5cc18" stroke-width="3.2" stroke-linejoin="round" stroke-linecap="round"/>
<path d="M303 283.8C304.6 283.2 310.2 282.6 311.3 283.8C312.4 285 310 288.9 309.4 291.1C308.8 293.3 308.4 295.6 307.9 297.2C307.4 298.8 307 300.4 306.2 300.9C305.4 301.4 304 301.2 303.3 300.4C302.6 299.6 302.4 297.6 302 296C301.6 294.4 300.8 292.5 300.8 291.1C300.8 289.7 301.4 288.6 301.8 287.4C302.2 286.2 301.4 284.4 303 283.8Z" fill="#b5cc18" stroke="#b5cc18" stroke-width="6.6" stroke-linejoin="round" stroke-linecap="round"/>
<path d="M296.9 299.7C298 299.3 301.2 299.7 301.8 300.9C302.4 302.1 301.2 305 300.6 307C300 309 299.1 311.4 298.1 313.1C297.1 314.8 295.5 316.8 294.5 317C293.5 317.2 292.2 315.8 292 314.3C291.8 312.8 292.7 310 293.2 308.2C293.7 306.4 294.5 304.7 295.1 303.3C295.7 301.9 295.8 300.1 296.9 299.7Z" fill="#b5cc18" stroke="#b5cc18" stroke-width="1.6" stroke-linejoin="round" stroke-linecap="round"/>
<path d="M314 298.4C314.9 297.1 317.9 295.6 319.5 295C321.1 294.4 325 293.5 326.2 293.8C327.4 294.1 328.2 296.1 328.7 297.2C329.2 298.3 329.2 301 329.9 302.1C330.6 303.2 332.9 304.7 333.6 305.8C334.3 306.9 335.4 309.3 335.4 310.6C335.4 311.9 334.2 314.4 333.6 315.5C333 316.6 330.9 318.2 331.1 319.2C331.3 320.2 333.8 321.8 334.8 322.9C335.8 324 337.6 326.4 338.4 327.7C339.2 329 340.8 331.3 340.9 332.6C341 333.9 339.3 336.2 339.1 337.5C338.9 338.8 339.8 341.3 339.7 342.4C339.6 343.5 342.8 345.6 338.4 346.1C334 346.6 310.7 347.1 306.7 346.1C302.7 345.1 308.4 340.3 308.5 338.7C308.6 337.1 307.7 334.9 307.3 333.9C306.9 332.9 305.6 332.4 305.5 331.4C305.4 330.4 306.4 327.8 306.7 326.5C307 325.2 307.4 322.7 307.9 321.6C308.4 320.5 309.4 319 310.1 318.2C310.8 317.4 313.2 316.8 313.5 315.8C313.8 314.8 312.7 311.9 312.3 310.9C311.9 309.9 310.3 309.3 310.3 308.5C310.3 307.7 312 306.1 312.5 304.8C313 303.5 313.1 299.7 314 298.4Z" fill="#b5cc18" stroke="#b5cc18" stroke-width="3.8" stroke-linejoin="round" stroke-linecap="round"/>
<path d="M309.1 347.2C310.1 346.5 313.6 346 315.2 346C316.8 346 319.7 347 321.3 347.2C322.9 347.4 326.1 346.7 327.4 347.2C328.7 347.7 330 349.8 331.1 350.9C332.2 352 335.1 354.5 336 355.8C336.9 357.1 337.8 359.3 337.8 360.6C337.8 361.9 336.6 364.2 336 365.5C335.4 366.8 334.4 369.6 333.6 370.4C332.8 371.2 330.9 371.6 329.9 371.6C328.9 371.6 326.5 371.2 326.2 370.4C325.9 369.6 327.4 367 327.4 365.5C327.4 364 326.7 360.9 326.2 359.4C325.7 357.9 324.6 355 323.8 354.5C323 354 320.8 355.1 320.1 355.8C319.4 356.5 318.7 358.4 318.9 359.4C319.1 360.4 321.1 362.1 321.3 363.1C321.5 364.1 320.7 366.6 320.1 366.8C319.5 367 317.5 365.1 316.5 364.3C315.5 363.5 313.6 361.7 312.8 360.6C312 359.5 311 357.1 310.3 355.8C309.6 354.5 308.1 352 307.9 350.9C307.7 349.8 308.1 347.9 309.1 347.2Z" fill="#b5cc18" stroke="#b5cc18" stroke-width="1.4" stroke-linejoin="round" stroke-linecap="round"/>
<path d="M321.3 372.9C321.9 371.9 324.6 371.4 326.2 371.6C327.8 371.8 329.7 373.1 331.1 374.1C332.5 375.1 333.6 376.5 334.8 377.7C336 378.9 338.2 380.4 338.4 381.4C338.6 382.4 337.2 383.7 336 383.9C334.8 384.1 332.7 383 331.1 382.6C329.5 382.2 327.6 382.2 326.2 381.4C324.8 380.6 323.4 379.1 322.6 377.7C321.8 376.3 320.7 373.9 321.3 372.9Z" fill="#b5cc18" stroke="#b5cc18" stroke-width="1.4" stroke-linejoin="round" stroke-linecap="round"/>
<path d="M342.1 382C343.1 382.2 346.4 383.1 348.2 383.2C350 383.3 351.6 383 353.1 382.6C354.6 382.2 356.7 381.2 357.4 380.9" fill="none" stroke="#b5cc18" stroke-width="2.6" stroke-linejoin="round" stroke-linecap="round"/>
<path d="M295.7 341.1C295.5 342.1 294.9 345.2 294.5 347.2C294.1 349.2 293.4 352.3 293.2 353.3" fill="none" stroke="#b5cc18" stroke-width="2.4" stroke-linejoin="round" stroke-linecap="round"/>
<path d="M264.8 336.5 L265.8 350.7" fill="none" stroke="#b5cc18" stroke-width="2.8" stroke-linejoin="round" stroke-linecap="round"/>
<path d="M258.7 350.7 L261.8 363" fill="none" stroke="#b5cc18" stroke-width="2.8" stroke-linejoin="round" stroke-linecap="round"/>
<path d="M124.1 429.4C124.8 428.7 127.1 428 128.3 428.3C129.5 428.6 131.2 430.1 131.5 431.1C131.8 432.1 131.2 433.7 130.4 434.3C129.6 434.9 127.6 435.3 126.6 435C125.5 434.7 124.5 433.4 124.1 432.5C123.7 431.6 123.4 430.1 124.1 429.4Z" fill="#b5cc18" stroke="#b5cc18" stroke-width="1.4" stroke-linejoin="round" stroke-linecap="round"/>
<path d="M138.5 430.8C139.3 430 141.6 429.4 142.8 429.7C144 430 145.5 431.4 145.8 432.5C146.1 433.6 145.7 435.6 144.8 436.4C143.9 437.2 141.3 437.5 140.2 437.1C139.1 436.8 138.4 435.4 138.1 434.3C137.8 433.2 137.7 431.6 138.5 430.8Z" fill="#b5cc18" stroke="#b5cc18" stroke-width="1.4" stroke-linejoin="round" stroke-linecap="round"/>
<path d="M177.8 437.4C178.5 436.4 181.2 436 182.2 436.7C183.2 437.4 183.8 440 183.6 441.3C183.4 442.6 182.3 444.2 181.3 444.4C180.3 444.6 178.4 443.9 177.8 442.7C177.2 441.5 177.1 438.4 177.8 437.4Z" fill="#b5cc18"/>
<path d="M191 443.9C191.7 442.8 194 442.2 195.3 442.7C196.6 443.2 198.2 445.3 198.7 446.9C199.1 448.5 198.8 451.1 198 452.1C197.2 453.2 194.8 453.7 193.6 453.2C192.4 452.7 191.4 450.7 191 449.1C190.6 447.6 190.3 445 191 443.9Z" fill="#b5cc18" stroke="#b5cc18" stroke-width="1.4" stroke-linejoin="round" stroke-linecap="round"/>
<path d="M328.5 203.4C329.5 201.5 333.1 200.5 334.2 201.3C335.3 202.1 336.6 206.7 336.8 209.1C337 211.5 336.2 216.3 335.8 219.3C335.4 222.3 334.8 228.9 333.8 231.5C332.8 234.1 329.6 238.6 328.1 238.8C326.6 239 323.9 234.3 322.4 233.1C320.9 231.9 316.9 230.7 316.9 229.5C316.9 228.3 321.1 225.7 322.4 223.8C323.7 221.9 325.7 217.9 326.5 215.2C327.3 212.5 327.5 205.3 328.5 203.4Z" fill="#f5e50e"/>
<path d="M334.2 255.1C332.6 256.2 327.4 259 324.4 261.6C321.4 264.2 318.7 267.5 316.3 270.6C313.9 273.7 311.9 277.1 310.2 280.3C308.5 283.5 307.3 286.7 306.1 289.9C304.9 293.1 303.4 297.9 302.8 299.5" fill="none" stroke="#f5e50e" stroke-width="7.6" stroke-linejoin="round" stroke-linecap="round"/>
<path d="M250.9 264 L250.3 273.9" fill="none" stroke="#f5e50e" stroke-width="1.6" stroke-linejoin="round" stroke-linecap="round"/>
<path d="M195.4 326.3 L197.6 323.3" fill="none" stroke="#f5e50e" stroke-width="0.8" stroke-linejoin="round" stroke-linecap="round"/>
<path d="M219.9 317.5C219.5 318.8 217.9 322.2 217.6 325.1C217.3 328 218.2 333 218.3 334.6" fill="none" stroke="#f5e50e" stroke-width="2.2" stroke-linejoin="round" stroke-linecap="round"/>
<path d="M210 343.4C210.4 342 212.4 340.8 213.8 341.1C215.2 341.4 217.3 343.3 218.3 345C219.3 346.7 220.3 349.8 219.9 351.1C219.5 352.4 217.5 352.9 216.1 352.6C214.7 352.3 212.5 351 211.5 349.5C210.5 348 209.6 344.8 210 343.4Z" fill="#f5e50e"/>
<path d="M244.3 308.3C244.1 309.3 242.6 311.8 242.8 314.4C243.1 316.9 244.5 320.8 245.8 323.6C247.1 326.5 249.6 330.2 250.4 331.5" fill="none" stroke="#f5e50e" stroke-width="2" stroke-linejoin="round" stroke-linecap="round"/>
<path d="M266 334.3C265.5 335.6 263.9 339.6 262.9 341.9C261.9 344.2 260.4 347 259.9 348" fill="none" stroke="#f5e50e" stroke-width="1.8" stroke-linejoin="round" stroke-linecap="round"/>
<path d="M255.3 349.5 L258 357.2" fill="none" stroke="#f5e50e" stroke-width="1.6" stroke-linejoin="round" stroke-linecap="round"/>
<path d="M230.6 348C231.9 349.3 235.9 353 238.2 355.6C240.5 358.2 243.3 362.3 244.3 363.6" fill="none" stroke="#f5e50e" stroke-width="2" stroke-linejoin="round" stroke-linecap="round"/>
<path d="M222.2 360.5 L229 365.6" fill="none" stroke="#f5e50e" stroke-width="2" stroke-linejoin="round" stroke-linecap="round"/>
<path d="M241.5 309.2C242.2 311.5 244.2 319.4 245.5 322.8C246.8 326.2 248.8 328.7 249.5 329.9" fill="none" stroke="#f5e50e" stroke-width="1.6" stroke-linejoin="round" stroke-linecap="round"/>
<path d="M263.4 337.1 L266.9 350.6" fill="none" stroke="#f5e50e" stroke-width="2" stroke-linejoin="round" stroke-linecap="round"/>
<path d="M219.8 360.2C220.2 361.2 220.5 365 221.9 366.3C223.3 367.6 226.7 368.8 228 367.9C229.3 367 229.7 362.3 230 361.2" fill="none" stroke="#f5e50e" stroke-width="1.4" stroke-linejoin="round" stroke-linecap="round"/>
<path d="M233.5 350C234.4 351.7 237.6 357.1 239.2 360.2C240.8 363.2 242.6 366.9 243.3 368.3" fill="none" stroke="#f5e50e" stroke-width="1.6" stroke-linejoin="round" stroke-linecap="round"/>
<path d="M247.3 354.1 L253.5 366.3" fill="none" stroke="#f5e50e" stroke-width="1.6" stroke-linejoin="round" stroke-linecap="round"/>
<path d="M257.5 350 L261.6 358.1" fill="none" stroke="#f5e50e" stroke-width="1.5" stroke-linejoin="round" stroke-linecap="round"/>
<path d="M239.6 374 L249.4 376.5" fill="none" stroke="#f5e50e" stroke-width="1.3" stroke-linejoin="round" stroke-linecap="round"/>
<path d="M239.2 383.6 L241.2 389.7" fill="none" stroke="#f5e50e" stroke-width="1.6" stroke-linejoin="round" stroke-linecap="round"/>
<path d="M303 283.8C304.6 283.2 310.2 282.6 311.3 283.8C312.4 285 310 288.9 309.4 291.1C308.8 293.3 308.4 295.6 307.9 297.2C307.4 298.8 307 300.4 306.2 300.9C305.4 301.4 304 301.2 303.3 300.4C302.6 299.6 302.4 297.6 302 296C301.6 294.4 300.8 292.5 300.8 291.1C300.8 289.7 301.4 288.6 301.8 287.4C302.2 286.2 301.4 284.4 303 283.8Z" fill="#f5e50e" stroke="#f5e50e" stroke-width="4.8" stroke-linejoin="round" stroke-linecap="round"/>
<path d="M296.9 299.7C298 299.3 301.2 299.7 301.8 300.9C302.4 302.1 301.2 305 300.6 307C300 309 299.1 311.4 298.1 313.1C297.1 314.8 295.5 316.8 294.5 317C293.5 317.2 292.2 315.8 292 314.3C291.8 312.8 292.7 310 293.2 308.2C293.7 306.4 294.5 304.7 295.1 303.3C295.7 301.9 295.8 300.1 296.9 299.7Z" fill="#f5e50e"/>
<path d="M314 298.4C314.9 297.1 317.9 295.6 319.5 295C321.1 294.4 325 293.5 326.2 293.8C327.4 294.1 328.2 296.1 328.7 297.2C329.2 298.3 329.2 301 329.9 302.1C330.6 303.2 332.9 304.7 333.6 305.8C334.3 306.9 335.4 309.3 335.4 310.6C335.4 311.9 334.2 314.4 333.6 315.5C333 316.6 330.9 318.2 331.1 319.2C331.3 320.2 333.8 321.8 334.8 322.9C335.8 324 337.6 326.4 338.4 327.7C339.2 329 340.8 331.3 340.9 332.6C341 333.9 339.3 336.2 339.1 337.5C338.9 338.8 339.8 341.3 339.7 342.4C339.6 343.5 342.8 345.6 338.4 346.1C334 346.6 310.7 347.1 306.7 346.1C302.7 345.1 308.4 340.3 308.5 338.7C308.6 337.1 307.7 334.9 307.3 333.9C306.9 332.9 305.6 332.4 305.5 331.4C305.4 330.4 306.4 327.8 306.7 326.5C307 325.2 307.4 322.7 307.9 321.6C308.4 320.5 309.4 319 310.1 318.2C310.8 317.4 313.2 316.8 313.5 315.8C313.8 314.8 312.7 311.9 312.3 310.9C311.9 309.9 310.3 309.3 310.3 308.5C310.3 307.7 312 306.1 312.5 304.8C313 303.5 313.1 299.7 314 298.4Z" fill="#f5e50e" stroke="#f5e50e" stroke-width="2.6" stroke-linejoin="round" stroke-linecap="round"/>
<path d="M300.3 331.2C300.8 329.9 302.3 329.2 303 329.7C303.7 330.1 304.7 332.4 304.7 333.9C304.7 335.4 303.7 337.9 303 338.5C302.3 339.1 300.8 338.5 300.3 337.3C299.9 336.1 299.9 332.5 300.3 331.2Z" fill="#f5e50e" stroke="#f5e50e" stroke-width="1.6" stroke-linejoin="round" stroke-linecap="round"/>
<path d="M309.1 347.2C310.1 346.5 313.6 346 315.2 346C316.8 346 319.7 347 321.3 347.2C322.9 347.4 326.1 346.7 327.4 347.2C328.7 347.7 330 349.8 331.1 350.9C332.2 352 335.1 354.5 336 355.8C336.9 357.1 337.8 359.3 337.8 360.6C337.8 361.9 336.6 364.2 336 365.5C335.4 366.8 334.4 369.6 333.6 370.4C332.8 371.2 330.9 371.6 329.9 371.6C328.9 371.6 326.5 371.2 326.2 370.4C325.9 369.6 327.4 367 327.4 365.5C327.4 364 326.7 360.9 326.2 359.4C325.7 357.9 324.6 355 323.8 354.5C323 354 320.8 355.1 320.1 355.8C319.4 356.5 318.7 358.4 318.9 359.4C319.1 360.4 321.1 362.1 321.3 363.1C321.5 364.1 320.7 366.6 320.1 366.8C319.5 367 317.5 365.1 316.5 364.3C315.5 363.5 313.6 361.7 312.8 360.6C312 359.5 311 357.1 310.3 355.8C309.6 354.5 308.1 352 307.9 350.9C307.7 349.8 308.1 347.9 309.1 347.2Z" fill="#f5e50e"/>
<path d="M321.3 372.9C321.9 371.9 324.6 371.4 326.2 371.6C327.8 371.8 329.7 373.1 331.1 374.1C332.5 375.1 333.6 376.5 334.8 377.7C336 378.9 338.2 380.4 338.4 381.4C338.6 382.4 337.2 383.7 336 383.9C334.8 384.1 332.7 383 331.1 382.6C329.5 382.2 327.6 382.2 326.2 381.4C324.8 380.6 323.4 379.1 322.6 377.7C321.8 376.3 320.7 373.9 321.3 372.9Z" fill="#f5e50e"/>
<path d="M342.1 382C343.1 382.2 346.4 383.1 348.2 383.2C350 383.3 351.6 383 353.1 382.6C354.6 382.2 356.7 381.2 357.4 380.9" fill="none" stroke="#f5e50e" stroke-width="1.4" stroke-linejoin="round" stroke-linecap="round"/>
<path d="M295.7 341.1C295.5 342.1 294.9 345.2 294.5 347.2C294.1 349.2 293.4 352.3 293.2 353.3" fill="none" stroke="#f5e50e" stroke-width="1.2" stroke-linejoin="round" stroke-linecap="round"/>
<path d="M264.8 336.5 L265.8 350.7" fill="none" stroke="#f5e50e" stroke-width="1.4" stroke-linejoin="round" stroke-linecap="round"/>
<path d="M258.7 350.7 L261.8 363" fill="none" stroke="#f5e50e" stroke-width="1.4" stroke-linejoin="round" stroke-linecap="round"/>
<path d="M124.1 429.4C124.8 428.7 127.1 428 128.3 428.3C129.5 428.6 131.2 430.1 131.5 431.1C131.8 432.1 131.2 433.7 130.4 434.3C129.6 434.9 127.6 435.3 126.6 435C125.5 434.7 124.5 433.4 124.1 432.5C123.7 431.6 123.4 430.1 124.1 429.4Z" fill="#f5e50e"/>
<path d="M138.5 430.8C139.3 430 141.6 429.4 142.8 429.7C144 430 145.5 431.4 145.8 432.5C146.1 433.6 145.7 435.6 144.8 436.4C143.9 437.2 141.3 437.5 140.2 437.1C139.1 436.8 138.4 435.4 138.1 434.3C137.8 433.2 137.7 431.6 138.5 430.8Z" fill="#f5e50e"/>
<path d="M149.3 441.3 L154.2 442.3" fill="none" stroke="#f5e50e" stroke-width="2.4" stroke-linejoin="round" stroke-linecap="round"/>
<path d="M191 443.9C191.7 442.8 194 442.2 195.3 442.7C196.6 443.2 198.2 445.3 198.7 446.9C199.1 448.5 198.8 451.1 198 452.1C197.2 453.2 194.8 453.7 193.6 453.2C192.4 452.7 191.4 450.7 191 449.1C190.6 447.6 190.3 445 191 443.9Z" fill="#f5e50e"/>
<path d="M193.6 454.6 L199.7 455.3" fill="none" stroke="#f5e50e" stroke-width="2.2" stroke-linejoin="round" stroke-linecap="round"/>
<path d="M331.1 205C331.8 203.8 334.3 203.3 335.2 204C336.1 204.7 336.8 207.5 336.6 209.1C336.4 210.7 335.1 213.3 334.2 213.6C333.3 213.9 331.6 212.5 331.1 211.1C330.6 209.7 330.4 206.2 331.1 205Z" fill="#f29412"/>
<path d="M325.2 222.5C326.7 221.2 331 219.7 332.6 220.5C334.2 221.3 334.8 224.8 334.6 227.4C334.4 230.1 332.9 234.2 331.6 236.4C330.4 238.6 328.4 240.6 327.1 240.5C325.8 240.4 324.2 238 323.6 236C323 234 323.3 230.7 323.6 228.4C323.9 226.2 323.7 223.8 325.2 222.5Z" fill="#f29412"/>
<path d="M333.4 257.5C332.1 258.4 327.9 261.1 325.6 263.2C323.3 265.3 321.5 267.6 319.5 270.2C317.5 272.8 315.4 275.8 313.8 278.7C312.2 281.6 310.9 284.4 309.7 287.3C308.5 290.2 307.4 294.7 306.9 296.2" fill="none" stroke="#f29412" stroke-width="3.4" stroke-linejoin="round" stroke-linecap="round"/>
<path d="M218.7 328.2 L219 332" fill="none" stroke="#f29412" stroke-width="1.6" stroke-linejoin="round" stroke-linecap="round"/>
<path d="M212.2 345.3C212.4 344.5 214.5 344.4 215.3 345C216.1 345.6 217.1 348 216.8 348.8C216.6 349.6 214.6 350.4 213.8 349.8C213 349.2 211.9 346.1 212.2 345.3Z" fill="#f29412"/>
<path d="M303 283.8C304.6 283.2 310.2 282.6 311.3 283.8C312.4 285 310 288.9 309.4 291.1C308.8 293.3 308.4 295.6 307.9 297.2C307.4 298.8 307 300.4 306.2 300.9C305.4 301.4 304 301.2 303.3 300.4C302.6 299.6 302.4 297.6 302 296C301.6 294.4 300.8 292.5 300.8 291.1C300.8 289.7 301.4 288.6 301.8 287.4C302.2 286.2 301.4 284.4 303 283.8Z" fill="#f29412" stroke="#f29412" stroke-width="1.8" stroke-linejoin="round" stroke-linecap="round"/>
<path d="M314 298.4C314.9 297.1 317.9 295.6 319.5 295C321.1 294.4 325 293.5 326.2 293.8C327.4 294.1 328.2 296.1 328.7 297.2C329.2 298.3 329.2 301 329.9 302.1C330.6 303.2 332.9 304.7 333.6 305.8C334.3 306.9 335.4 309.3 335.4 310.6C335.4 311.9 334.2 314.4 333.6 315.5C333 316.6 330.9 318.2 331.1 319.2C331.3 320.2 333.8 321.8 334.8 322.9C335.8 324 337.6 326.4 338.4 327.7C339.2 329 340.8 331.3 340.9 332.6C341 333.9 339.3 336.2 339.1 337.5C338.9 338.8 339.8 341.3 339.7 342.4C339.6 343.5 342.8 345.6 338.4 346.1C334 346.6 310.7 347.1 306.7 346.1C302.7 345.1 308.4 340.3 308.5 338.7C308.6 337.1 307.7 334.9 307.3 333.9C306.9 332.9 305.6 332.4 305.5 331.4C305.4 330.4 306.4 327.8 306.7 326.5C307 325.2 307.4 322.7 307.9 321.6C308.4 320.5 309.4 319 310.1 318.2C310.8 317.4 313.2 316.8 313.5 315.8C313.8 314.8 312.7 311.9 312.3 310.9C311.9 309.9 310.3 309.3 310.3 308.5C310.3 307.7 312 306.1 312.5 304.8C313 303.5 313.1 299.7 314 298.4Z" fill="#f29412" stroke="#f29412" stroke-width="1.2" stroke-linejoin="round" stroke-linecap="round"/>
<path d="M300.3 331.2C300.8 329.9 302.3 329.2 303 329.7C303.7 330.1 304.7 332.4 304.7 333.9C304.7 335.4 303.7 337.9 303 338.5C302.3 339.1 300.8 338.5 300.3 337.3C299.9 336.1 299.9 332.5 300.3 331.2Z" fill="#f29412"/>
<path d="M307.9 333.8C313.2 332.8 333.2 333 338.4 333.8C343.6 334.6 339.9 337.3 339.1 338.7C338.3 340.1 335.3 341.1 333.6 342.3C331.9 343.5 330.3 345.6 328.7 346C327.1 346.4 325.4 345.2 323.8 344.8C322.2 344.4 320.5 343.5 318.9 343.5C317.3 343.5 315.6 344.8 314 344.8C312.4 344.8 310.3 344.3 309.1 343.5C307.9 342.7 306.9 341.5 306.7 339.9C306.5 338.3 302.6 334.8 307.9 333.8Z" fill="#f29412" stroke="#f29412" stroke-width="1.6" stroke-linejoin="round" stroke-linecap="round"/>
<path d="M312.2 349.7C312.9 348.8 315.2 348.1 316.5 348.2C317.8 348.3 319.6 349.4 320.1 350.3C320.6 351.2 320.3 353.1 319.5 353.9C318.7 354.7 316.4 355.3 315.2 355.2C314 355.1 312.7 354.2 312.2 353.3C311.7 352.4 311.5 350.6 312.2 349.7Z" fill="#f29412" stroke="#f29412" stroke-width="1.6" stroke-linejoin="round" stroke-linecap="round"/>
<path d="M331.1 353.3C331.7 354.3 334.4 357.4 334.8 359.4C335.2 361.4 333.8 364.5 333.6 365.5" fill="none" stroke="#f29412" stroke-width="1.6" stroke-linejoin="round" stroke-linecap="round"/>
<path d="M349.4 383.1C350.1 383 352.3 382.8 353.7 382.4C355.1 382 356.9 381 357.5 380.7" fill="none" stroke="#f29412" stroke-width="0.9" stroke-linejoin="round" stroke-linecap="round"/>
<circle cx="142.3" cy="432.9" r="1.2" fill="#f29412"/>
<path d="M149.3 441.3 L154.2 442.3" fill="none" stroke="#f29412" stroke-width="1.2" stroke-linejoin="round" stroke-linecap="round"/>
<path d="M193.6 454.6 L199.7 455.3" fill="none" stroke="#f29412" stroke-width="1" stroke-linejoin="round" stroke-linecap="round"/>
<circle cx="333.4" cy="207.5" r="1.1" fill="#e01a18"/>
<circle cx="336.2" cy="212.3" r="0.9" fill="#e01a18"/>
<path d="M326.9 224.6C327.8 223.7 330.4 222.4 331.3 222.9C332.2 223.4 332.8 225.9 332.6 227.8C332.4 229.7 331 232.8 330.1 234.4C329.2 236 328.1 237.3 327.3 237.2C326.6 237 325.9 234.9 325.6 233.5C325.3 232.1 325.4 230.1 325.6 228.6C325.8 227.1 325.9 225.5 326.9 224.6Z" fill="#e01a18"/>
<path d="M313.4 282C312.9 283.1 311.6 286.5 310.6 288.9C309.7 291.3 308.6 294.2 307.7 296.2C306.8 298.2 305.7 299.9 305.3 300.7" fill="none" stroke="#e01a18" stroke-width="2.6" stroke-linejoin="round" stroke-linecap="round"/>
<circle cx="219.1" cy="330.9" r="0.9" fill="#e01a18"/>
<circle cx="214.1" cy="347.4" r="0.9" fill="#e01a18"/>
<path d="M245.5 323.6 L247.7 327.9" fill="none" stroke="#e01a18" stroke-width="1" stroke-linejoin="round" stroke-linecap="round"/>
<path d="M244.7 319.9 L246.7 325.4" fill="none" stroke="#e01a18" stroke-width="0.9" stroke-linejoin="round" stroke-linecap="round"/>
<circle cx="240.2" cy="386.7" r="0.9" fill="#e01a18"/>
<path d="M303 283.8C304.6 283.2 310.2 282.6 311.3 283.8C312.4 285 310 288.9 309.4 291.1C308.8 293.3 308.4 295.6 307.9 297.2C307.4 298.8 307 300.4 306.2 300.9C305.4 301.4 304 301.2 303.3 300.4C302.6 299.6 302.4 297.6 302 296C301.6 294.4 300.8 292.5 300.8 291.1C300.8 289.7 301.4 288.6 301.8 287.4C302.2 286.2 301.4 284.4 303 283.8Z" fill="#e01a18"/>
<path d="M314 298.4C314.9 297.1 317.9 295.6 319.5 295C321.1 294.4 325 293.5 326.2 293.8C327.4 294.1 328.2 296.1 328.7 297.2C329.2 298.3 329.2 301 329.9 302.1C330.6 303.2 332.9 304.7 333.6 305.8C334.3 306.9 335.4 309.3 335.4 310.6C335.4 311.9 334.2 314.4 333.6 315.5C333 316.6 330.9 318.2 331.1 319.2C331.3 320.2 333.8 321.8 334.8 322.9C335.8 324 337.6 326.4 338.4 327.7C339.2 329 340.8 331.3 340.9 332.6C341 333.9 339.3 336.2 339.1 337.5C338.9 338.8 339.8 341.3 339.7 342.4C339.6 343.5 342.8 345.6 338.4 346.1C334 346.6 310.7 347.1 306.7 346.1C302.7 345.1 308.4 340.3 308.5 338.7C308.6 337.1 307.7 334.9 307.3 333.9C306.9 332.9 305.6 332.4 305.5 331.4C305.4 330.4 306.4 327.8 306.7 326.5C307 325.2 307.4 322.7 307.9 321.6C308.4 320.5 309.4 319 310.1 318.2C310.8 317.4 313.2 316.8 313.5 315.8C313.8 314.8 312.7 311.9 312.3 310.9C311.9 309.9 310.3 309.3 310.3 308.5C310.3 307.7 312 306.1 312.5 304.8C313 303.5 313.1 299.7 314 298.4Z" fill="#e01a18"/>
<path d="M307.9 333.8C313.2 332.8 333.2 333 338.4 333.8C343.6 334.6 339.9 337.3 339.1 338.7C338.3 340.1 335.3 341.1 333.6 342.3C331.9 343.5 330.3 345.6 328.7 346C327.1 346.4 325.4 345.2 323.8 344.8C322.2 344.4 320.5 343.5 318.9 343.5C317.3 343.5 315.6 344.8 314 344.8C312.4 344.8 310.3 344.3 309.1 343.5C307.9 342.7 306.9 341.5 306.7 339.9C306.5 338.3 302.6 334.8 307.9 333.8Z" fill="#e01a18"/>
<path d="M312.2 349.7C312.9 348.8 315.2 348.1 316.5 348.2C317.8 348.3 319.6 349.4 320.1 350.3C320.6 351.2 320.3 353.1 319.5 353.9C318.7 354.7 316.4 355.3 315.2 355.2C314 355.1 312.7 354.2 312.2 353.3C311.7 352.4 311.5 350.6 312.2 349.7Z" fill="#e01a18"/>
<circle cx="330.9" cy="364.6" r="0.8" fill="#e01a18"/>
<circle cx="357.5" cy="380.4" r="1" fill="#e01a18"/>
<circle cx="142.3" cy="432.7" r="0.6" fill="#e01a18"/>
<path d="M333.6 316.8C334.3 317 336.3 320.4 336.5 321.6C336.7 322.8 335.5 324 334.8 323.8C334.1 323.6 332.3 321.6 332.1 320.4C331.9 319.2 332.9 316.6 333.6 316.8Z" fill="#f29412"/>
<path d="M313.5 298.7C314.1 297.6 316.8 296.5 317.7 296.7C318.6 296.9 319.3 298.6 319.1 299.7C318.9 300.8 317.6 302.7 316.7 303.3C315.8 303.9 314.3 304.1 313.8 303.3C313.3 302.5 312.9 299.8 313.5 298.7Z" fill="#f29412"/>
<path d="M321.3 315.5C322 314.9 325.1 315.6 326.2 316.3C327.3 317 327.9 319 327.7 319.9C327.5 320.8 326 321.6 325 321.6C324 321.6 322.4 320.9 321.8 319.9C321.2 318.9 320.6 316.1 321.3 315.5Z" fill="#f5e50e"/>
<path d="M306.7 320.4C307.6 318.9 310.8 317.5 312.2 317.7C313.6 317.9 314.9 319.9 315.2 321.6C315.5 323.3 314.9 326.2 314 327.7C313.1 329.2 310.9 330.6 309.7 330.4C308.5 330.2 307.4 328.2 306.9 326.5C306.4 324.8 305.8 321.9 306.7 320.4Z" fill="#f29412"/>
<path d="M320.1 300.3C321 299.3 323.8 297.5 325 297.8C326.2 298.1 326.3 300.6 327.2 302.1C328.1 303.6 329.5 305.5 330.1 307C330.8 308.5 331.3 309.8 331.1 310.9C330.9 312 329.8 313.2 328.9 313.8C328 314.4 327.1 314.5 326 314.3C324.9 314.1 323.5 313.4 322.6 312.4C321.7 311.4 320.9 309.6 320.4 308.2C319.9 306.8 319.4 305.2 319.4 303.9C319.3 302.6 319.2 301.3 320.1 300.3Z" fill="#ba1318"/>
<path d="M325 322.9C325.7 322.2 327.6 321.8 328.9 322.4C330.2 323 331.6 324.9 332.6 326.5C333.6 328.1 334.8 330.2 335 331.7C335.2 333.2 334.5 335 333.8 335.3C333.1 335.6 332 334.2 330.9 333.4C329.8 332.6 328.4 331.5 327.4 330.4C326.4 329.3 325.2 328.1 324.8 326.8C324.4 325.6 324.3 323.6 325 322.9Z" fill="#ba1318"/>
<path d="M316.7 319.2C316.9 320 317.1 322.2 317.7 324.1C318.3 326 319.7 329.3 320.1 330.4" fill="none" stroke="#72b324" stroke-width="0.8" stroke-linejoin="round" stroke-linecap="round"/>
<path d="M315.8 333.2C316.4 334.2 317.8 338 319.5 339.5C321.2 341 325.1 341.8 326.2 342.2" fill="none" stroke="#f5e50e" stroke-width="0.8" stroke-linejoin="round" stroke-linecap="round"/>
<path d="M303 303.3C302.8 304.3 301.8 307.1 301.8 309.4C301.8 311.6 302.4 314.8 303 316.8C303.6 318.8 305 320 305.5 321.6C306 323.2 306.1 325.7 306.2 326.5" fill="none" stroke="#2458a6" stroke-width="2.4" stroke-linejoin="round" stroke-linecap="round"/>
<path d="M313.5 296.7C313.8 297.4 315.2 299.6 315 300.9C314.8 302.2 313.4 303.6 312.5 304.5C311.6 305.4 310.1 306.2 309.6 306.5" fill="none" stroke="#2458a6" stroke-width="1.6" stroke-linejoin="round" stroke-linecap="round"/>
<path d="M321.3 307C321.9 307.8 324.1 310.6 325 311.9C325.9 313.2 326.2 314.2 326.5 314.6" fill="none" stroke="#f5e50e" stroke-width="1" stroke-linejoin="round" stroke-linecap="round"/>
<path d="M317.9 319.8C318.1 320.5 318.3 322.4 318.9 324.1C319.5 325.8 320.3 328.7 321.3 329.9C322.3 331.1 323.6 332.1 325 331.4C326.4 330.7 328.8 326.7 329.6 325.8" fill="none" stroke="#2458a6" stroke-width="1.3" stroke-linejoin="round" stroke-linecap="round"/>
<path d="M314.5 325.3C314.1 326.1 312.9 328.8 312.1 330.2C311.3 331.6 310.3 332.8 309.6 333.9C308.9 335 308.2 336.3 307.9 336.8" fill="none" stroke="#2458a6" stroke-width="1.6" stroke-linejoin="round" stroke-linecap="round"/>
<path d="M316.7 334.1C317.3 334.9 318.5 337.5 320.1 338.7C321.7 339.9 324.4 341.2 326.2 341.2C328 341.2 330.3 339.1 331.1 338.7" fill="none" stroke="#2458a6" stroke-width="1.2" stroke-linejoin="round" stroke-linecap="round"/>
<path d="M166 177.5C167.1 178.1 170.7 179.6 172.7 181C174.7 182.4 177.1 185.2 178 186" fill="none" stroke="#ffffff" stroke-width="1.2" stroke-linejoin="round" stroke-linecap="round"/>
<path d="M183 191C184 191.2 187 191.7 189 192.5C191 193.3 194 195.4 195 196" fill="none" stroke="#ffffff" stroke-width="1.4" stroke-linejoin="round" stroke-linecap="round"/>
<path d="M201 195C201.8 195.8 204.3 198.5 206 200C207.7 201.5 210.2 203.3 211 204" fill="none" stroke="#ffffff" stroke-width="1.6" stroke-linejoin="round" stroke-linecap="round"/>
<path d="M143.4 188.3C143.8 186.4 145.4 186.2 145.8 188C146.2 189.8 146.4 197.1 146.1 199C145.8 200.9 144.1 201.1 143.7 199.3C143.2 197.5 143.1 190.2 143.4 188.3Z" fill="#ffffff"/>
<path d="M141.6 202.8C142.2 202.3 144.8 202.3 145.4 202.8C146 203.3 146 205.4 145.4 205.9C144.8 206.4 142.2 206.4 141.6 205.9C141 205.4 141 203.3 141.6 202.8Z" fill="#ffffff"/>
<path d="M115.6 179.2C116.3 178.5 119.4 178.8 120.2 179.5C121 180.2 121.2 183 120.5 183.7C119.8 184.3 116.7 184.2 115.9 183.4C115.1 182.7 114.9 179.8 115.6 179.2Z" fill="#ffffff"/>
<path d="M163.2 184.5C163.4 183.9 164.3 183.9 164.5 184.5C164.7 185.1 164.8 187.7 164.6 188.3C164.4 188.9 163.6 188.9 163.4 188.3C163.2 187.7 163 185.1 163.2 184.5Z" fill="#ffffff"/>
<path d="M220 192.9C220.2 191.6 221.8 188.8 223.1 188.3C224.4 187.8 225.9 189.4 227.7 189.8C229.5 190.2 231.8 190.8 233.8 190.6C235.8 190.3 238.5 188.4 239.9 188.3C241.3 188.2 242.7 189 242.2 189.8C241.7 190.6 238.7 192 236.8 192.9C234.9 193.8 232.5 194.4 230.7 195.2C228.9 196 227.6 197.4 226.1 197.5C224.6 197.6 222.6 196.8 221.6 196C220.6 195.2 219.8 194.2 220 192.9Z" fill="#ffffff"/>
<path d="M236.1 178.4C236.6 177.4 238.5 177.8 239.9 177.6C241.3 177.3 243.9 176.1 244.5 176.9C245.1 177.7 244.5 180.8 243.7 182.2C242.9 183.6 241.1 185.1 239.9 185.3C238.8 185.6 237.4 184.8 236.8 183.7C236.2 182.5 235.6 179.4 236.1 178.4Z" fill="#ffffff"/>
<path d="M221.6 218.9C222 218.1 226.5 216.3 227.7 215.8C228.9 215.3 232.7 214 233.8 213.5C234.9 213 237.4 211.8 238.3 211.2C239.2 210.6 242 207.9 242.9 207.4C243.8 206.9 247 205.8 247.5 205.9C248 206.1 248.5 208.1 248.3 208.9C248.1 209.7 246 212.9 245.2 213.5C244.4 214.1 241 214.8 239.9 215C238.8 215.2 234.9 215.5 233.8 215.8C232.7 216.1 229.5 217.3 229.2 218.1C228.9 218.9 230.4 222.1 230.7 223.4C231 224.7 231.6 230 232.2 231.1C232.8 232.2 235.7 234.1 236.8 234.1C237.9 234.1 241.7 231.6 242.9 231.1C244.1 230.6 248.1 229.5 249 229.5C249.9 229.5 252.2 230.6 252.1 231.1C251.9 231.6 248.4 234.3 247.5 234.9C246.6 235.5 243.1 236.5 242.9 237.2C242.8 237.9 246.2 241.5 246 241.8C245.8 242.1 242.2 239.8 241.4 240.2C240.6 240.6 240.1 245.7 238.3 246.3C236.5 246.9 224.5 247.2 223.1 246.3C221.7 245.4 224.4 238.7 224.6 237.2C224.8 235.7 225.5 232.5 225.4 231.1C225.3 229.7 224.2 224.6 223.8 223.4C223.4 222.2 221.2 219.7 221.6 218.9Z" fill="#ffffff"/>
<path d="M252.4 221.1C252.7 220.6 253.8 220.9 254.2 221.6C254.5 222.2 254.8 224.5 254.5 225C254.2 225.5 253 225.3 252.7 224.7C252.3 224 252.2 221.6 252.4 221.1Z" fill="#ffffff"/>
<path d="M224.6 233.5C226.9 232.9 246.9 232.9 249 233.5C251.1 234.1 246.8 238.8 246 239.6C245.2 240.4 242 240.3 241.4 241.1C240.8 241.9 240.2 246.1 239.9 247.2C239.6 248.3 238.2 250.7 238.3 251.8C238.4 252.9 240.3 256.9 240.6 257.9C240.9 258.9 241.6 261.6 241.4 261.7C241.2 261.8 238.8 260.1 238.3 259.4C237.8 258.7 236.2 255.9 236.1 254.8C235.9 253.7 236.9 249.9 236.8 248.7C236.7 247.5 235.9 243.5 235.3 242.6C234.7 241.7 231.6 239.9 230.7 239.6C229.8 239.3 226.7 240.2 226.1 239.6C225.5 239 222.3 234.1 224.6 233.5Z" fill="#ffffff"/>
<path d="M216.2 275.5C216.7 275.4 217.7 279.2 218.5 279.3C219.3 279.4 223.5 277 224.6 277C225.7 277 228.3 279.5 229.2 279.6C230.1 279.7 232.7 278.2 233.8 278.1C234.9 278 238.8 277.8 239.9 278.1C241 278.4 243.8 280.2 244.5 281.1C245.2 282 246.7 285.8 246.7 286.9C246.7 288 245.2 291 244.5 291.8C243.8 292.6 240.5 294 239.9 294.8C239.3 295.6 238.3 298.3 238.3 299.4C238.3 300.5 240.1 304.3 239.9 305.5C239.8 306.7 237.6 310.7 236.8 311.3C236 311.9 232.8 312.1 232.2 311.3C231.6 310.5 230.8 304.9 230.7 303.7C230.6 302.5 231.8 300.1 231.5 299.1C231.2 298.2 228.5 294.5 227.7 294.2C226.9 293.9 223.8 295.9 223.1 295.8C222.4 295.7 220.4 293.4 220.3 292.7C220.2 292 222 289.2 221.9 288.4C221.8 287.6 220.3 284.9 219.7 284.6C219 284.3 216 285.8 215.4 285.4C214.8 285 213.8 281.8 213.9 280.8C214 279.8 215.7 275.6 216.2 275.5Z" fill="#ffffff"/>
<path d="M255.9 272.4C256.7 271.3 258.9 270.6 259.7 270.9C260.5 271.1 261.1 272.5 260.9 273.9C260.6 275.3 258.9 277.4 258.2 279.3C257.4 281.2 256.9 283.6 256.4 285.4C255.9 287.2 255.8 289.6 255.1 290.3C254.4 291 252.3 290.8 252.1 289.7C251.8 288.6 253.1 285.9 253.6 283.9C254.1 281.9 254.7 279.6 255.1 277.7C255.5 275.8 255.1 273.5 255.9 272.4Z" fill="#ffffff"/>
<path d="M275 267.8C276.1 266.7 277.6 266.7 278.3 267.8C279 268.9 279.1 272.5 279 274.7C278.9 276.9 278.7 278.9 278 280.8C277.3 282.7 276.3 284.8 275 286.1C273.7 287.4 271.2 289.3 270.4 288.7C269.6 288.1 270.1 284.6 270.4 282.3C270.6 280 271.1 277.1 271.9 274.7C272.7 272.3 273.9 268.9 275 267.8Z" fill="#ffffff"/>
<path d="M274.2 294.8C275.2 293.3 276.9 293.5 277.3 294.5C277.7 295.5 277 298.6 276.5 300.6C276 302.7 274.8 305 274.2 306.8C273.6 308.6 273.6 310.6 272.7 311.3C271.8 312.1 269.1 312.6 268.9 311.3C268.6 310 270.3 306.4 271.2 303.7C272.1 300.9 273.2 296.3 274.2 294.8Z" fill="#ffffff"/>
<path d="M229 312.9C229.2 313.5 233 310.9 233.6 311.4C234.2 311.9 235.2 316.4 235.1 317.5C234.9 318.6 232.5 321 232.1 322.1C231.7 323.2 230.4 327 230.6 328.2C230.8 329.4 232.8 333.1 233.6 334.3C234.4 335.5 237.6 339.2 238.2 340.4C238.8 341.6 240 346 239.7 346.5C239.4 347 236 345.6 235.1 345C234.2 344.4 231.3 341.5 230.6 340.4C229.9 339.3 228.6 335.7 228.3 334.3C228 332.9 227.5 328.1 227.5 326.6C227.5 325.1 228.3 320.8 228.3 319C228.3 317.2 227.7 309.7 227.5 308.3C227.3 306.9 226 306.2 226 305.3C226 304.4 227.2 300.4 227.5 299.2C227.8 298 228.5 293.4 229 293.1C229.5 292.8 231.9 294.9 232.1 296.1C232.3 297.3 231.6 303.6 231.3 305.3C231 307 228.8 312.3 229 312.9Z" fill="#ffffff"/>
<path d="M251.9 320.5C252.9 319.1 255.1 317.5 256.5 317.5C257.9 317.5 259.5 318.7 260.3 320.5C261.1 322.3 261.5 326.2 261.1 328.2C260.7 330.2 259.4 332.2 258 332.7C256.6 333.2 253.9 332.3 252.7 331.2C251.5 330.1 250.8 327.7 250.7 325.9C250.6 324.1 250.9 321.9 251.9 320.5Z" fill="#ffffff"/>
<path d="M243.1 333.1C243.4 332.5 245.1 332.7 245.5 333.4C245.9 334.1 246.2 336.7 245.8 337.3C245.5 337.9 243.9 337.7 243.4 337C242.9 336.3 242.8 333.7 243.1 333.1Z" fill="#ffffff"/>
<path d="M203.1 298.9C203.3 300.2 205.1 302.4 206.4 303.4C207.7 304.4 209.5 305.2 210.7 305C211.9 304.8 213.2 303.4 213.5 302.2C213.8 301 213.2 299.2 212.5 297.9C211.8 296.6 210.4 295 209.2 294.6C208 294.2 206.4 294.6 205.4 295.3C204.4 296 202.9 297.5 203.1 298.9Z" fill="#ffffff"/>
<path d="M189.6 338.5C190.2 338.2 192.4 338.4 193.6 339.2C194.8 340 196.8 342.6 196.7 343.1C196.5 343.6 193.8 342.5 192.7 342.2C191.6 341.9 190.6 341.7 190.1 341.1C189.6 340.5 189 338.8 189.6 338.5Z" fill="#ffffff"/>
<path d="M232.7 288.6C233.4 286 235.6 291.4 237 291.4C238.4 291.4 240.1 288.1 241.3 288.6C242.5 289.1 244.1 292.4 244.1 294.3C244.1 296.2 242.2 298.1 241.3 300C240.4 301.9 239.4 304.3 238.4 305.7C237.4 307.1 236.6 308.3 235.6 308.5C234.6 308.7 233.2 310.4 232.7 307.1C232.2 303.8 232 291.2 232.7 288.6Z" fill="#ffffff"/>
<path d="M253 280C253.5 278.6 256 278.6 256.7 280C257.4 281.4 257.5 287.2 257 288.6C256.5 290 254.2 289.7 253.5 288.3C252.8 286.9 252.5 281.4 253 280Z" fill="#ffffff"/>
<path d="M140.8 190.2C141.4 188.6 143.8 188.9 144.5 190.6C145.2 192.3 145.5 198.8 144.9 200.4C144.3 202 141.9 201.6 141.2 199.9C140.5 198.2 140.2 191.8 140.8 190.2Z" fill="#ffffff"/>
<path d="M163.2 184.1C163.5 183.1 164.9 183.1 165.3 184.1C165.7 185.1 166 189.2 165.7 190.2C165.4 191.2 164 191.2 163.6 190.2C163.2 189.2 162.9 185.1 163.2 184.1Z" fill="#ffffff"/>
<path d="M234.5 179C235.8 178.2 241.2 178.2 242.6 179C244 179.8 244.3 183.2 243 184.1C241.7 184.9 236.3 184.9 234.9 184.1C233.5 183.2 233.2 179.8 234.5 179Z" fill="#ffffff"/>
<path d="M157.1 175.3C159.1 174.9 167.2 175.1 169.3 175.7C171.4 176.2 171.7 178.2 169.7 178.6C167.7 179 159.6 178.8 157.5 178.2C155.4 177.6 155.1 175.7 157.1 175.3Z" fill="#ffffff"/>
<path d="M236.5 178.2C237.7 177 242.9 176.7 244.3 177.8C245.7 178.9 245.9 183.5 244.7 184.7C243.5 185.9 238.7 186.2 237.3 185.1C235.9 184 235.3 179.4 236.5 178.2Z" fill="#ffffff"/>
<path d="M222.3 189.6C224.7 188.4 235.2 187.6 238.6 187.9C242 188.2 243.3 190.4 242.6 191.6C241.9 192.8 237.6 194.8 234.5 195.3C231.4 195.9 226.3 195.9 224.3 194.9C222.3 193.9 219.9 190.8 222.3 189.6Z" fill="#ffffff"/>
<path d="M309 292C308.6 292.8 311.5 296.2 311.5 298C311.5 299.8 308.7 302.7 309 303C309.3 303.3 312.2 301.2 313.5 300C314.8 298.8 316.4 297.2 316.5 296C316.6 294.8 315.2 293.7 314 293C312.8 292.3 309.4 291.2 309 292Z" fill="#ffffff"/>
<path d="M298.1 341.1C299 339.9 302 339.3 303 339.9C304 340.5 304.4 343 304.2 344.8C304 346.6 302.4 348.7 301.8 350.9C301.2 353.1 301.2 356.8 300.6 358.2C300 359.6 298.7 360.2 298.1 359.4C297.5 358.6 297 355.3 296.9 353.3C296.8 351.3 297.3 349.2 297.5 347.2C297.7 345.2 297.2 342.3 298.1 341.1Z" fill="#ffffff"/>
<path d="M322 354.5C322.2 353.8 323.7 353.1 324.4 353.9C325.1 354.7 325.7 357.7 326.2 359.4C326.7 361.1 327.6 362.9 327.4 364.3C327.2 365.7 326 367.6 325 368C324 368.4 321.5 367.6 321.3 366.8C321.1 366 323.5 364.5 323.8 363.1C324.1 361.7 323.5 359.6 323.2 358.2C322.9 356.8 321.8 355.2 322 354.5Z" fill="#ffffff"/>
<path d="M145.8 432.5C146.3 431.8 148.5 432 149 432.9C149.5 433.8 149.5 437.1 149 437.8C148.5 438.6 146.7 438.3 146.2 437.4C145.7 436.5 145.3 433.2 145.8 432.5Z" fill="#ffffff"/>
<path d="M156 434.3C156.5 434 158.9 434.1 159.5 434.6C160.1 435.1 160 436.8 159.5 437.1C159 437.5 156.9 437.2 156.3 436.7C155.7 436.2 155.5 434.6 156 434.3Z" fill="#ffffff"/>
<path d="M166 184C167 182.5 170.2 182.3 172 183C173.8 183.7 175.7 186 177 188C178.3 190 180.2 193 180 195C179.8 197 177.7 199.5 176 200C174.3 200.5 171.7 199.3 170 198C168.3 196.7 166.7 194.3 166 192C165.3 189.7 165 185.5 166 184Z" fill="#ffffff"/>
<path d="M181 191C181.7 188.9 187.2 188.2 190 188.5C192.8 188.8 195.7 191.1 198 193C200.3 194.9 201.7 198 204 200C206.3 202 210 202.8 212 205C214 207.2 216.3 211 216 213C215.7 215 212.3 217 210 217C207.7 217 204.7 214.7 202 213C199.3 211.3 196.7 209 194 207C191.3 205 188.2 203.7 186 201C183.8 198.3 180.3 193.1 181 191Z" fill="#ffffff"/>
</g></g>
<use href="#fr" fill="none" stroke="#1a1a1a" stroke-width="0.55" stroke-linejoin="round"/>
<path d="M10.5 206 L12.5 207.3 L11 207.8 L10.5 206" fill="none" stroke="#1a1a1a" stroke-width="0.5"/>
<path d="M56 253.2 L59.5 254.5 L60 255.6 L57 255 L56 253.2" fill="none" stroke="#1a1a1a" stroke-width="0.5"/>
<path d="M82 268.5 L84.2 270.2 L83.4 271 L82 268.5" fill="none" stroke="#1a1a1a" stroke-width="0.5"/>
<path d="M102 301 L105 304.5 L107 309 L105.5 308 L103 304.5 L102 301" fill="none" stroke="#1a1a1a" stroke-width="0.5"/>
<path d="M99 296.5 L102.5 297.5 L104.5 299 L101 298.2 L99 296.5" fill="none" stroke="#1a1a1a" stroke-width="0.5"/>
<path d="M105.5 360.5 L107.5 358 L108.8 361.5 L105.5 360.5" fill="none" stroke="#1a1a1a" stroke-width="0.5"/>
<path d="M109.7 328 L112.2 327 L117.7 332.5 L121.5 338.8 L120.7 341.3 L116.5 337.5 L112.7 332.5 L110.2 330" fill="none" stroke="#1a1a1a" stroke-width="0.5"/>
<path d="M103.5 296 L106 299.5 L109.5 301 L111 305 L108.5 306.5 L110.5 311 L108 313.5 L109.5 318 L108 322" fill="none" stroke="#1a1a1a" stroke-width="0.5"/>
</g>

<!-- title pill -->
<rect x="171.6" y="19.2" width="456.2" height="33.1" rx="16.55" ry="16.55" fill="#f0881c"/>
<text x="399.6" y="42.8" text-anchor="middle" font-size="19.3" font-weight="bold" fill="#fff" stroke="#fff" stroke-width="0.35" textLength="376" lengthAdjust="spacingAndGlyphs">Évolution de l'aire potentielle du Hêtre</text>
<!-- year headings -->
<text x="185.1" y="89.6" text-anchor="middle" font-size="23" font-weight="bold" fill="#4a4a49" stroke="#4a4a49" stroke-width="0.7" textLength="64" lengthAdjust="spacingAndGlyphs">2005</text>
<text x="612" y="89.6" text-anchor="middle" font-size="23" font-weight="bold" fill="#4a4a49" stroke="#4a4a49" stroke-width="0.7" textLength="61" lengthAdjust="spacingAndGlyphs">2100</text>
<!-- legend -->
<g id="legend">
<rect x="374.6" y="279" width="83.2" height="163" fill="#fff" stroke="#f3a65a" stroke-width="1.1"/>
<rect x="398" y="289.2" width="13.4" height="13.6" fill="#2f5fa9"/>
<rect x="398" y="302.6" width="13.4" height="13.6" fill="#4a7dc0"/>
<rect x="398" y="316" width="13.4" height="13.6" fill="#52ab31"/>
<rect x="398" y="329.5" width="13.4" height="13.6" fill="#c5d11f"/>
<rect x="398" y="342.9" width="13.4" height="13.6" fill="#f6e514"/>
<rect x="398" y="356.3" width="13.4" height="13.6" fill="#f5a20f"/>
<rect x="398" y="369.7" width="13.4" height="13.6" fill="#ee7513"/>
<rect x="398" y="383.2" width="13.4" height="13.6" fill="#e85217"/>
<rect x="398" y="396.6" width="13.4" height="13.4" fill="#c14215"/>
<g font-size="10.3" font-weight="bold" fill="#111" stroke="#111" stroke-width="0.25">
<text x="417.6" y="299.7" textLength="16" lengthAdjust="spacingAndGlyphs">0.1</text>
<text x="417.6" y="313.2" textLength="16" lengthAdjust="spacingAndGlyphs">0.2</text>
<text x="417.6" y="326.7" textLength="16" lengthAdjust="spacingAndGlyphs">0.3</text>
<text x="417.6" y="340.2" textLength="16" lengthAdjust="spacingAndGlyphs">0.4</text>
<text x="417.6" y="353.7" textLength="16" lengthAdjust="spacingAndGlyphs">0.5</text>
<text x="417.6" y="367.2" textLength="16" lengthAdjust="spacingAndGlyphs">0.6</text>
<text x="417.6" y="380.7" textLength="16" lengthAdjust="spacingAndGlyphs">0.7</text>
<text x="417.6" y="394.2" textLength="16" lengthAdjust="spacingAndGlyphs">0.8</text>
<text x="417.6" y="407.7" textLength="16" lengthAdjust="spacingAndGlyphs">0.9</text>
<text x="385.2" y="426" font-size="9.8" textLength="60.8" lengthAdjust="spacingAndGlyphs">Probabilités</text>
<text x="385.2" y="436.2" font-size="9.8" textLength="60.8" lengthAdjust="spacingAndGlyphs">de présence</text>
</g>
</g>
<!-- source -->
<text x="340.2" y="472" font-size="9.2" font-style="italic" fill="#505050" stroke="#505050" stroke-width="0.18" textLength="151.5" lengthAdjust="spacingAndGlyphs" style="white-space:pre">Source : Carbofor Badeau et al.,  2005</text>
<!-- zone markers -->
<g fill="none" stroke="#111" stroke-width="1.45">
<circle cx="49.7" cy="215.3" r="12.4"/><circle cx="128.3" cy="272.4" r="12.4"/><circle cx="264.7" cy="157.2" r="12.4"/><circle cx="218" cy="324.3" r="12.4"/>
<circle cx="477" cy="215.3" r="12.4"/><circle cx="555.6" cy="272.4" r="12.4"/><circle cx="692" cy="157.2" r="12.4"/><circle cx="645.3" cy="324.3" r="12.4"/>
</g>
<g font-size="15.8" fill="#111" stroke="#111" stroke-width="0.6" text-anchor="middle">
<text x="49.9" y="220.8">D</text><text x="128.3" y="277.9">A</text><text x="264.7" y="162.7">B</text><text x="218.2" y="329.8">C</text>
<text x="477.2" y="220.8">D</text><text x="555.6" y="277.9">A</text><text x="692" y="162.7">B</text><text x="645.5" y="329.8">C</text>
</g>
</svg>
</body>
</html>
